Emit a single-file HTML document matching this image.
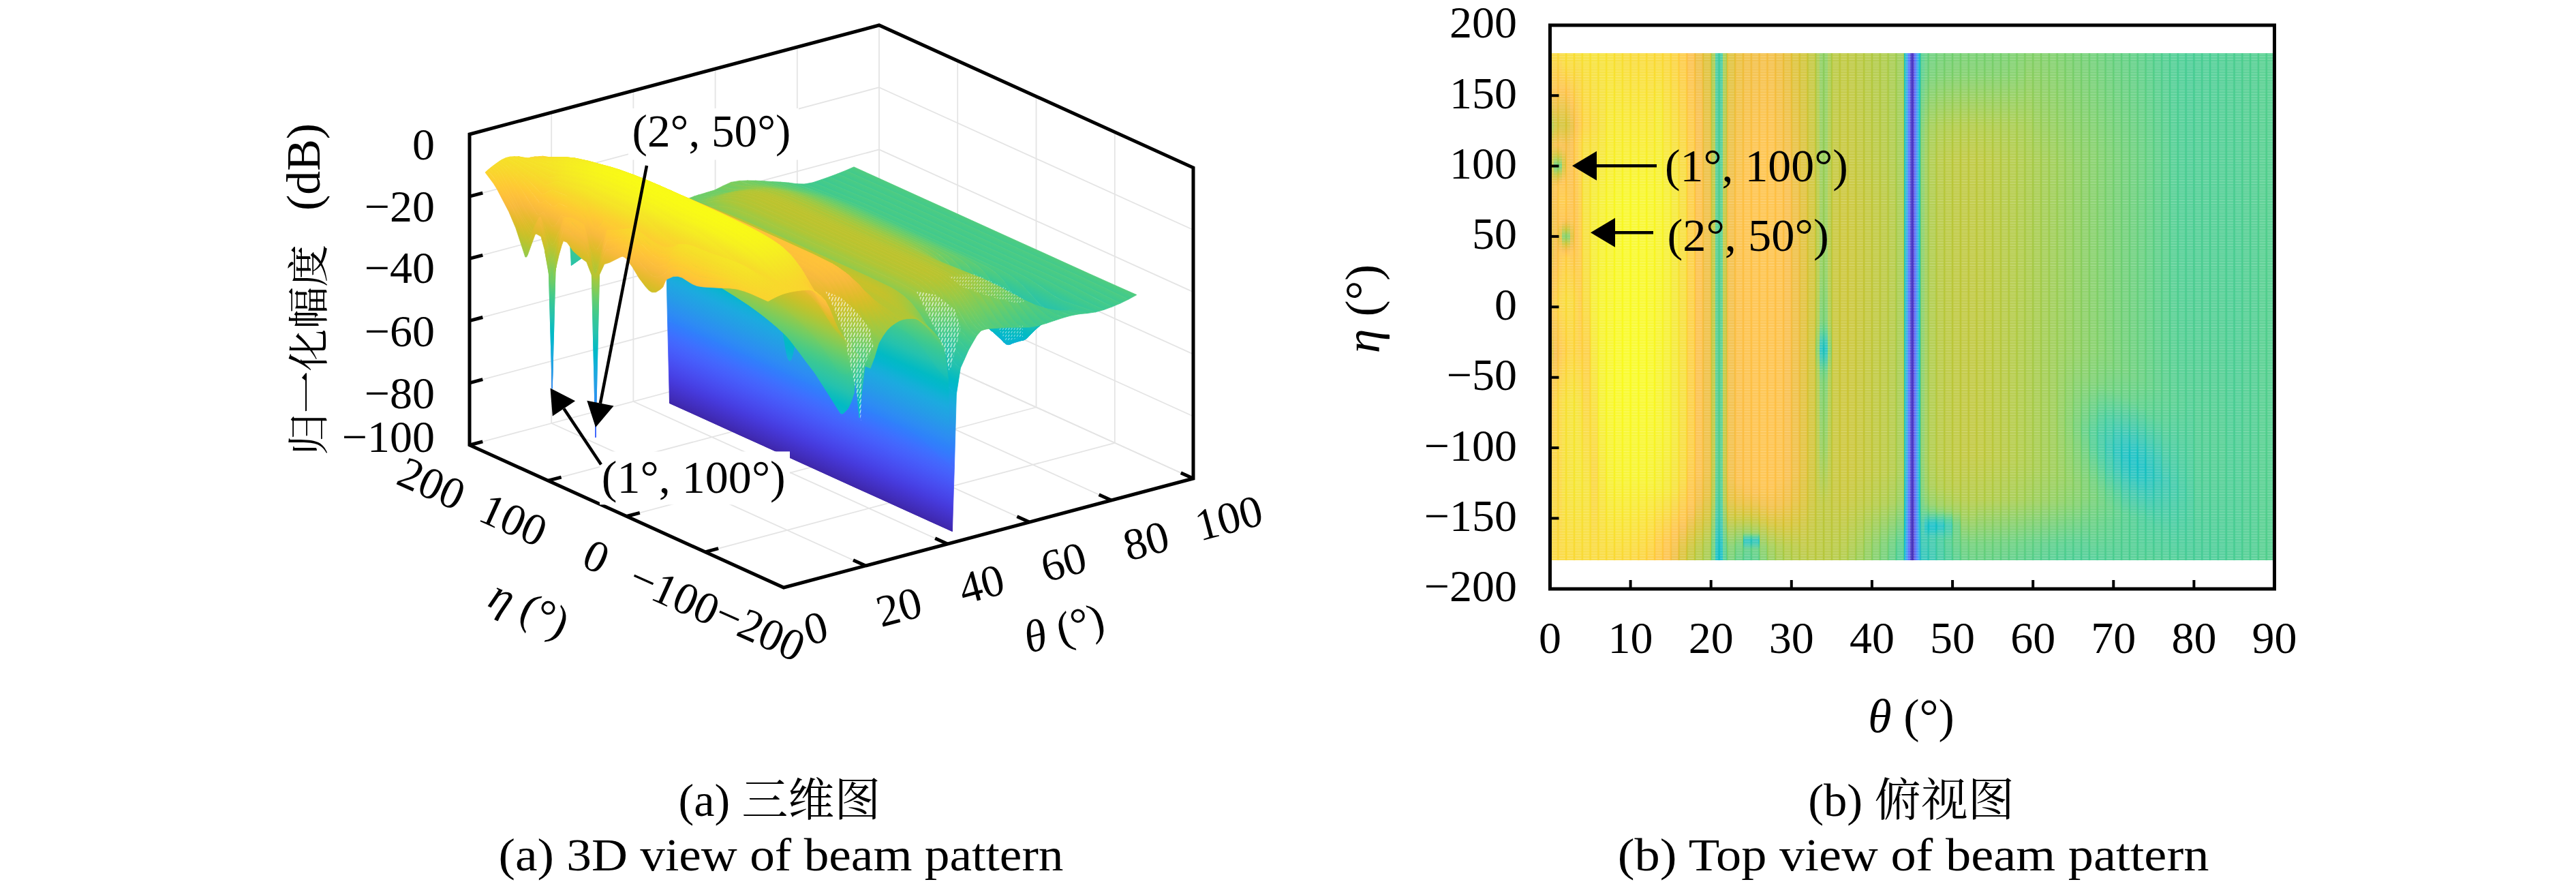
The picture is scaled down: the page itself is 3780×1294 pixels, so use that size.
<!DOCTYPE html>
<html lang="zh"><head><meta charset="utf-8"><title>Beam pattern</title>
<style>html,body{margin:0;padding:0;background:#fff}svg{display:block}text{font-family:"Liberation Serif","Noto Serif CJK SC",serif;fill:#000}</style></head><body>
<svg width="3780" height="1294" viewBox="0 0 3780 1294">
<rect width="3780" height="1294" fill="#fff"/>
<defs><linearGradient id="pal"><stop offset="0.0000" stop-color="#3e26a8"/><stop offset="0.0250" stop-color="#412dbb"/><stop offset="0.0500" stop-color="#4433cc"/><stop offset="0.0750" stop-color="#463adc"/><stop offset="0.1000" stop-color="#4743e7"/><stop offset="0.1250" stop-color="#484cef"/><stop offset="0.1500" stop-color="#4755f6"/><stop offset="0.1750" stop-color="#465efb"/><stop offset="0.2000" stop-color="#4367fd"/><stop offset="0.2250" stop-color="#3d70ff"/><stop offset="0.2500" stop-color="#347afd"/><stop offset="0.2750" stop-color="#2e83f9"/><stop offset="0.3000" stop-color="#2d8cf3"/><stop offset="0.3250" stop-color="#2994ed"/><stop offset="0.3500" stop-color="#259ce7"/><stop offset="0.3750" stop-color="#21a3e3"/><stop offset="0.4000" stop-color="#1caadf"/><stop offset="0.4250" stop-color="#13b0d7"/><stop offset="0.4500" stop-color="#05b6ce"/><stop offset="0.4750" stop-color="#02bac4"/><stop offset="0.5000" stop-color="#12beb9"/><stop offset="0.5250" stop-color="#24c2ae"/><stop offset="0.5500" stop-color="#2fc5a2"/><stop offset="0.5750" stop-color="#39c895"/><stop offset="0.6000" stop-color="#48cb86"/><stop offset="0.6250" stop-color="#5ccc76"/><stop offset="0.6500" stop-color="#71cd64"/><stop offset="0.6750" stop-color="#88cb53"/><stop offset="0.7000" stop-color="#9fc942"/><stop offset="0.7250" stop-color="#b4c533"/><stop offset="0.7500" stop-color="#c8c129"/><stop offset="0.7750" stop-color="#dabd28"/><stop offset="0.8000" stop-color="#eaba31"/><stop offset="0.8250" stop-color="#f8ba3d"/><stop offset="0.8500" stop-color="#fec13a"/><stop offset="0.8750" stop-color="#feca33"/><stop offset="0.9000" stop-color="#fad42e"/><stop offset="0.9250" stop-color="#f6de29"/><stop offset="0.9500" stop-color="#f5e825"/><stop offset="0.9750" stop-color="#f6f21e"/><stop offset="1.0000" stop-color="#f9fb15"/></linearGradient><linearGradient id="s0" href="#pal" xlink:href="#pal" gradientUnits="userSpaceOnUse" x1="1128.5" y1="851.1" x2="1299.9" y2="472.9"/><linearGradient id="s1" href="#pal" xlink:href="#pal" gradientUnits="userSpaceOnUse" x1="1131.5" y1="850.3" x2="1302.9" y2="472.1"/><linearGradient id="s2" href="#pal" xlink:href="#pal" gradientUnits="userSpaceOnUse" x1="1134.5" y1="849.5" x2="1305.9" y2="471.3"/><linearGradient id="s3" href="#pal" xlink:href="#pal" gradientUnits="userSpaceOnUse" x1="1137.5" y1="848.8" x2="1308.9" y2="470.5"/><linearGradient id="s4" href="#pal" xlink:href="#pal" gradientUnits="userSpaceOnUse" x1="1140.5" y1="847.9" x2="1311.9" y2="469.7"/><linearGradient id="s5" href="#pal" xlink:href="#pal" gradientUnits="userSpaceOnUse" x1="1143.5" y1="847.1" x2="1314.9" y2="468.9"/><linearGradient id="s6" href="#pal" xlink:href="#pal" gradientUnits="userSpaceOnUse" x1="1146.5" y1="846.3" x2="1317.9" y2="468.1"/><linearGradient id="s7" href="#pal" xlink:href="#pal" gradientUnits="userSpaceOnUse" x1="1149.5" y1="845.5" x2="1320.9" y2="467.3"/><linearGradient id="s8" href="#pal" xlink:href="#pal" gradientUnits="userSpaceOnUse" x1="1154.0" y1="844.3" x2="1325.5" y2="466.1"/><linearGradient id="s9" href="#pal" xlink:href="#pal" gradientUnits="userSpaceOnUse" x1="1160.0" y1="842.8" x2="1331.5" y2="464.5"/><linearGradient id="s10" href="#pal" xlink:href="#pal" gradientUnits="userSpaceOnUse" x1="1166.0" y1="841.1" x2="1337.5" y2="462.9"/><linearGradient id="s11" href="#pal" xlink:href="#pal" gradientUnits="userSpaceOnUse" x1="1172.0" y1="839.5" x2="1343.5" y2="461.3"/><linearGradient id="s12" href="#pal" xlink:href="#pal" gradientUnits="userSpaceOnUse" x1="1178.0" y1="837.9" x2="1349.5" y2="459.7"/><linearGradient id="s13" href="#pal" xlink:href="#pal" gradientUnits="userSpaceOnUse" x1="1184.0" y1="836.3" x2="1355.5" y2="458.1"/><linearGradient id="s14" href="#pal" xlink:href="#pal" gradientUnits="userSpaceOnUse" x1="1190.1" y1="834.8" x2="1361.5" y2="456.5"/><linearGradient id="s15" href="#pal" xlink:href="#pal" gradientUnits="userSpaceOnUse" x1="1196.1" y1="833.1" x2="1367.5" y2="454.9"/><linearGradient id="s16" href="#pal" xlink:href="#pal" gradientUnits="userSpaceOnUse" x1="1202.1" y1="831.5" x2="1373.5" y2="453.3"/><linearGradient id="s17" href="#pal" xlink:href="#pal" gradientUnits="userSpaceOnUse" x1="1208.1" y1="829.9" x2="1379.5" y2="451.7"/><linearGradient id="s18" href="#pal" xlink:href="#pal" gradientUnits="userSpaceOnUse" x1="1214.1" y1="828.3" x2="1385.6" y2="450.1"/><linearGradient id="s19" href="#pal" xlink:href="#pal" gradientUnits="userSpaceOnUse" x1="1220.1" y1="826.8" x2="1391.6" y2="448.5"/><linearGradient id="s20" href="#pal" xlink:href="#pal" gradientUnits="userSpaceOnUse" x1="1226.1" y1="825.1" x2="1397.6" y2="446.9"/><linearGradient id="s21" href="#pal" xlink:href="#pal" gradientUnits="userSpaceOnUse" x1="1232.1" y1="823.5" x2="1403.6" y2="445.3"/><linearGradient id="s22" href="#pal" xlink:href="#pal" gradientUnits="userSpaceOnUse" x1="1238.1" y1="821.9" x2="1409.6" y2="443.7"/><linearGradient id="s23" href="#pal" xlink:href="#pal" gradientUnits="userSpaceOnUse" x1="1242.6" y1="820.8" x2="1414.1" y2="442.5"/><linearGradient id="s24" href="#pal" xlink:href="#pal" gradientUnits="userSpaceOnUse" x1="1245.6" y1="819.9" x2="1417.1" y2="441.7"/><linearGradient id="s25" href="#pal" xlink:href="#pal" gradientUnits="userSpaceOnUse" x1="1248.7" y1="819.1" x2="1420.1" y2="440.9"/><linearGradient id="s26" href="#pal" xlink:href="#pal" gradientUnits="userSpaceOnUse" x1="1251.7" y1="818.3" x2="1423.1" y2="440.1"/><linearGradient id="s27" href="#pal" xlink:href="#pal" gradientUnits="userSpaceOnUse" x1="1254.7" y1="817.5" x2="1426.1" y2="439.3"/><linearGradient id="s28" href="#pal" xlink:href="#pal" gradientUnits="userSpaceOnUse" x1="1257.7" y1="816.8" x2="1429.1" y2="438.5"/><linearGradient id="s29" href="#pal" xlink:href="#pal" gradientUnits="userSpaceOnUse" x1="1260.7" y1="815.9" x2="1432.1" y2="437.7"/><linearGradient id="s30" href="#pal" xlink:href="#pal" gradientUnits="userSpaceOnUse" x1="1263.7" y1="815.1" x2="1435.1" y2="436.9"/><linearGradient id="s31" href="#pal" xlink:href="#pal" gradientUnits="userSpaceOnUse" x1="1268.2" y1="813.9" x2="1439.6" y2="435.7"/><linearGradient id="s32" href="#pal" xlink:href="#pal" gradientUnits="userSpaceOnUse" x1="1274.2" y1="812.3" x2="1445.7" y2="434.1"/><linearGradient id="s33" href="#pal" xlink:href="#pal" gradientUnits="userSpaceOnUse" x1="1280.2" y1="810.8" x2="1451.7" y2="432.5"/><linearGradient id="s34" href="#pal" xlink:href="#pal" gradientUnits="userSpaceOnUse" x1="1286.2" y1="809.1" x2="1457.7" y2="430.9"/><linearGradient id="s35" href="#pal" xlink:href="#pal" gradientUnits="userSpaceOnUse" x1="1292.2" y1="807.5" x2="1463.7" y2="429.3"/><linearGradient id="s36" href="#pal" xlink:href="#pal" gradientUnits="userSpaceOnUse" x1="1298.2" y1="805.9" x2="1469.7" y2="427.7"/><linearGradient id="s37" href="#pal" xlink:href="#pal" gradientUnits="userSpaceOnUse" x1="1304.2" y1="804.3" x2="1475.7" y2="426.1"/><linearGradient id="s38" href="#pal" xlink:href="#pal" gradientUnits="userSpaceOnUse" x1="1310.3" y1="802.8" x2="1481.7" y2="424.5"/><linearGradient id="s39" href="#pal" xlink:href="#pal" gradientUnits="userSpaceOnUse" x1="1316.3" y1="801.1" x2="1487.7" y2="422.9"/><linearGradient id="s40" href="#pal" xlink:href="#pal" gradientUnits="userSpaceOnUse" x1="1322.3" y1="799.5" x2="1493.7" y2="421.3"/><linearGradient id="s41" href="#pal" xlink:href="#pal" gradientUnits="userSpaceOnUse" x1="1326.8" y1="798.3" x2="1498.2" y2="420.1"/><linearGradient id="s42" href="#pal" xlink:href="#pal" gradientUnits="userSpaceOnUse" x1="1329.8" y1="797.5" x2="1501.2" y2="419.3"/><linearGradient id="s43" href="#pal" xlink:href="#pal" gradientUnits="userSpaceOnUse" x1="1332.8" y1="796.8" x2="1504.3" y2="418.5"/><linearGradient id="s44" href="#pal" xlink:href="#pal" gradientUnits="userSpaceOnUse" x1="1335.8" y1="795.9" x2="1507.3" y2="417.7"/><linearGradient id="s45" href="#pal" xlink:href="#pal" gradientUnits="userSpaceOnUse" x1="1340.3" y1="794.8" x2="1511.8" y2="416.5"/><linearGradient id="s46" href="#pal" xlink:href="#pal" gradientUnits="userSpaceOnUse" x1="1346.3" y1="793.1" x2="1517.8" y2="414.9"/><linearGradient id="s47" href="#pal" xlink:href="#pal" gradientUnits="userSpaceOnUse" x1="1352.3" y1="791.5" x2="1523.8" y2="413.3"/><linearGradient id="s48" href="#pal" xlink:href="#pal" gradientUnits="userSpaceOnUse" x1="1358.3" y1="789.9" x2="1529.8" y2="411.7"/><linearGradient id="s49" href="#pal" xlink:href="#pal" gradientUnits="userSpaceOnUse" x1="1364.3" y1="788.3" x2="1535.8" y2="410.1"/><linearGradient id="s50" href="#pal" xlink:href="#pal" gradientUnits="userSpaceOnUse" x1="1370.4" y1="786.8" x2="1541.8" y2="408.5"/><linearGradient id="s51" href="#pal" xlink:href="#pal" gradientUnits="userSpaceOnUse" x1="1376.4" y1="785.1" x2="1547.8" y2="406.9"/><linearGradient id="s52" href="#pal" xlink:href="#pal" gradientUnits="userSpaceOnUse" x1="1382.4" y1="783.5" x2="1553.8" y2="405.3"/><linearGradient id="s53" href="#pal" xlink:href="#pal" gradientUnits="userSpaceOnUse" x1="1388.4" y1="781.9" x2="1559.8" y2="403.7"/><linearGradient id="s54" href="#pal" xlink:href="#pal" gradientUnits="userSpaceOnUse" x1="1392.9" y1="780.8" x2="1564.4" y2="402.5"/><linearGradient id="s55" href="#pal" xlink:href="#pal" gradientUnits="userSpaceOnUse" x1="1395.9" y1="779.9" x2="1567.4" y2="401.7"/><linearGradient id="s56" href="#pal" xlink:href="#pal" gradientUnits="userSpaceOnUse" x1="1398.9" y1="779.1" x2="1570.4" y2="400.9"/><linearGradient id="s57" href="#pal" xlink:href="#pal" gradientUnits="userSpaceOnUse" x1="1401.9" y1="778.3" x2="1573.4" y2="400.1"/><linearGradient id="s58" href="#pal" xlink:href="#pal" gradientUnits="userSpaceOnUse" x1="1406.4" y1="777.1" x2="1577.9" y2="398.9"/><linearGradient id="s59" href="#pal" xlink:href="#pal" gradientUnits="userSpaceOnUse" x1="1412.4" y1="775.5" x2="1583.9" y2="397.3"/><linearGradient id="s60" href="#pal" xlink:href="#pal" gradientUnits="userSpaceOnUse" x1="1418.4" y1="773.9" x2="1589.9" y2="395.7"/><linearGradient id="s61" href="#pal" xlink:href="#pal" gradientUnits="userSpaceOnUse" x1="1424.4" y1="772.3" x2="1595.9" y2="394.1"/><linearGradient id="s62" href="#pal" xlink:href="#pal" gradientUnits="userSpaceOnUse" x1="1430.5" y1="770.8" x2="1601.9" y2="392.5"/><linearGradient id="s63" href="#pal" xlink:href="#pal" gradientUnits="userSpaceOnUse" x1="1436.5" y1="769.1" x2="1607.9" y2="390.9"/><linearGradient id="s64" href="#pal" xlink:href="#pal" gradientUnits="userSpaceOnUse" x1="1442.5" y1="767.5" x2="1613.9" y2="389.3"/><linearGradient id="s65" href="#pal" xlink:href="#pal" gradientUnits="userSpaceOnUse" x1="1448.5" y1="765.9" x2="1619.9" y2="387.7"/><linearGradient id="s66" href="#pal" xlink:href="#pal" gradientUnits="userSpaceOnUse" x1="1454.5" y1="764.3" x2="1626.0" y2="386.1"/><linearGradient id="s67" href="#pal" xlink:href="#pal" gradientUnits="userSpaceOnUse" x1="1460.5" y1="762.8" x2="1632.0" y2="384.5"/><linearGradient id="s68" href="#pal" xlink:href="#pal" gradientUnits="userSpaceOnUse" x1="1469.5" y1="760.3" x2="1641.0" y2="382.1"/><linearGradient id="s69" href="#pal" xlink:href="#pal" gradientUnits="userSpaceOnUse" x1="1481.5" y1="757.1" x2="1653.0" y2="378.9"/><linearGradient id="s70" href="#pal" xlink:href="#pal" gradientUnits="userSpaceOnUse" x1="1493.6" y1="753.9" x2="1665.0" y2="375.7"/><linearGradient id="s71" href="#pal" xlink:href="#pal" gradientUnits="userSpaceOnUse" x1="1505.6" y1="750.8" x2="1677.0" y2="372.5"/><linearGradient id="s72" href="#pal" xlink:href="#pal" gradientUnits="userSpaceOnUse" x1="1517.6" y1="747.5" x2="1689.1" y2="369.3"/><linearGradient id="s73" href="#pal" xlink:href="#pal" gradientUnits="userSpaceOnUse" x1="1529.6" y1="744.3" x2="1701.1" y2="366.1"/><linearGradient id="s74" href="#pal" xlink:href="#pal" gradientUnits="userSpaceOnUse" x1="1541.6" y1="741.1" x2="1713.1" y2="362.9"/><linearGradient id="s75" href="#pal" xlink:href="#pal" gradientUnits="userSpaceOnUse" x1="1553.7" y1="737.9" x2="1725.1" y2="359.7"/><linearGradient id="s76" href="#pal" xlink:href="#pal" gradientUnits="userSpaceOnUse" x1="1565.7" y1="734.8" x2="1737.1" y2="356.5"/><linearGradient id="s77" href="#pal" xlink:href="#pal" gradientUnits="userSpaceOnUse" x1="1577.7" y1="731.5" x2="1749.2" y2="353.3"/><linearGradient id="s78" href="#pal" xlink:href="#pal" gradientUnits="userSpaceOnUse" x1="1589.7" y1="728.3" x2="1761.2" y2="350.1"/><linearGradient id="s79" href="#pal" xlink:href="#pal" gradientUnits="userSpaceOnUse" x1="1601.7" y1="725.1" x2="1773.2" y2="346.9"/><linearGradient id="s80" href="#pal" xlink:href="#pal" gradientUnits="userSpaceOnUse" x1="1613.8" y1="721.9" x2="1785.2" y2="343.7"/><linearGradient id="s81" href="#pal" xlink:href="#pal" gradientUnits="userSpaceOnUse" x1="1625.8" y1="718.8" x2="1797.2" y2="340.5"/><linearGradient id="s82" href="#pal" xlink:href="#pal" gradientUnits="userSpaceOnUse" x1="1637.8" y1="715.5" x2="1809.3" y2="337.3"/><linearGradient id="s83" href="#pal" xlink:href="#pal" gradientUnits="userSpaceOnUse" x1="1649.8" y1="712.3" x2="1821.3" y2="334.1"/><linearGradient id="s84" href="#pal" xlink:href="#pal" gradientUnits="userSpaceOnUse" x1="1661.8" y1="709.1" x2="1833.3" y2="330.9"/><linearGradient id="h0" x1="0" y1="0" x2="0" y2="1"><stop offset="0.0000" stop-color="#fad634"/><stop offset="0.0556" stop-color="#fec53e"/><stop offset="0.0806" stop-color="#f8bc43"/><stop offset="0.1194" stop-color="#d2c12e"/><stop offset="0.1417" stop-color="#afc83e"/><stop offset="0.1472" stop-color="#b2c83c"/><stop offset="0.1639" stop-color="#d2c12e"/><stop offset="0.1778" stop-color="#e8bd35"/><stop offset="0.1889" stop-color="#e7bd34"/><stop offset="0.2028" stop-color="#d0c22e"/><stop offset="0.2222" stop-color="#b9c638"/><stop offset="0.2417" stop-color="#d5c12e"/><stop offset="0.2556" stop-color="#eebc39"/><stop offset="0.2806" stop-color="#f3bc3f"/><stop offset="0.3778" stop-color="#e3be32"/><stop offset="0.4528" stop-color="#f8bc42"/><stop offset="0.5056" stop-color="#fec042"/><stop offset="0.5278" stop-color="#f8bc43"/><stop offset="0.5889" stop-color="#e2be31"/><stop offset="0.6444" stop-color="#fec042"/><stop offset="0.8861" stop-color="#fbd435"/><stop offset="1.0000" stop-color="#fbd534"/></linearGradient><linearGradient id="h1" x1="0" y1="0" x2="0" y2="1"><stop offset="0.0000" stop-color="#f9d833"/><stop offset="0.0750" stop-color="#fdbf42"/><stop offset="0.1083" stop-color="#eabd37"/><stop offset="0.1417" stop-color="#cac330"/><stop offset="0.1583" stop-color="#ddbf2f"/><stop offset="0.1806" stop-color="#f6bc41"/><stop offset="0.1944" stop-color="#dfbf30"/><stop offset="0.2028" stop-color="#c6c431"/><stop offset="0.2083" stop-color="#adc93f"/><stop offset="0.2194" stop-color="#6bce71"/><stop offset="0.2222" stop-color="#65ce76"/><stop offset="0.2250" stop-color="#6cce71"/><stop offset="0.2361" stop-color="#b2c83c"/><stop offset="0.2417" stop-color="#cdc22f"/><stop offset="0.2528" stop-color="#eebc39"/><stop offset="0.2639" stop-color="#fec042"/><stop offset="0.3611" stop-color="#f3bc3e"/><stop offset="0.4250" stop-color="#febf42"/><stop offset="0.4889" stop-color="#fdcc39"/><stop offset="0.5944" stop-color="#f8bc43"/><stop offset="0.6833" stop-color="#fcd136"/><stop offset="1.0000" stop-color="#fad634"/></linearGradient><linearGradient id="h2" x1="0" y1="0" x2="0" y2="1"><stop offset="0.0000" stop-color="#f9d932"/><stop offset="0.0722" stop-color="#fec042"/><stop offset="0.1417" stop-color="#d2c12e"/><stop offset="0.1806" stop-color="#f9bd43"/><stop offset="0.1917" stop-color="#eabd36"/><stop offset="0.2028" stop-color="#cdc22f"/><stop offset="0.2083" stop-color="#b5c73a"/><stop offset="0.2194" stop-color="#75ce69"/><stop offset="0.2222" stop-color="#6fce6e"/><stop offset="0.2250" stop-color="#76ce68"/><stop offset="0.2333" stop-color="#adc940"/><stop offset="0.2389" stop-color="#cbc330"/><stop offset="0.2500" stop-color="#efbc3b"/><stop offset="0.2556" stop-color="#fabd43"/><stop offset="0.2611" stop-color="#fec240"/><stop offset="0.2889" stop-color="#fec73c"/><stop offset="0.3306" stop-color="#febf42"/><stop offset="0.3611" stop-color="#dfbf30"/><stop offset="0.3861" stop-color="#f9bd43"/><stop offset="0.3944" stop-color="#fec340"/><stop offset="0.4889" stop-color="#fbd435"/><stop offset="0.5889" stop-color="#fec340"/><stop offset="0.6833" stop-color="#fad733"/><stop offset="1.0000" stop-color="#fad634"/></linearGradient><linearGradient id="h3" x1="0" y1="0" x2="0" y2="1"><stop offset="0.0000" stop-color="#f8db32"/><stop offset="0.0222" stop-color="#f9d833"/><stop offset="0.0722" stop-color="#fec042"/><stop offset="0.1417" stop-color="#d2c12e"/><stop offset="0.1556" stop-color="#debf30"/><stop offset="0.1806" stop-color="#f6bc41"/><stop offset="0.1889" stop-color="#f6bc41"/><stop offset="0.2056" stop-color="#e1be31"/><stop offset="0.2222" stop-color="#d5c12e"/><stop offset="0.2528" stop-color="#febf42"/><stop offset="0.2889" stop-color="#fec83c"/><stop offset="0.3250" stop-color="#fec141"/><stop offset="0.3306" stop-color="#f9bd43"/><stop offset="0.3361" stop-color="#eebc3a"/><stop offset="0.3472" stop-color="#c9c330"/><stop offset="0.3583" stop-color="#8acd5a"/><stop offset="0.3611" stop-color="#84cd5e"/><stop offset="0.3639" stop-color="#8acd59"/><stop offset="0.3750" stop-color="#cbc32f"/><stop offset="0.3833" stop-color="#eabd36"/><stop offset="0.3889" stop-color="#f7bc42"/><stop offset="0.3944" stop-color="#fec141"/><stop offset="0.4028" stop-color="#feca3a"/><stop offset="0.4889" stop-color="#f9d933"/><stop offset="0.5861" stop-color="#feca3a"/><stop offset="0.6861" stop-color="#f7dd31"/><stop offset="0.8667" stop-color="#f7df30"/><stop offset="1.0000" stop-color="#fad733"/></linearGradient><linearGradient id="h4" x1="0" y1="0" x2="0" y2="1"><stop offset="0.0000" stop-color="#f8dc31"/><stop offset="0.0222" stop-color="#f9da32"/><stop offset="0.0806" stop-color="#fdbf42"/><stop offset="0.1417" stop-color="#d6c02e"/><stop offset="0.1806" stop-color="#f3bc3f"/><stop offset="0.2917" stop-color="#fec43f"/><stop offset="0.3250" stop-color="#fdbf42"/><stop offset="0.3361" stop-color="#ebbc38"/><stop offset="0.3444" stop-color="#d2c12e"/><stop offset="0.3500" stop-color="#b8c738"/><stop offset="0.3583" stop-color="#88cd5b"/><stop offset="0.3611" stop-color="#82cd60"/><stop offset="0.3639" stop-color="#89cd5a"/><stop offset="0.3750" stop-color="#cbc32f"/><stop offset="0.3833" stop-color="#eabd36"/><stop offset="0.3889" stop-color="#f8bc42"/><stop offset="0.3944" stop-color="#fec141"/><stop offset="0.4028" stop-color="#fecb3a"/><stop offset="0.4889" stop-color="#f8db32"/><stop offset="0.5861" stop-color="#fdd037"/><stop offset="0.6889" stop-color="#f6e02f"/><stop offset="0.8611" stop-color="#f6e12f"/><stop offset="1.0000" stop-color="#fad833"/></linearGradient><linearGradient id="h5" x1="0" y1="0" x2="0" y2="1"><stop offset="0.0000" stop-color="#f7dd30"/><stop offset="0.0333" stop-color="#f9d833"/><stop offset="0.0972" stop-color="#fec042"/><stop offset="0.1250" stop-color="#f1bc3c"/><stop offset="0.1444" stop-color="#e8bd34"/><stop offset="0.1778" stop-color="#fabd43"/><stop offset="0.3278" stop-color="#fec042"/><stop offset="0.3611" stop-color="#dfbf30"/><stop offset="0.3833" stop-color="#f8bc42"/><stop offset="0.3917" stop-color="#fec240"/><stop offset="0.4889" stop-color="#f9d833"/><stop offset="0.5889" stop-color="#fcd335"/><stop offset="0.6861" stop-color="#f5e32e"/><stop offset="0.8556" stop-color="#f5e32e"/><stop offset="1.0000" stop-color="#f9d833"/></linearGradient><linearGradient id="h6" x1="0" y1="0" x2="0" y2="1"><stop offset="0.0000" stop-color="#f7de30"/><stop offset="0.1417" stop-color="#fbbe43"/><stop offset="0.1806" stop-color="#fec73d"/><stop offset="0.3639" stop-color="#fdbf42"/><stop offset="0.4889" stop-color="#fcd236"/><stop offset="0.5917" stop-color="#fcd136"/><stop offset="0.6944" stop-color="#f5e32e"/><stop offset="0.8500" stop-color="#f5e52d"/><stop offset="1.0000" stop-color="#f9d833"/></linearGradient><linearGradient id="h7" x1="0" y1="0" x2="0" y2="1"><stop offset="0.0000" stop-color="#f6df2f"/><stop offset="0.1417" stop-color="#fec73c"/><stop offset="0.1806" stop-color="#fcd236"/><stop offset="0.3833" stop-color="#fec93b"/><stop offset="0.5806" stop-color="#fecc39"/><stop offset="0.6833" stop-color="#f7de30"/><stop offset="0.8333" stop-color="#f5e52d"/><stop offset="1.0000" stop-color="#f9d933"/></linearGradient><linearGradient id="h8" x1="0" y1="0" x2="0" y2="1"><stop offset="0.0000" stop-color="#f6e02f"/><stop offset="0.1417" stop-color="#fcd236"/><stop offset="0.1806" stop-color="#f7dd31"/><stop offset="0.2889" stop-color="#f6e22e"/><stop offset="0.4889" stop-color="#f8da32"/><stop offset="0.5917" stop-color="#fdcd39"/><stop offset="0.8611" stop-color="#f6e22f"/><stop offset="1.0000" stop-color="#f9d933"/></linearGradient><linearGradient id="h9" x1="0" y1="0" x2="0" y2="1"><stop offset="0.0000" stop-color="#f6e12f"/><stop offset="0.1417" stop-color="#f8da32"/><stop offset="0.2778" stop-color="#f5eb2a"/><stop offset="0.4861" stop-color="#f6ee28"/><stop offset="0.8194" stop-color="#fad534"/><stop offset="1.0000" stop-color="#f9d933"/></linearGradient><linearGradient id="h10" x1="0" y1="0" x2="0" y2="1"><stop offset="0.0000" stop-color="#f6e02f"/><stop offset="0.1389" stop-color="#f6e02f"/><stop offset="0.2806" stop-color="#f6ef27"/><stop offset="0.4917" stop-color="#f7f423"/><stop offset="0.7028" stop-color="#f6f125"/><stop offset="1.0000" stop-color="#f9d833"/></linearGradient><linearGradient id="h11" x1="0" y1="0" x2="0" y2="1"><stop offset="0.0000" stop-color="#f7df30"/><stop offset="0.2889" stop-color="#f7f324"/><stop offset="0.6750" stop-color="#f8f720"/><stop offset="0.8361" stop-color="#f6f026"/><stop offset="1.0000" stop-color="#f9d833"/></linearGradient><linearGradient id="h12" x1="0" y1="0" x2="0" y2="1"><stop offset="0.0000" stop-color="#f7dd31"/><stop offset="0.2889" stop-color="#f7f622"/><stop offset="0.6583" stop-color="#f9f91d"/><stop offset="0.8361" stop-color="#f7f224"/><stop offset="1.0000" stop-color="#fad733"/></linearGradient><linearGradient id="h13" x1="0" y1="0" x2="0" y2="1"><stop offset="0.0000" stop-color="#f8da32"/><stop offset="0.2833" stop-color="#f8f720"/><stop offset="0.6361" stop-color="#f9fb1c"/><stop offset="0.8333" stop-color="#f7f323"/><stop offset="1.0000" stop-color="#fad634"/></linearGradient><linearGradient id="h14" x1="0" y1="0" x2="0" y2="1"><stop offset="0.0000" stop-color="#f9d932"/><stop offset="0.2778" stop-color="#f8f720"/><stop offset="0.6278" stop-color="#f9fb1c"/><stop offset="0.8333" stop-color="#f7f423"/><stop offset="1.0000" stop-color="#fbd435"/></linearGradient><linearGradient id="h15" x1="0" y1="0" x2="0" y2="1"><stop offset="0.0000" stop-color="#f9d933"/><stop offset="0.2750" stop-color="#f8f621"/><stop offset="0.6417" stop-color="#f9fa1d"/><stop offset="0.8389" stop-color="#f7f324"/><stop offset="1.0000" stop-color="#fcd136"/></linearGradient><linearGradient id="h16" x1="0" y1="0" x2="0" y2="1"><stop offset="0.0000" stop-color="#f9d833"/><stop offset="0.2750" stop-color="#f7f522"/><stop offset="0.6694" stop-color="#f8f81f"/><stop offset="0.8444" stop-color="#f6f126"/><stop offset="1.0000" stop-color="#fecc39"/></linearGradient><linearGradient id="h17" x1="0" y1="0" x2="0" y2="1"><stop offset="0.0000" stop-color="#fad733"/><stop offset="0.1250" stop-color="#f5e92b"/><stop offset="0.2778" stop-color="#f7f324"/><stop offset="0.7278" stop-color="#f7f423"/><stop offset="0.8556" stop-color="#f5ed29"/><stop offset="0.9611" stop-color="#fecb3a"/><stop offset="1.0000" stop-color="#fec63d"/></linearGradient><linearGradient id="h18" x1="0" y1="0" x2="0" y2="1"><stop offset="0.0000" stop-color="#fad534"/><stop offset="0.2806" stop-color="#f6ef28"/><stop offset="0.7500" stop-color="#f6f027"/><stop offset="0.8583" stop-color="#f5e82b"/><stop offset="0.9611" stop-color="#fec43f"/><stop offset="1.0000" stop-color="#fdbf42"/></linearGradient><linearGradient id="h19" x1="0" y1="0" x2="0" y2="1"><stop offset="0.0000" stop-color="#fcd136"/><stop offset="0.2778" stop-color="#f5e82c"/><stop offset="0.7500" stop-color="#f5e92b"/><stop offset="0.8583" stop-color="#f6e12f"/><stop offset="0.9444" stop-color="#fec042"/><stop offset="1.0000" stop-color="#edbc39"/></linearGradient><linearGradient id="h20" x1="0" y1="0" x2="0" y2="1"><stop offset="0.0000" stop-color="#fec83c"/><stop offset="0.2667" stop-color="#f7dd31"/><stop offset="0.6806" stop-color="#f7df30"/><stop offset="0.8389" stop-color="#f9d932"/><stop offset="0.9194" stop-color="#fec141"/><stop offset="0.9333" stop-color="#f8bc43"/><stop offset="0.9750" stop-color="#debf2f"/><stop offset="1.0000" stop-color="#d8c02e"/></linearGradient><linearGradient id="h21" x1="0" y1="0" x2="0" y2="1"><stop offset="0.0000" stop-color="#fbbd43"/><stop offset="0.1694" stop-color="#fec93b"/><stop offset="0.4500" stop-color="#fdce38"/><stop offset="0.7917" stop-color="#fdcc39"/><stop offset="0.8889" stop-color="#fec042"/><stop offset="0.9056" stop-color="#f8bc43"/><stop offset="0.9472" stop-color="#dcbf2f"/><stop offset="0.9750" stop-color="#c9c330"/><stop offset="1.0000" stop-color="#c2c533"/></linearGradient><linearGradient id="h22" x1="0" y1="0" x2="0" y2="1"><stop offset="0.0000" stop-color="#ecbc38"/><stop offset="0.1250" stop-color="#f8bc43"/><stop offset="0.2667" stop-color="#fcbe42"/><stop offset="0.8250" stop-color="#fbbe43"/><stop offset="0.8833" stop-color="#f1bc3c"/><stop offset="0.9361" stop-color="#d2c12e"/><stop offset="0.9722" stop-color="#b9c638"/><stop offset="1.0000" stop-color="#b1c83d"/></linearGradient><linearGradient id="h23" x1="0" y1="0" x2="0" y2="1"><stop offset="0.0000" stop-color="#dcbf2f"/><stop offset="0.2833" stop-color="#efbc3a"/><stop offset="0.8167" stop-color="#eebc39"/><stop offset="0.8694" stop-color="#e6bd33"/><stop offset="0.9139" stop-color="#d2c12e"/><stop offset="0.9694" stop-color="#aac941"/><stop offset="1.0000" stop-color="#a1ca47"/></linearGradient><linearGradient id="h24" x1="0" y1="0" x2="0" y2="1"><stop offset="0.0000" stop-color="#a0ca48"/><stop offset="0.2833" stop-color="#bcc636"/><stop offset="0.8139" stop-color="#bbc637"/><stop offset="0.8806" stop-color="#acc940"/><stop offset="0.9639" stop-color="#69ce73"/><stop offset="1.0000" stop-color="#5dce7d"/></linearGradient><linearGradient id="h25" x1="0" y1="0" x2="0" y2="1"><stop offset="0.0000" stop-color="#3ac99e"/><stop offset="0.2917" stop-color="#4ccc8b"/><stop offset="0.8083" stop-color="#4ccc8b"/><stop offset="0.8639" stop-color="#44cb92"/><stop offset="0.9111" stop-color="#37c7a3"/><stop offset="0.9694" stop-color="#13bfbe"/><stop offset="1.0000" stop-color="#0bbdc4"/></linearGradient><linearGradient id="h26" x1="0" y1="0" x2="0" y2="1"><stop offset="0.0000" stop-color="#3ac99e"/><stop offset="0.2944" stop-color="#4dcd8a"/><stop offset="0.8083" stop-color="#4dcd8a"/><stop offset="0.8611" stop-color="#46cc91"/><stop offset="0.9056" stop-color="#38c8a1"/><stop offset="0.9333" stop-color="#2bc3b0"/><stop offset="0.9694" stop-color="#0ebec2"/><stop offset="1.0000" stop-color="#09bbc8"/></linearGradient><linearGradient id="h27" x1="0" y1="0" x2="0" y2="1"><stop offset="0.0000" stop-color="#a3ca47"/><stop offset="0.2917" stop-color="#c1c534"/><stop offset="0.8194" stop-color="#c1c534"/><stop offset="0.8833" stop-color="#adc940"/><stop offset="0.9667" stop-color="#54cd84"/><stop offset="1.0000" stop-color="#47cc90"/></linearGradient><linearGradient id="h28" x1="0" y1="0" x2="0" y2="1"><stop offset="0.0000" stop-color="#debf30"/><stop offset="0.2944" stop-color="#f4bc3f"/><stop offset="0.8333" stop-color="#f2bc3e"/><stop offset="0.8778" stop-color="#e6bd33"/><stop offset="0.9139" stop-color="#c9c330"/><stop offset="0.9722" stop-color="#7ace65"/><stop offset="1.0000" stop-color="#6cce71"/></linearGradient><linearGradient id="h29" x1="0" y1="0" x2="0" y2="1"><stop offset="0.0000" stop-color="#eabd36"/><stop offset="0.2889" stop-color="#fcbf42"/><stop offset="0.8444" stop-color="#fabd43"/><stop offset="0.8861" stop-color="#e8bd35"/><stop offset="0.9167" stop-color="#c7c430"/><stop offset="0.9694" stop-color="#6cce70"/><stop offset="1.0000" stop-color="#58cd81"/></linearGradient><linearGradient id="h30" x1="0" y1="0" x2="0" y2="1"><stop offset="0.0000" stop-color="#efbc3b"/><stop offset="0.2389" stop-color="#fec042"/><stop offset="0.8444" stop-color="#fcbe42"/><stop offset="0.8639" stop-color="#f7bc42"/><stop offset="0.8889" stop-color="#e8bd34"/><stop offset="0.9083" stop-color="#d2c12e"/><stop offset="0.9222" stop-color="#bcc636"/><stop offset="0.9444" stop-color="#8fcc56"/><stop offset="0.9472" stop-color="#7cce64"/><stop offset="0.9528" stop-color="#44cb92"/><stop offset="0.9583" stop-color="#28c3b2"/><stop offset="0.9611" stop-color="#1dc1b9"/><stop offset="0.9667" stop-color="#2cc4af"/><stop offset="0.9778" stop-color="#57cd82"/><stop offset="1.0000" stop-color="#4bcc8c"/></linearGradient><linearGradient id="h31" x1="0" y1="0" x2="0" y2="1"><stop offset="0.0000" stop-color="#f1bc3d"/><stop offset="0.2028" stop-color="#fec042"/><stop offset="0.8444" stop-color="#febf42"/><stop offset="0.8667" stop-color="#f9bc43"/><stop offset="0.8889" stop-color="#ebbd37"/><stop offset="0.9111" stop-color="#d2c12e"/><stop offset="0.9250" stop-color="#bcc636"/><stop offset="0.9444" stop-color="#95cc51"/><stop offset="0.9472" stop-color="#83cd5f"/><stop offset="0.9528" stop-color="#49cc8e"/><stop offset="0.9583" stop-color="#2dc4af"/><stop offset="0.9611" stop-color="#24c2b5"/><stop offset="0.9667" stop-color="#30c5ab"/><stop offset="0.9778" stop-color="#5ece7d"/><stop offset="1.0000" stop-color="#52cd86"/></linearGradient><linearGradient id="h32" x1="0" y1="0" x2="0" y2="1"><stop offset="0.0000" stop-color="#f3bc3e"/><stop offset="0.1861" stop-color="#fec042"/><stop offset="0.8528" stop-color="#fec042"/><stop offset="0.8889" stop-color="#f1bc3d"/><stop offset="0.9222" stop-color="#d1c22e"/><stop offset="0.9722" stop-color="#86cd5c"/><stop offset="1.0000" stop-color="#75ce69"/></linearGradient><linearGradient id="h33" x1="0" y1="0" x2="0" y2="1"><stop offset="0.0000" stop-color="#f2bc3d"/><stop offset="0.1944" stop-color="#fec042"/><stop offset="0.8556" stop-color="#febf42"/><stop offset="0.8944" stop-color="#f1bc3c"/><stop offset="0.9278" stop-color="#d3c12e"/><stop offset="0.9722" stop-color="#9dcb4b"/><stop offset="1.0000" stop-color="#8fcc56"/></linearGradient><linearGradient id="h34" x1="0" y1="0" x2="0" y2="1"><stop offset="0.0000" stop-color="#edbc39"/><stop offset="0.2861" stop-color="#febf42"/><stop offset="0.8389" stop-color="#fdbf42"/><stop offset="0.8889" stop-color="#f2bc3d"/><stop offset="0.9306" stop-color="#d3c12e"/><stop offset="0.9722" stop-color="#aac942"/><stop offset="1.0000" stop-color="#9ecb4a"/></linearGradient><linearGradient id="h35" x1="0" y1="0" x2="0" y2="1"><stop offset="0.0000" stop-color="#e5bd33"/><stop offset="0.2722" stop-color="#f9bc43"/><stop offset="0.8361" stop-color="#f8bc43"/><stop offset="0.8861" stop-color="#eebc3a"/><stop offset="0.9306" stop-color="#d4c12e"/><stop offset="0.9722" stop-color="#b2c83c"/><stop offset="1.0000" stop-color="#a8c943"/></linearGradient><linearGradient id="h36" x1="0" y1="0" x2="0" y2="1"><stop offset="0.0000" stop-color="#dac02f"/><stop offset="0.2889" stop-color="#eebc3a"/><stop offset="0.8222" stop-color="#efbc3b"/><stop offset="0.8806" stop-color="#e7bd34"/><stop offset="0.9250" stop-color="#d3c12e"/><stop offset="0.9722" stop-color="#b6c73a"/><stop offset="1.0000" stop-color="#afc83e"/></linearGradient><linearGradient id="h37" x1="0" y1="0" x2="0" y2="1"><stop offset="0.0000" stop-color="#cec22f"/><stop offset="0.2889" stop-color="#e0be31"/><stop offset="0.8167" stop-color="#e1be31"/><stop offset="0.8889" stop-color="#d9c02f"/><stop offset="1.0000" stop-color="#b3c73c"/></linearGradient><linearGradient id="h38" x1="0" y1="0" x2="0" y2="1"><stop offset="0.0000" stop-color="#c0c534"/><stop offset="0.2889" stop-color="#d0c22e"/><stop offset="0.8028" stop-color="#d1c12e"/><stop offset="0.8833" stop-color="#ccc22f"/><stop offset="1.0000" stop-color="#b6c73a"/></linearGradient><linearGradient id="h39" x1="0" y1="0" x2="0" y2="1"><stop offset="0.0000" stop-color="#a8c943"/><stop offset="0.2722" stop-color="#b7c739"/><stop offset="0.4611" stop-color="#b2c83c"/><stop offset="0.5333" stop-color="#aac941"/><stop offset="0.5833" stop-color="#81ce61"/><stop offset="0.6250" stop-color="#a6ca44"/><stop offset="0.6500" stop-color="#aec83f"/><stop offset="0.8889" stop-color="#c1c533"/><stop offset="1.0000" stop-color="#b6c73a"/></linearGradient><linearGradient id="h40" x1="0" y1="0" x2="0" y2="1"><stop offset="0.0000" stop-color="#88cd5b"/><stop offset="0.2806" stop-color="#98cb4f"/><stop offset="0.4333" stop-color="#8bcd58"/><stop offset="0.5278" stop-color="#71ce6c"/><stop offset="0.5444" stop-color="#5ace80"/><stop offset="0.5694" stop-color="#2ac3b1"/><stop offset="0.5833" stop-color="#16bfbd"/><stop offset="0.5972" stop-color="#2ac3b1"/><stop offset="0.6278" stop-color="#64ce77"/><stop offset="0.6500" stop-color="#77ce67"/><stop offset="0.7778" stop-color="#93cc53"/><stop offset="0.8889" stop-color="#bdc636"/><stop offset="1.0000" stop-color="#b5c73a"/></linearGradient><linearGradient id="h41" x1="0" y1="0" x2="0" y2="1"><stop offset="0.0000" stop-color="#88cd5b"/><stop offset="0.2806" stop-color="#97cc4f"/><stop offset="0.4333" stop-color="#8bcd59"/><stop offset="0.5278" stop-color="#71ce6d"/><stop offset="0.5444" stop-color="#59ce80"/><stop offset="0.5694" stop-color="#2ac3b1"/><stop offset="0.5833" stop-color="#15bfbd"/><stop offset="0.5972" stop-color="#2ac3b1"/><stop offset="0.6278" stop-color="#64ce77"/><stop offset="0.6500" stop-color="#77ce68"/><stop offset="0.7778" stop-color="#92cc53"/><stop offset="0.8889" stop-color="#bdc636"/><stop offset="1.0000" stop-color="#b4c73b"/></linearGradient><linearGradient id="h42" x1="0" y1="0" x2="0" y2="1"><stop offset="0.0000" stop-color="#a4ca45"/><stop offset="0.2722" stop-color="#b3c73b"/><stop offset="0.4611" stop-color="#afc83e"/><stop offset="0.5333" stop-color="#a7ca44"/><stop offset="0.5833" stop-color="#7dce63"/><stop offset="0.6250" stop-color="#a2ca47"/><stop offset="0.6500" stop-color="#abc941"/><stop offset="0.8889" stop-color="#bec535"/><stop offset="1.0000" stop-color="#b3c73c"/></linearGradient><linearGradient id="h43" x1="0" y1="0" x2="0" y2="1"><stop offset="0.0000" stop-color="#b6c73a"/><stop offset="0.2889" stop-color="#c5c431"/><stop offset="0.7944" stop-color="#c6c431"/><stop offset="0.8806" stop-color="#c3c433"/><stop offset="1.0000" stop-color="#b1c83d"/></linearGradient><linearGradient id="h44" x1="0" y1="0" x2="0" y2="1"><stop offset="0.0000" stop-color="#bbc637"/><stop offset="0.2889" stop-color="#c9c330"/><stop offset="0.8111" stop-color="#cac330"/><stop offset="0.8833" stop-color="#c5c432"/><stop offset="1.0000" stop-color="#acc940"/></linearGradient><linearGradient id="h45" x1="0" y1="0" x2="0" y2="1"><stop offset="0.0000" stop-color="#b9c638"/><stop offset="0.2889" stop-color="#c7c430"/><stop offset="0.8167" stop-color="#c8c330"/><stop offset="0.8861" stop-color="#c1c533"/><stop offset="1.0000" stop-color="#a2ca47"/></linearGradient><linearGradient id="h46" x1="0" y1="0" x2="0" y2="1"><stop offset="0.0000" stop-color="#b5c73b"/><stop offset="0.2917" stop-color="#c3c432"/><stop offset="0.8167" stop-color="#c4c432"/><stop offset="0.8889" stop-color="#bbc637"/><stop offset="1.0000" stop-color="#97cc4f"/></linearGradient><linearGradient id="h47" x1="0" y1="0" x2="0" y2="1"><stop offset="0.0000" stop-color="#b1c83d"/><stop offset="0.2944" stop-color="#c0c534"/><stop offset="0.8194" stop-color="#c0c534"/><stop offset="0.8861" stop-color="#b7c739"/><stop offset="0.9694" stop-color="#91cc54"/><stop offset="1.0000" stop-color="#8acd59"/></linearGradient><linearGradient id="h48" x1="0" y1="0" x2="0" y2="1"><stop offset="0.0000" stop-color="#adc83f"/><stop offset="0.2944" stop-color="#bdc636"/><stop offset="0.8222" stop-color="#bcc636"/><stop offset="0.8889" stop-color="#b0c83d"/><stop offset="0.9694" stop-color="#83cd5f"/><stop offset="1.0000" stop-color="#7bce65"/></linearGradient><linearGradient id="h49" x1="0" y1="0" x2="0" y2="1"><stop offset="0.0000" stop-color="#a9c942"/><stop offset="0.2972" stop-color="#b8c638"/><stop offset="0.8222" stop-color="#b8c739"/><stop offset="0.8861" stop-color="#abc941"/><stop offset="0.9667" stop-color="#74ce6a"/><stop offset="1.0000" stop-color="#6ace72"/></linearGradient><linearGradient id="h50" x1="0" y1="0" x2="0" y2="1"><stop offset="0.0000" stop-color="#a2ca47"/><stop offset="0.2972" stop-color="#b2c83c"/><stop offset="0.8222" stop-color="#b1c83d"/><stop offset="0.8861" stop-color="#a2ca47"/><stop offset="0.9639" stop-color="#65ce76"/><stop offset="1.0000" stop-color="#58cd81"/></linearGradient><linearGradient id="h51" x1="0" y1="0" x2="0" y2="1"><stop offset="0.0000" stop-color="#99cb4e"/><stop offset="0.3000" stop-color="#a5ca45"/><stop offset="0.8222" stop-color="#a4ca46"/><stop offset="0.8833" stop-color="#94cc52"/><stop offset="0.9667" stop-color="#50cd87"/><stop offset="1.0000" stop-color="#46cc90"/></linearGradient><linearGradient id="h52" x1="0" y1="0" x2="0" y2="1"><stop offset="0.0000" stop-color="#1bc0ba"/><stop offset="0.8222" stop-color="#20c1b8"/><stop offset="0.9333" stop-color="#09bacb"/><stop offset="1.0000" stop-color="#1ab3d8"/></linearGradient><linearGradient id="h53" x1="0" y1="0" x2="0" y2="1"><stop offset="0.0000" stop-color="#2c9ee9"/><stop offset="0.8278" stop-color="#2c9ee8"/><stop offset="1.0000" stop-color="#348bf7"/></linearGradient><linearGradient id="h54" x1="0" y1="0" x2="0" y2="1"><stop offset="0.0000" stop-color="#4a68fd"/><stop offset="0.8250" stop-color="#4a68fd"/><stop offset="1.0000" stop-color="#4d5bf7"/></linearGradient><linearGradient id="h55" x1="0" y1="0" x2="0" y2="1"><stop offset="0.0000" stop-color="#4836c5"/><stop offset="0.8278" stop-color="#4836c5"/><stop offset="1.0000" stop-color="#4632bc"/></linearGradient><linearGradient id="h56" x1="0" y1="0" x2="0" y2="1"><stop offset="0.0000" stop-color="#4836c5"/><stop offset="0.8278" stop-color="#4836c5"/><stop offset="1.0000" stop-color="#4632bb"/></linearGradient><linearGradient id="h57" x1="0" y1="0" x2="0" y2="1"><stop offset="0.0000" stop-color="#4b67fd"/><stop offset="0.8278" stop-color="#4b67fc"/><stop offset="1.0000" stop-color="#4d58f5"/></linearGradient><linearGradient id="h58" x1="0" y1="0" x2="0" y2="1"><stop offset="0.0000" stop-color="#2d9beb"/><stop offset="0.8278" stop-color="#2d9bea"/><stop offset="1.0000" stop-color="#3782fb"/></linearGradient><linearGradient id="h59" x1="0" y1="0" x2="0" y2="1"><stop offset="0.0000" stop-color="#0ab9cd"/><stop offset="0.2139" stop-color="#12bfbf"/><stop offset="0.8083" stop-color="#12bfbf"/><stop offset="0.9000" stop-color="#09bacb"/><stop offset="0.9472" stop-color="#1fb0dc"/><stop offset="1.0000" stop-color="#27a7e4"/></linearGradient><linearGradient id="h60" x1="0" y1="0" x2="0" y2="1"><stop offset="0.0000" stop-color="#4dcd8a"/><stop offset="0.0444" stop-color="#54cd85"/><stop offset="0.1528" stop-color="#79ce66"/><stop offset="0.2139" stop-color="#82ce60"/><stop offset="0.8000" stop-color="#83cd5f"/><stop offset="0.8722" stop-color="#72ce6b"/><stop offset="0.9000" stop-color="#5cce7e"/><stop offset="0.9278" stop-color="#36c7a4"/><stop offset="1.0000" stop-color="#21c2b7"/></linearGradient><linearGradient id="h61" x1="0" y1="0" x2="0" y2="1"><stop offset="0.0000" stop-color="#5cce7e"/><stop offset="0.0472" stop-color="#65ce76"/><stop offset="0.1472" stop-color="#90cc55"/><stop offset="0.2111" stop-color="#9bcb4d"/><stop offset="0.8028" stop-color="#9ccb4b"/><stop offset="0.8528" stop-color="#93cc52"/><stop offset="0.8861" stop-color="#7ece63"/><stop offset="0.9028" stop-color="#61ce79"/><stop offset="0.9222" stop-color="#2ac3b1"/><stop offset="0.9306" stop-color="#12bfbf"/><stop offset="0.9361" stop-color="#11bfbf"/><stop offset="0.9500" stop-color="#2bc3b1"/><stop offset="0.9583" stop-color="#30c5ab"/><stop offset="1.0000" stop-color="#24c2b5"/></linearGradient><linearGradient id="h62" x1="0" y1="0" x2="0" y2="1"><stop offset="0.0000" stop-color="#66ce76"/><stop offset="0.0444" stop-color="#6fce6e"/><stop offset="0.1444" stop-color="#9ecb4a"/><stop offset="0.2111" stop-color="#abc941"/><stop offset="0.8028" stop-color="#adc93f"/><stop offset="0.8528" stop-color="#a4ca46"/><stop offset="0.8889" stop-color="#8bcd59"/><stop offset="0.9028" stop-color="#6cce70"/><stop offset="0.9222" stop-color="#22c2b6"/><stop offset="0.9250" stop-color="#14bfbe"/><stop offset="0.9306" stop-color="#09bcc6"/><stop offset="0.9389" stop-color="#0dbdc3"/><stop offset="0.9500" stop-color="#2cc4af"/><stop offset="0.9583" stop-color="#35c6a6"/><stop offset="1.0000" stop-color="#2dc4ae"/></linearGradient><linearGradient id="h63" x1="0" y1="0" x2="0" y2="1"><stop offset="0.0000" stop-color="#6cce71"/><stop offset="0.0444" stop-color="#75ce69"/><stop offset="0.1444" stop-color="#a7ca44"/><stop offset="0.2083" stop-color="#b4c73b"/><stop offset="0.8028" stop-color="#b6c73a"/><stop offset="0.8556" stop-color="#adc93f"/><stop offset="0.8917" stop-color="#94cc52"/><stop offset="0.9028" stop-color="#7ace65"/><stop offset="0.9139" stop-color="#48cc8f"/><stop offset="0.9222" stop-color="#2ec4ae"/><stop offset="0.9306" stop-color="#14bfbe"/><stop offset="0.9361" stop-color="#16c0bd"/><stop offset="0.9472" stop-color="#32c5aa"/><stop offset="0.9583" stop-color="#3dca9a"/><stop offset="1.0000" stop-color="#39c8a1"/></linearGradient><linearGradient id="h64" x1="0" y1="0" x2="0" y2="1"><stop offset="0.0000" stop-color="#6ece6f"/><stop offset="0.0417" stop-color="#77ce68"/><stop offset="0.1444" stop-color="#aac941"/><stop offset="0.2083" stop-color="#b7c739"/><stop offset="0.8028" stop-color="#b9c638"/><stop offset="0.8556" stop-color="#b2c83c"/><stop offset="0.8889" stop-color="#9fcb49"/><stop offset="0.9028" stop-color="#88cd5b"/><stop offset="0.9194" stop-color="#45cc91"/><stop offset="0.9306" stop-color="#33c6a8"/><stop offset="0.9389" stop-color="#35c7a6"/><stop offset="0.9611" stop-color="#4bcc8c"/><stop offset="1.0000" stop-color="#41cb95"/></linearGradient><linearGradient id="h65" x1="0" y1="0" x2="0" y2="1"><stop offset="0.0000" stop-color="#70ce6d"/><stop offset="0.0417" stop-color="#79ce66"/><stop offset="0.1444" stop-color="#adc93f"/><stop offset="0.2083" stop-color="#bac637"/><stop offset="0.8000" stop-color="#bcc636"/><stop offset="0.8472" stop-color="#b7c739"/><stop offset="0.8806" stop-color="#abc941"/><stop offset="0.9028" stop-color="#97cc4f"/><stop offset="0.9250" stop-color="#69ce73"/><stop offset="0.9333" stop-color="#5fce7b"/><stop offset="0.9556" stop-color="#5fce7c"/><stop offset="1.0000" stop-color="#4ecd8a"/></linearGradient><linearGradient id="h66" x1="0" y1="0" x2="0" y2="1"><stop offset="0.0000" stop-color="#71ce6c"/><stop offset="0.0417" stop-color="#7ace65"/><stop offset="0.1417" stop-color="#adc93f"/><stop offset="0.2056" stop-color="#bbc637"/><stop offset="0.7944" stop-color="#bec535"/><stop offset="0.8806" stop-color="#afc83e"/><stop offset="0.9111" stop-color="#9acb4d"/><stop offset="0.9639" stop-color="#68ce74"/><stop offset="1.0000" stop-color="#5ace80"/></linearGradient><linearGradient id="h67" x1="0" y1="0" x2="0" y2="1"><stop offset="0.0000" stop-color="#71ce6c"/><stop offset="0.0417" stop-color="#7ace65"/><stop offset="0.1417" stop-color="#adc83f"/><stop offset="0.2056" stop-color="#bbc637"/><stop offset="0.7917" stop-color="#bec535"/><stop offset="0.8806" stop-color="#afc83e"/><stop offset="0.9111" stop-color="#9ccb4c"/><stop offset="0.9667" stop-color="#6ace72"/><stop offset="1.0000" stop-color="#5ece7c"/></linearGradient><linearGradient id="h68" x1="0" y1="0" x2="0" y2="1"><stop offset="0.0000" stop-color="#71ce6c"/><stop offset="0.0417" stop-color="#7bce65"/><stop offset="0.1444" stop-color="#adc93f"/><stop offset="0.2083" stop-color="#bac637"/><stop offset="0.7917" stop-color="#bdc636"/><stop offset="0.8806" stop-color="#aec83f"/><stop offset="0.9667" stop-color="#69ce73"/><stop offset="1.0000" stop-color="#5ece7d"/></linearGradient><linearGradient id="h69" x1="0" y1="0" x2="0" y2="1"><stop offset="0.0000" stop-color="#72ce6c"/><stop offset="0.0417" stop-color="#7bce65"/><stop offset="0.1444" stop-color="#abc941"/><stop offset="0.2083" stop-color="#b8c739"/><stop offset="0.7944" stop-color="#bac637"/><stop offset="0.8806" stop-color="#acc940"/><stop offset="0.9667" stop-color="#68ce74"/><stop offset="1.0000" stop-color="#5cce7e"/></linearGradient><linearGradient id="h70" x1="0" y1="0" x2="0" y2="1"><stop offset="0.0000" stop-color="#72ce6b"/><stop offset="0.0417" stop-color="#7ace65"/><stop offset="0.1444" stop-color="#a9c942"/><stop offset="0.2083" stop-color="#b5c73b"/><stop offset="0.7972" stop-color="#b7c739"/><stop offset="0.8806" stop-color="#a9c942"/><stop offset="0.9639" stop-color="#67ce74"/><stop offset="1.0000" stop-color="#5ace7f"/></linearGradient><linearGradient id="h71" x1="0" y1="0" x2="0" y2="1"><stop offset="0.0000" stop-color="#73ce6a"/><stop offset="0.0417" stop-color="#7bce64"/><stop offset="0.1417" stop-color="#a6ca45"/><stop offset="0.2083" stop-color="#b1c83d"/><stop offset="0.8000" stop-color="#b4c73b"/><stop offset="0.8806" stop-color="#a5ca45"/><stop offset="0.9639" stop-color="#65ce76"/><stop offset="1.0000" stop-color="#58cd81"/></linearGradient><linearGradient id="h72" x1="0" y1="0" x2="0" y2="1"><stop offset="0.0000" stop-color="#76ce68"/><stop offset="0.0417" stop-color="#7dce63"/><stop offset="0.1417" stop-color="#a4ca46"/><stop offset="0.2083" stop-color="#afc83e"/><stop offset="0.8028" stop-color="#b0c83d"/><stop offset="0.8806" stop-color="#a2ca47"/><stop offset="0.9639" stop-color="#63ce78"/><stop offset="1.0000" stop-color="#56cd83"/></linearGradient><linearGradient id="h73" x1="0" y1="0" x2="0" y2="1"><stop offset="0.0000" stop-color="#79ce66"/><stop offset="0.0417" stop-color="#80ce61"/><stop offset="0.1444" stop-color="#a2ca47"/><stop offset="0.2111" stop-color="#abc941"/><stop offset="0.8056" stop-color="#acc940"/><stop offset="0.8806" stop-color="#9fcb4a"/><stop offset="0.9639" stop-color="#60ce7a"/><stop offset="1.0000" stop-color="#54cd85"/></linearGradient><linearGradient id="h74" x1="0" y1="0" x2="0" y2="1"><stop offset="0.0000" stop-color="#7cce64"/><stop offset="0.1444" stop-color="#9fcb49"/><stop offset="0.2111" stop-color="#a7c943"/><stop offset="0.8111" stop-color="#a8c943"/><stop offset="0.8806" stop-color="#9acb4d"/><stop offset="0.9639" stop-color="#5ece7d"/><stop offset="1.0000" stop-color="#51cd86"/></linearGradient><linearGradient id="h75" x1="0" y1="0" x2="0" y2="1"><stop offset="0.0000" stop-color="#7dce63"/><stop offset="0.2111" stop-color="#a3ca46"/><stop offset="0.8139" stop-color="#a3ca46"/><stop offset="0.8833" stop-color="#95cc51"/><stop offset="0.9639" stop-color="#5bce7f"/><stop offset="1.0000" stop-color="#4fcd89"/></linearGradient><linearGradient id="h76" x1="0" y1="0" x2="0" y2="1"><stop offset="0.0000" stop-color="#7bce65"/><stop offset="0.2111" stop-color="#9ecb4a"/><stop offset="0.8167" stop-color="#9ecb4a"/><stop offset="0.8806" stop-color="#92cc54"/><stop offset="0.9667" stop-color="#56cd83"/><stop offset="1.0000" stop-color="#4ccc8b"/></linearGradient><linearGradient id="h77" x1="0" y1="0" x2="0" y2="1"><stop offset="0.0000" stop-color="#79ce66"/><stop offset="0.2139" stop-color="#9acb4d"/><stop offset="0.8222" stop-color="#99cb4e"/><stop offset="0.8833" stop-color="#8ccd58"/><stop offset="0.9667" stop-color="#53cd85"/><stop offset="1.0000" stop-color="#4acc8d"/></linearGradient><linearGradient id="h78" x1="0" y1="0" x2="0" y2="1"><stop offset="0.0000" stop-color="#76ce68"/><stop offset="0.2167" stop-color="#95cc51"/><stop offset="0.5750" stop-color="#95cc51"/><stop offset="0.7194" stop-color="#8ccd58"/><stop offset="0.8306" stop-color="#92cc53"/><stop offset="0.8833" stop-color="#87cd5c"/><stop offset="0.9667" stop-color="#50cd87"/><stop offset="1.0000" stop-color="#48cc8f"/></linearGradient><linearGradient id="h79" x1="0" y1="0" x2="0" y2="1"><stop offset="0.0000" stop-color="#73ce6a"/><stop offset="0.2222" stop-color="#90cc55"/><stop offset="0.5833" stop-color="#90cc55"/><stop offset="0.7278" stop-color="#7ece62"/><stop offset="0.8417" stop-color="#8acd59"/><stop offset="0.8861" stop-color="#80ce61"/><stop offset="0.9639" stop-color="#50cd88"/><stop offset="1.0000" stop-color="#46cc90"/></linearGradient><linearGradient id="h80" x1="0" y1="0" x2="0" y2="1"><stop offset="0.0000" stop-color="#70ce6d"/><stop offset="0.2278" stop-color="#8acd59"/><stop offset="0.5944" stop-color="#8acd5a"/><stop offset="0.7361" stop-color="#6dce6f"/><stop offset="0.8528" stop-color="#82cd60"/><stop offset="0.8889" stop-color="#7ace66"/><stop offset="0.9611" stop-color="#50cd88"/><stop offset="1.0000" stop-color="#45cc91"/></linearGradient><linearGradient id="h81" x1="0" y1="0" x2="0" y2="1"><stop offset="0.0000" stop-color="#6dce70"/><stop offset="0.2000" stop-color="#84cd5e"/><stop offset="0.5833" stop-color="#85cd5d"/><stop offset="0.6389" stop-color="#7ece63"/><stop offset="0.7444" stop-color="#5ace7f"/><stop offset="0.8417" stop-color="#76ce68"/><stop offset="0.8750" stop-color="#77ce67"/><stop offset="0.9667" stop-color="#4ccc8b"/><stop offset="1.0000" stop-color="#45cc91"/></linearGradient><linearGradient id="h82" x1="0" y1="0" x2="0" y2="1"><stop offset="0.0000" stop-color="#69ce73"/><stop offset="0.2000" stop-color="#7fce62"/><stop offset="0.5833" stop-color="#7fce61"/><stop offset="0.6500" stop-color="#74ce6a"/><stop offset="0.7472" stop-color="#47cc90"/><stop offset="0.7806" stop-color="#4acc8d"/><stop offset="0.8417" stop-color="#67ce74"/><stop offset="0.8750" stop-color="#6fce6e"/><stop offset="1.0000" stop-color="#46cc91"/></linearGradient><linearGradient id="h83" x1="0" y1="0" x2="0" y2="1"><stop offset="0.0000" stop-color="#66ce76"/><stop offset="0.2028" stop-color="#79ce66"/><stop offset="0.5833" stop-color="#7ace65"/><stop offset="0.6500" stop-color="#6fce6e"/><stop offset="0.7194" stop-color="#44cb92"/><stop offset="0.7556" stop-color="#39c8a0"/><stop offset="0.7972" stop-color="#3dca9a"/><stop offset="0.8583" stop-color="#5fce7c"/><stop offset="0.8861" stop-color="#65ce76"/><stop offset="1.0000" stop-color="#46cc90"/></linearGradient><linearGradient id="h84" x1="0" y1="0" x2="0" y2="1"><stop offset="0.0000" stop-color="#62ce79"/><stop offset="0.2028" stop-color="#74ce6a"/><stop offset="0.6056" stop-color="#74ce6a"/><stop offset="0.6639" stop-color="#66ce76"/><stop offset="0.7222" stop-color="#3dca9a"/><stop offset="0.7750" stop-color="#2dc4ae"/><stop offset="0.8222" stop-color="#39c8a0"/><stop offset="0.8667" stop-color="#53cd85"/><stop offset="0.8944" stop-color="#5dce7d"/><stop offset="1.0000" stop-color="#47cc90"/></linearGradient><linearGradient id="h85" x1="0" y1="0" x2="0" y2="1"><stop offset="0.0000" stop-color="#5fce7c"/><stop offset="0.2056" stop-color="#6fce6e"/><stop offset="0.6167" stop-color="#6ece6f"/><stop offset="0.6694" stop-color="#61ce7a"/><stop offset="0.7500" stop-color="#2dc4ae"/><stop offset="0.7861" stop-color="#1dc1b9"/><stop offset="0.8167" stop-color="#2ac3b1"/><stop offset="0.8750" stop-color="#49cc8d"/><stop offset="0.9028" stop-color="#55cd84"/><stop offset="1.0000" stop-color="#47cc8f"/></linearGradient><linearGradient id="h86" x1="0" y1="0" x2="0" y2="1"><stop offset="0.0000" stop-color="#5cce7e"/><stop offset="0.2083" stop-color="#6ace72"/><stop offset="0.6278" stop-color="#69ce73"/><stop offset="0.6778" stop-color="#5cce7e"/><stop offset="0.7611" stop-color="#23c2b6"/><stop offset="0.7944" stop-color="#11bec0"/><stop offset="0.8250" stop-color="#1ec1b8"/><stop offset="0.8500" stop-color="#32c5aa"/><stop offset="0.9083" stop-color="#4dcd8a"/><stop offset="1.0000" stop-color="#48cc8f"/></linearGradient><linearGradient id="h87" x1="0" y1="0" x2="0" y2="1"><stop offset="0.0000" stop-color="#58cd81"/><stop offset="0.2083" stop-color="#66ce76"/><stop offset="0.6389" stop-color="#64ce77"/><stop offset="0.6861" stop-color="#58cd81"/><stop offset="0.7694" stop-color="#20c1b7"/><stop offset="0.7861" stop-color="#12bfbf"/><stop offset="0.8056" stop-color="#0dbec2"/><stop offset="0.8333" stop-color="#18c0bb"/><stop offset="0.8639" stop-color="#32c5aa"/><stop offset="0.9167" stop-color="#49cc8e"/><stop offset="1.0000" stop-color="#48cc8e"/></linearGradient><linearGradient id="h88" x1="0" y1="0" x2="0" y2="1"><stop offset="0.0000" stop-color="#55cd84"/><stop offset="0.2083" stop-color="#61ce7a"/><stop offset="0.6472" stop-color="#60ce7b"/><stop offset="0.6972" stop-color="#53cd85"/><stop offset="0.7806" stop-color="#20c1b7"/><stop offset="0.8139" stop-color="#0fbec1"/><stop offset="0.8444" stop-color="#1cc1ba"/><stop offset="0.8722" stop-color="#31c5ab"/><stop offset="0.9139" stop-color="#42cb94"/><stop offset="1.0000" stop-color="#49cc8e"/></linearGradient><linearGradient id="h89" x1="0" y1="0" x2="0" y2="1"><stop offset="0.0000" stop-color="#51cd87"/><stop offset="0.2083" stop-color="#5cce7e"/><stop offset="0.6556" stop-color="#5bce7f"/><stop offset="0.7111" stop-color="#4ecd89"/><stop offset="0.7889" stop-color="#27c3b3"/><stop offset="0.8250" stop-color="#18c0bc"/><stop offset="0.8556" stop-color="#24c2b5"/><stop offset="0.9222" stop-color="#41cb96"/><stop offset="1.0000" stop-color="#49cc8e"/></linearGradient><linearGradient id="h90" x1="0" y1="0" x2="0" y2="1"><stop offset="0.0000" stop-color="#4dcd8a"/><stop offset="0.2083" stop-color="#56cd82"/><stop offset="0.6611" stop-color="#56cd83"/><stop offset="0.7194" stop-color="#4ccc8b"/><stop offset="0.8000" stop-color="#2dc4ae"/><stop offset="0.8333" stop-color="#24c2b5"/><stop offset="0.9361" stop-color="#42cb95"/><stop offset="1.0000" stop-color="#48cc8f"/></linearGradient><linearGradient id="h91" x1="0" y1="0" x2="0" y2="1"><stop offset="0.0000" stop-color="#4acc8d"/><stop offset="0.2139" stop-color="#52cd86"/><stop offset="0.6778" stop-color="#51cd87"/><stop offset="0.7306" stop-color="#4acc8d"/><stop offset="0.8444" stop-color="#2fc4ad"/><stop offset="0.9444" stop-color="#42cb95"/><stop offset="1.0000" stop-color="#47cc90"/></linearGradient><linearGradient id="h92" x1="0" y1="0" x2="0" y2="1"><stop offset="0.0000" stop-color="#47cc8f"/><stop offset="0.6861" stop-color="#4ecd8a"/><stop offset="0.8528" stop-color="#35c7a5"/><stop offset="1.0000" stop-color="#45cc91"/></linearGradient><linearGradient id="h93" x1="0" y1="0" x2="0" y2="1"><stop offset="0.0000" stop-color="#45cc91"/><stop offset="0.6944" stop-color="#4bcc8c"/><stop offset="0.8639" stop-color="#3ac99e"/><stop offset="1.0000" stop-color="#44cb92"/></linearGradient><linearGradient id="h94" x1="0" y1="0" x2="0" y2="1"><stop offset="0.0000" stop-color="#44cb92"/><stop offset="0.6639" stop-color="#4acc8d"/><stop offset="0.8722" stop-color="#3eca99"/><stop offset="1.0000" stop-color="#43cb93"/></linearGradient><linearGradient id="h95" x1="0" y1="0" x2="0" y2="1"><stop offset="0.0000" stop-color="#45cc91"/><stop offset="0.6917" stop-color="#4acc8d"/><stop offset="1.0000" stop-color="#43cb94"/></linearGradient><linearGradient id="h96" x1="0" y1="0" x2="0" y2="1"><stop offset="0.0000" stop-color="#46cc91"/><stop offset="0.7194" stop-color="#4acc8d"/><stop offset="1.0000" stop-color="#43cb94"/></linearGradient><linearGradient id="h97" x1="0" y1="0" x2="0" y2="1"><stop offset="0.0000" stop-color="#46cc90"/><stop offset="0.7472" stop-color="#4acc8d"/><stop offset="1.0000" stop-color="#43cb93"/></linearGradient><linearGradient id="h98" x1="0" y1="0" x2="0" y2="1"><stop offset="0.0000" stop-color="#47cc8f"/><stop offset="0.7778" stop-color="#4acc8d"/><stop offset="1.0000" stop-color="#44cb93"/></linearGradient><linearGradient id="h99" x1="0" y1="0" x2="0" y2="1"><stop offset="0.0000" stop-color="#48cc8e"/><stop offset="1.0000" stop-color="#45cc91"/></linearGradient><linearGradient id="h100" x1="0" y1="0" x2="0" y2="1"><stop offset="0.0000" stop-color="#4acc8c"/><stop offset="1.0000" stop-color="#48cc8e"/></linearGradient><linearGradient id="h101" x1="0" y1="0" x2="0" y2="1"><stop offset="0.0000" stop-color="#4dcd8a"/><stop offset="1.0000" stop-color="#4dcd8a"/></linearGradient><pattern id="tex" x="2274.50" y="78.15" width="11.811" height="4.135" patternUnits="userSpaceOnUse"><rect x="1.3" y="0.5" width="9.3" height="1.0" fill="#fff" fill-opacity="0.42"/><rect x="1.3" y="2.6" width="9.3" height="0.9" fill="#fff" fill-opacity="0.3"/></pattern><pattern id="hat" width="4.6" height="7.5" patternUnits="userSpaceOnUse"><line x1="1" y1="6.8" x2="3.4" y2="0.8" stroke="#fff" stroke-width="1.3" stroke-opacity="0.85"/></pattern><pattern id="hat2" width="4.2" height="5" patternUnits="userSpaceOnUse"><line x1="1" y1="4" x2="2.8" y2="1" stroke="#fff" stroke-width="1" stroke-opacity="0.6"/></pattern></defs>
<g stroke="#e4e4e4" stroke-width="1.8" fill="none">
<line x1="809.2" y1="621.0" x2="809.2" y2="165.0"/>
<line x1="809.2" y1="621.0" x2="1270.2" y2="830.0"/>
<line x1="929.4" y1="589.0" x2="929.4" y2="133.0"/>
<line x1="929.4" y1="589.0" x2="1390.4" y2="798.0"/>
<line x1="1049.6" y1="557.0" x2="1049.6" y2="101.0"/>
<line x1="1049.6" y1="557.0" x2="1510.6" y2="766.0"/>
<line x1="1169.8" y1="525.0" x2="1169.8" y2="69.0"/>
<line x1="1169.8" y1="525.0" x2="1630.8" y2="734.0"/>
<line x1="1290.0" y1="493.0" x2="1290.0" y2="37.0"/>
<line x1="1290.0" y1="493.0" x2="1751.0" y2="702.0"/>
<line x1="689.0" y1="561.8" x2="1290.0" y2="401.8"/>
<line x1="1290.0" y1="401.8" x2="1751.0" y2="610.8"/>
<line x1="689.0" y1="470.6" x2="1290.0" y2="310.6"/>
<line x1="1290.0" y1="310.6" x2="1751.0" y2="519.6"/>
<line x1="689.0" y1="379.4" x2="1290.0" y2="219.4"/>
<line x1="1290.0" y1="219.4" x2="1751.0" y2="428.4"/>
<line x1="689.0" y1="288.2" x2="1290.0" y2="128.2"/>
<line x1="1290.0" y1="128.2" x2="1751.0" y2="337.2"/>
<line x1="1405.2" y1="545.2" x2="1405.2" y2="89.3"/>
<line x1="804.2" y1="705.2" x2="1405.2" y2="545.2"/>
<line x1="1520.5" y1="597.5" x2="1520.5" y2="141.5"/>
<line x1="919.5" y1="757.5" x2="1520.5" y2="597.5"/>
<line x1="1635.8" y1="649.8" x2="1635.8" y2="193.8"/>
<line x1="1034.8" y1="809.8" x2="1635.8" y2="649.8"/>
<line x1="689.0" y1="653.0" x2="1290.0" y2="493.0"/>
<line x1="1290.0" y1="493.0" x2="1751.0" y2="702.0"/>
</g>
<g stroke-width="0.8" stroke-linejoin="round">
<path fill="url(#s84)" stroke="url(#s84)" d="M1253.0,244.9 1287.5,260.6 1322.1,276.3 1356.7,292.0 1391.2,307.6 1425.8,323.3 1460.4,339.0 1495.0,354.7 1529.6,370.3 1564.1,386.0 1591.2,398.3 1598.7,401.7 1633.3,417.2 1667.9,432.6 1655.8,439.2 1621.3,422.7 1586.7,406.5 1579.2,403.1 1552.1,390.8 1517.5,375.1 1483.0,359.4 1448.4,343.7 1413.8,328.1 1379.2,312.4 1344.7,296.7 1310.1,281.1 1275.5,265.7 1240.9,250.2Z"/>
<path fill="url(#s83)" stroke="url(#s83)" d="M1240.9,250.2 1275.5,265.7 1310.1,281.1 1329.1,289.7 1344.7,296.7 1379.2,312.4 1413.8,328.1 1448.4,343.7 1483.0,359.4 1517.5,375.1 1552.1,390.8 1577.5,402.3 1579.2,403.1 1586.7,406.5 1621.3,422.7 1655.8,439.2 1643.8,445.1 1609.2,427.6 1574.7,410.7 1567.2,407.2 1565.4,406.5 1540.1,394.9 1505.5,379.2 1470.9,363.6 1436.4,347.9 1401.8,332.2 1367.2,316.5 1332.6,300.9 1317.1,293.9 1298.1,285.4 1263.5,270.2 1228.9,255.0Z"/>
<path fill="url(#s82)" stroke="url(#s82)" d="M1228.9,255.0 1263.5,270.2 1298.1,285.4 1316.5,293.6 1317.1,293.9 1332.6,300.9 1367.2,316.5 1401.8,332.2 1436.4,347.9 1470.9,363.6 1505.5,379.2 1540.1,394.9 1554.5,401.5 1565.4,406.5 1574.7,410.7 1587.9,417.0 1609.2,427.6 1643.8,445.1 1631.8,450.1 1597.2,432.3 1575.9,421.1 1562.6,414.6 1553.4,410.3 1542.5,405.2 1528.1,398.6 1493.5,382.9 1458.9,367.3 1424.3,351.6 1389.8,335.9 1355.2,320.2 1320.6,304.6 1305.1,297.6 1304.5,297.3 1286.0,289.1 1251.5,274.4 1216.9,259.5Z"/>
<path fill="url(#s81)" stroke="url(#s81)" d="M1216.9,259.5 1251.5,274.4 1286.0,289.1 1303.3,296.8 1304.5,297.3 1320.6,304.6 1355.2,320.2 1389.8,335.9 1424.3,351.6 1458.9,367.3 1493.5,382.9 1521.1,395.5 1528.1,398.6 1542.5,405.2 1551.1,409.2 1562.6,414.6 1575.9,421.1 1597.2,432.3 1607.0,437.7 1631.8,450.1 1619.8,454.5 1595.0,442.9 1585.2,437.9 1563.9,426.6 1550.6,419.4 1539.1,413.3 1530.5,409.0 1516.0,402.1 1509.1,398.9 1481.5,386.3 1446.9,370.6 1412.3,355.0 1377.7,339.3 1343.2,323.6 1308.6,308.0 1292.5,300.7 1291.3,300.2 1274.0,292.6 1239.4,278.3 1204.9,263.7Z"/>
<path fill="url(#s80)" stroke="url(#s80)" d="M1204.9,263.7 1239.4,278.3 1274.0,292.6 1290.7,300.0 1291.3,300.2 1308.6,308.0 1343.2,323.6 1377.7,339.3 1412.3,355.0 1446.9,370.6 1481.5,386.3 1498.8,394.2 1509.1,398.9 1516.0,402.1 1524.7,406.2 1539.1,413.3 1550.6,419.4 1557.5,423.1 1571.4,430.6 1585.2,437.9 1595.0,442.9 1619.8,454.5 1607.8,457.8 1583.0,449.2 1573.2,446.1 1559.3,440.9 1545.5,433.2 1538.6,428.6 1527.1,420.4 1512.7,411.1 1504.0,406.1 1497.1,402.6 1486.7,397.5 1469.4,389.5 1434.9,373.9 1400.3,358.2 1365.7,342.5 1331.1,326.8 1296.6,311.2 1279.3,303.5 1278.7,303.2 1262.0,296.0 1227.4,282.0 1192.8,267.8Z"/>
<path fill="url(#s79)" stroke="url(#s79)" d="M1192.8,267.8 1227.4,282.0 1262.0,296.0 1278.7,303.2 1279.9,303.7 1296.6,311.2 1331.1,326.8 1365.7,342.5 1400.3,358.2 1434.9,373.9 1469.4,389.5 1481.0,394.8 1486.7,397.5 1493.7,400.8 1504.0,406.1 1504.6,406.5 1512.7,411.1 1515.0,412.5 1536.3,427.0 1538.6,428.6 1542.6,431.3 1545.5,433.2 1549.0,435.4 1554.7,438.6 1559.3,440.9 1560.5,441.4 1573.2,446.1 1588.2,450.9 1607.8,457.8 1595.7,459.6 1576.1,455.0 1561.2,455.4 1548.5,456.4 1547.3,456.4 1542.7,455.8 1537.0,453.9 1533.5,452.0 1530.6,450.1 1526.6,446.9 1524.3,444.8 1503.0,421.7 1500.6,419.3 1492.6,411.9 1492.0,411.4 1481.6,403.8 1474.7,399.7 1469.0,396.6 1457.4,390.9 1422.9,375.1 1388.3,359.5 1353.7,343.8 1319.1,328.1 1284.6,312.5 1267.8,305.1 1266.7,304.6 1250.0,297.4 1215.4,283.9 1180.8,270.0Z"/>
<path fill="url(#s78)" stroke="url(#s78)" d="M1180.8,270.0 1215.4,283.9 1241.3,293.9 1250.0,297.4 1267.8,305.1 1269.0,305.6 1284.6,312.5 1319.1,328.1 1353.7,343.8 1388.3,359.5 1422.9,375.1 1435.5,380.9 1457.4,390.9 1462.0,393.1 1469.0,396.6 1474.7,399.7 1481.6,403.8 1485.1,406.1 1492.0,411.4 1492.6,411.9 1494.9,413.9 1503.0,421.7 1516.2,436.3 1522.5,443.1 1524.3,444.8 1526.6,446.9 1528.9,448.8 1530.6,450.1 1534.6,452.7 1537.0,453.9 1540.4,455.2 1542.7,455.8 1548.5,456.4 1536.5,470.4 1530.7,474.4 1528.4,475.6 1524.9,476.9 1522.6,477.2 1518.6,476.8 1516.9,476.2 1514.6,475.0 1512.3,473.2 1510.5,471.6 1504.2,463.7 1490.9,440.9 1482.9,426.8 1480.6,423.1 1480.0,422.2 1473.1,412.5 1469.6,408.4 1462.7,401.6 1456.9,397.1 1450.0,392.6 1445.4,390.0 1423.5,379.4 1410.8,373.6 1376.3,358.0 1341.7,342.3 1307.1,326.6 1272.5,311.0 1257.0,304.1 1255.8,303.6 1238.0,296.0 1229.3,292.6 1203.4,283.1 1168.8,269.7ZM1536.5,470.4 1548.6,461.3 1560.6,455.5ZM1548.5,456.4 1560.6,455.5 1536.5,470.4ZM1548.6,461.3 1549.1,461.0 1561.2,455.4ZM1560.6,455.5 1561.2,455.4 1548.6,461.3ZM1549.1,461.0 1558.4,457.1 1570.4,454.7ZM1561.2,455.4 1570.4,454.7 1549.1,461.0ZM1570.4,454.7 1576.1,455.0 1580.7,455.6 1595.7,459.6 1583.7,460.7 1568.7,456.8 1564.1,456.5 1558.4,457.1Z"/>
<path fill="url(#s77)" stroke="url(#s77)" d="M1168.8,269.7 1186.7,277.0 1203.4,283.1 1229.3,292.6 1229.9,292.8 1238.0,296.0 1257.0,304.1 1258.1,304.6 1272.5,311.0 1307.1,326.6 1341.7,342.3 1376.3,358.0 1410.8,373.6 1416.6,376.3 1423.5,379.4 1442.5,388.5 1445.4,390.0 1450.0,392.6 1454.6,395.5 1462.7,401.6 1465.0,403.7 1473.1,412.5 1474.8,414.8 1480.0,422.2 1482.9,426.8 1496.7,451.3 1503.0,462.0 1504.2,463.7 1508.8,469.8 1510.5,471.6 1514.0,474.6 1514.6,475.0 1516.9,476.2 1519.7,477.1 1522.6,477.2 1510.6,492.4 1507.7,495.5 1504.8,497.7 1502.5,498.8 1502.0,499.0 1498.5,499.1 1496.8,498.6 1492.2,495.0 1491.0,493.7 1484.7,483.4 1470.8,450.5 1468.0,443.2 1462.8,430.9 1461.0,427.0 1453.0,411.5 1450.7,407.9 1442.6,397.4 1438.0,392.9 1433.4,389.2 1430.5,387.2 1411.5,376.8 1404.6,373.6 1398.8,370.9 1364.2,355.2 1329.7,339.5 1295.1,323.9 1260.5,308.3 1246.1,301.9 1245.0,301.4 1225.9,293.5 1217.9,290.3 1217.3,290.1 1191.4,281.1 1174.7,275.4 1156.8,268.1ZM1510.6,492.4 1513.5,488.7 1525.5,476.7ZM1522.6,477.2 1525.5,476.7 1510.6,492.4ZM1513.5,488.7 1516.4,484.7 1528.4,475.6ZM1525.5,476.7 1528.4,475.6 1513.5,488.7ZM1516.4,484.7 1529.6,466.0 1541.6,466.3ZM1528.4,475.6 1541.6,466.3 1516.4,484.7ZM1529.6,466.0 1534.8,460.7 1536.5,459.4 1537.1,459.0 1540.0,457.3 1545.8,455.7 1546.3,455.6 1558.4,457.1 1557.8,457.3 1552.0,459.4 1549.1,461.0 1548.6,461.3 1546.8,462.4 1541.6,466.3ZM1564.1,456.5 1552.1,456.0 1546.3,455.6ZM1546.3,455.6 1564.1,456.5 1558.4,457.1ZM1564.1,456.5 1568.7,456.8 1583.7,460.7 1571.7,462.9 1556.7,457.2 1552.1,456.0Z"/>
<path fill="url(#s76)" stroke="url(#s76)" d="M1156.8,268.1 1174.7,275.4 1191.4,281.1 1217.3,290.1 1217.9,290.3 1225.9,293.5 1245.5,301.6 1246.1,301.9 1260.5,308.3 1295.1,323.9 1329.7,339.5 1364.2,355.2 1397.7,370.4 1398.8,370.9 1404.6,373.6 1413.2,377.6 1423.0,382.6 1430.5,387.2 1433.4,389.2 1435.1,390.5 1442.6,397.4 1445.5,400.8 1453.0,411.5 1455.3,415.5 1462.8,430.9 1468.0,443.2 1476.6,465.1 1482.9,479.9 1484.7,483.4 1488.7,490.5 1491.0,493.7 1493.9,496.7 1481.9,505.3 1479.0,505.7 1476.7,505.1 1472.7,501.8 1470.9,499.7 1464.6,488.1 1455.9,465.8 1450.8,450.9 1443.3,430.4 1441.0,424.7 1433.5,408.6 1430.6,403.5 1423.1,392.9 1421.4,390.9 1418.5,387.9 1411.0,381.7 1401.2,375.6 1392.6,371.2 1386.8,368.5 1385.6,368.0 1352.2,352.7 1317.6,337.1 1283.1,321.4 1248.5,305.8 1234.1,299.5 1233.5,299.2 1213.9,291.2 1205.9,288.1 1205.3,287.9 1179.3,279.4 1162.6,274.1 1144.8,267.1ZM1481.9,505.3 1484.8,503.7 1496.8,498.6ZM1493.9,496.7 1496.8,498.6 1481.9,505.3ZM1484.8,503.7 1487.6,500.9 1499.7,499.3ZM1496.8,498.6 1499.7,499.3 1484.8,503.7ZM1487.6,500.9 1489.9,498.0 1502.0,499.0ZM1499.7,499.3 1502.0,499.0 1487.6,500.9ZM1489.9,498.0 1490.5,497.2 1493.4,492.7 1495.7,488.8 1501.5,478.3 1510.1,463.9 1515.9,457.0 1517.6,455.5 1521.6,452.9 1522.8,452.4 1525.1,451.7 1527.4,451.5 1528.0,451.5 1533.7,452.5 1545.8,455.7 1540.0,457.3 1539.4,457.6 1537.1,459.0 1534.8,460.7 1533.7,461.7 1529.6,466.0 1527.9,468.1 1522.1,476.1 1513.5,488.7 1507.7,495.5 1505.4,497.3 1502.5,498.8 1502.0,499.0ZM1546.3,455.6 1534.3,452.7 1533.7,452.5ZM1533.7,452.5 1546.3,455.6 1545.8,455.7ZM1552.1,456.0 1540.1,455.4 1534.3,452.7ZM1534.3,452.7 1552.1,456.0 1546.3,455.6ZM1552.1,456.0 1571.7,462.9 1559.7,466.3 1540.1,455.4Z"/>
<path fill="url(#s75)" stroke="url(#s75)" d="M1144.8,267.1 1162.6,274.1 1179.3,279.4 1205.3,287.9 1213.9,291.2 1231.8,298.5 1233.5,299.2 1248.5,305.8 1283.1,321.4 1317.6,337.1 1352.2,352.7 1377.0,364.0 1385.6,368.0 1386.8,368.5 1401.2,375.6 1402.9,376.6 1411.0,381.7 1415.0,384.8 1421.4,390.9 1423.1,392.9 1425.4,395.8 1433.5,408.6 1435.2,412.0 1443.3,430.4 1455.9,465.8 1456.5,467.4 1462.9,484.1 1464.6,488.1 1452.6,483.4 1450.8,481.3 1444.5,470.8 1443.9,469.6 1431.2,439.1 1423.2,419.4 1421.5,415.6 1413.4,400.0 1411.1,396.3 1409.3,393.8 1403.0,385.9 1399.0,381.9 1390.9,375.6 1389.2,374.4 1374.8,366.6 1373.6,366.0 1365.0,361.9 1340.2,350.6 1305.6,335.0 1271.0,319.3 1236.5,303.7 1221.5,297.2 1219.8,296.4 1201.9,289.3 1193.3,286.2 1167.3,278.3 1150.6,273.3 1132.8,266.5ZM1452.6,483.4 1456.6,486.5 1468.6,496.1ZM1464.6,488.1 1468.6,496.1 1452.6,483.4ZM1456.6,486.5 1458.9,487.3 1470.9,499.7ZM1468.6,496.1 1470.9,499.7 1456.6,486.5ZM1458.9,487.3 1461.8,487.2 1473.8,503.0ZM1470.9,499.7 1473.8,503.0 1458.9,487.3ZM1461.8,487.2 1464.7,486.0 1467.6,483.8 1469.9,481.4 1473.3,477.1 1475.6,473.8 1478.5,469.4 1481.4,465.0 1491.2,451.5 1497.5,445.8 1498.1,445.5 1503.3,443.4 1503.9,443.3 1509.6,443.7 1513.1,445.0 1525.1,451.7 1521.6,452.9 1515.9,457.0 1515.3,457.6 1510.1,463.9 1509.5,464.7 1503.2,475.2 1493.4,492.7 1490.5,497.2 1487.6,500.9 1485.3,503.2 1481.9,505.3 1479.6,505.7 1476.7,505.1 1473.8,503.0ZM1527.4,451.5 1515.4,446.2 1513.1,445.0ZM1513.1,445.0 1527.4,451.5 1525.1,451.7ZM1528.0,451.5 1516.0,446.5 1515.4,446.2ZM1515.4,446.2 1528.0,451.5 1527.4,451.5ZM1534.3,452.7 1522.3,451.1 1516.0,446.5ZM1516.0,446.5 1534.3,452.7 1528.0,451.5ZM1534.3,452.7 1550.5,461.6 1559.7,466.3 1547.7,470.2 1538.4,464.7 1522.3,451.1Z"/>
<path fill="url(#s74)" stroke="url(#s74)" d="M1132.8,266.5 1150.6,273.3 1167.3,278.3 1192.1,285.8 1193.3,286.2 1201.9,289.3 1216.9,295.2 1219.8,296.4 1236.5,303.7 1271.0,319.3 1305.6,335.0 1340.2,350.6 1353.5,356.7 1365.0,361.9 1374.8,366.6 1382.3,370.4 1390.9,375.6 1394.9,378.5 1403.0,385.9 1405.9,389.2 1409.3,393.8 1413.4,400.0 1415.7,404.1 1423.2,419.4 1436.4,452.2 1424.4,439.2 1411.2,416.3 1403.7,403.2 1401.4,399.5 1397.3,393.5 1393.9,388.9 1391.0,385.4 1382.9,377.4 1378.9,374.1 1370.2,368.5 1362.8,364.4 1353.0,359.6 1341.4,354.3 1328.2,348.2 1293.6,332.6 1259.0,316.9 1224.5,301.3 1207.7,294.1 1204.9,292.9 1189.9,287.1 1181.2,284.1 1180.1,283.7 1155.3,276.8 1138.6,272.3 1120.7,265.7ZM1424.4,439.2 1430.8,447.2 1442.8,467.1ZM1436.4,452.2 1442.8,467.1 1424.4,439.2ZM1430.8,447.2 1431.9,448.3 1443.9,469.6ZM1442.8,467.1 1443.9,469.6 1430.8,447.2ZM1431.9,448.3 1432.5,448.8 1444.5,470.8ZM1443.9,469.6 1444.5,470.8 1431.9,448.3ZM1432.5,448.8 1436.5,451.6 1438.8,452.5 1441.7,452.9 1444.6,452.7 1446.9,452.0 1449.8,450.6 1452.7,448.7 1455.5,446.5 1461.3,441.6 1466.5,437.4 1472.2,433.7 1479.2,431.4 1485.5,431.7 1491.3,433.9 1491.8,434.2 1503.9,443.3 1503.3,443.4 1497.5,445.8 1491.2,451.5 1484.3,460.6 1478.5,469.4 1473.3,477.1 1467.6,483.8 1464.7,486.0 1461.8,487.2 1458.9,487.3 1456.6,486.5 1453.7,484.5 1450.8,481.3 1448.5,478.0 1444.5,470.8ZM1509.6,443.7 1497.6,438.3 1491.8,434.2ZM1491.8,434.2 1509.6,443.7 1503.9,443.3ZM1510.2,443.9 1498.2,438.8 1497.6,438.3ZM1497.6,438.3 1510.2,443.9 1509.6,443.7ZM1513.1,445.0 1501.1,441.4 1498.2,438.8ZM1498.2,438.8 1513.1,445.0 1510.2,443.9ZM1513.1,445.0 1516.0,446.5 1535.5,462.5 1538.4,464.7 1541.9,467.1 1547.7,470.2 1535.6,474.3 1529.9,470.9 1526.4,468.2 1523.5,465.6 1503.9,444.3 1501.1,441.4Z"/>
<path fill="url(#s73)" stroke="url(#s73)" d="M1120.7,265.7 1138.6,272.3 1155.3,276.8 1180.1,283.7 1189.9,287.1 1203.1,292.2 1204.9,292.9 1224.5,301.3 1259.0,316.9 1293.6,332.6 1328.2,348.2 1341.4,354.3 1358.7,362.4 1362.8,364.4 1370.2,368.5 1373.1,370.2 1382.9,377.4 1384.7,378.9 1393.9,388.9 1395.0,390.4 1397.3,393.5 1403.7,403.2 1391.6,395.3 1385.3,388.3 1383.0,385.9 1381.9,384.7 1372.6,376.3 1370.9,374.9 1361.1,368.0 1358.2,366.3 1350.7,362.1 1346.7,360.1 1329.4,351.9 1316.2,345.9 1281.6,330.2 1247.0,314.5 1212.4,299.0 1192.8,290.7 1191.1,290.0 1177.9,285.0 1168.1,281.8 1143.3,275.6 1126.6,271.6 1108.7,265.1ZM1391.6,395.3 1405.5,410.1 1417.5,427.8ZM1403.7,403.2 1417.5,427.8 1391.6,395.3ZM1405.5,410.1 1411.8,415.2 1423.8,438.3ZM1417.5,427.8 1423.8,438.3 1405.5,410.1ZM1411.8,415.2 1412.4,415.6 1417.6,418.5 1418.7,419.0 1419.9,419.4 1423.3,420.3 1424.5,420.4 1429.1,420.7 1429.7,420.6 1434.9,420.1 1440.6,419.1 1454.5,417.7 1460.2,418.5 1461.4,418.8 1467.1,421.0 1467.7,421.3 1479.7,431.3 1479.2,431.4 1473.4,433.1 1472.2,433.7 1466.5,437.4 1452.7,448.7 1446.9,452.0 1441.7,452.9 1441.1,452.9 1436.5,451.6 1435.4,450.9 1431.9,448.3 1430.8,447.2 1429.6,445.9 1424.4,439.2 1423.8,438.3ZM1485.5,431.7 1473.5,424.9 1467.7,421.3ZM1467.7,421.3 1485.5,431.7 1479.7,431.3ZM1486.6,432.0 1474.6,425.7 1473.5,424.9ZM1473.5,424.9 1486.6,432.0 1485.5,431.7ZM1491.8,434.2 1479.8,430.2 1474.6,425.7ZM1474.6,425.7 1491.8,434.2 1486.6,432.0ZM1491.8,434.2 1493.6,435.3 1498.2,438.8 1501.1,441.4 1522.4,464.5 1523.5,465.6 1529.3,470.5 1529.9,470.9 1535.6,474.3 1523.6,477.8 1517.8,474.3 1517.3,473.8 1511.5,468.5 1510.4,467.2 1489.0,440.3 1486.2,436.9 1481.5,431.9 1479.8,430.2Z"/>
<path fill="url(#s72)" stroke="url(#s72)" d="M1108.7,265.1 1126.0,271.4 1126.6,271.6 1143.3,275.6 1168.1,281.8 1170.4,282.5 1177.9,285.0 1191.1,290.0 1200.3,293.8 1212.4,299.0 1247.0,314.5 1281.6,330.2 1316.2,345.9 1346.7,360.1 1349.0,361.3 1350.7,362.1 1361.1,368.0 1367.4,372.3 1372.6,376.3 1383.0,385.9 1385.3,388.3 1373.3,380.8 1371.0,379.2 1360.6,372.2 1355.4,368.9 1349.1,365.2 1338.7,359.7 1337.0,358.8 1334.7,357.7 1304.1,343.5 1269.6,327.8 1235.0,312.1 1200.4,296.6 1188.3,291.4 1179.1,287.7 1165.8,282.9 1158.3,280.5 1156.0,279.9 1131.3,274.5 1114.6,271.0 1114.0,270.9 1096.7,264.9ZM1373.3,380.8 1384.8,388.7 1396.8,401.1ZM1385.3,388.3 1396.8,401.1 1373.3,380.8ZM1384.8,388.7 1393.5,393.7 1396.9,395.4 1399.8,396.6 1405.6,398.7 1407.9,399.4 1408.4,399.6 1411.3,400.4 1417.1,401.7 1433.8,405.9 1442.4,409.1 1445.9,410.8 1457.9,418.0 1454.5,417.7 1445.8,418.2 1429.1,420.7 1423.3,420.3 1420.5,419.6 1419.9,419.4 1417.6,418.5 1411.8,415.2 1408.9,413.1 1405.5,410.1 1396.8,401.1ZM1461.4,418.8 1449.4,412.7 1445.9,410.8ZM1445.9,410.8 1461.4,418.8 1457.9,418.0ZM1467.7,421.3 1455.7,417.0 1449.4,412.7ZM1449.4,412.7 1467.7,421.3 1461.4,418.8ZM1467.7,421.3 1468.3,421.6 1474.6,425.7 1478.1,428.6 1481.5,431.9 1487.9,438.9 1489.0,440.3 1510.4,467.2 1517.3,473.8 1523.6,477.8 1511.6,479.9 1505.3,475.8 1498.3,468.7 1477.0,439.5 1475.9,437.9 1469.5,430.1 1466.1,426.3 1462.6,422.8 1456.3,417.4 1455.7,417.0Z"/>
<path fill="url(#s71)" stroke="url(#s71)" d="M1096.7,264.9 1114.0,270.9 1114.6,271.0 1131.3,274.5 1157.2,280.2 1158.3,280.5 1165.8,282.9 1185.4,290.2 1188.3,291.4 1200.4,296.6 1235.0,312.1 1269.6,327.8 1304.1,343.5 1327.2,354.1 1337.0,358.8 1338.7,359.7 1355.4,368.9 1373.3,380.8 1361.3,374.9 1343.4,365.6 1326.7,357.4 1325.0,356.5 1315.2,351.9 1292.1,341.4 1257.5,325.7 1223.0,310.0 1188.4,294.6 1176.3,289.4 1173.4,288.2 1153.8,281.1 1146.3,279.0 1145.2,278.7 1119.2,274.0 1102.5,271.2 1102.0,271.1 1084.7,265.4ZM1361.3,374.9 1372.8,380.6 1384.8,388.7ZM1373.3,380.8 1384.8,388.7 1361.3,374.9ZM1372.8,380.6 1376.8,382.5 1384.9,386.1 1395.8,390.5 1396.4,390.7 1408.4,399.6 1407.9,399.4 1396.9,395.4 1388.8,391.1 1384.8,388.7ZM1433.8,405.9 1421.8,401.2 1396.4,390.7ZM1396.4,390.7 1433.8,405.9 1408.4,399.6ZM1438.4,407.4 1426.4,403.5 1421.8,401.2ZM1421.8,401.2 1438.4,407.4 1433.8,405.9ZM1438.4,407.4 1442.4,409.1 1445.9,410.8 1452.2,414.5 1456.3,417.4 1464.3,424.5 1466.1,426.3 1475.3,437.2 1475.9,437.9 1477.0,439.5 1498.3,468.7 1505.3,475.8 1511.6,479.9 1499.6,480.3 1493.2,476.1 1486.3,468.9 1465.0,438.4 1463.8,436.8 1463.3,436.0 1454.0,424.6 1452.3,422.7 1444.2,415.1 1440.2,412.0 1433.9,407.7 1430.4,405.7 1426.4,403.5Z"/>
<path fill="url(#s70)" stroke="url(#s70)" d="M1084.7,265.4 1093.3,268.8 1102.5,271.2 1119.2,274.0 1132.5,276.0 1145.2,278.7 1153.8,281.1 1172.8,288.0 1173.4,288.2 1188.4,294.6 1223.0,310.0 1257.5,325.7 1292.1,341.4 1315.2,351.9 1326.7,357.4 1361.3,374.9 1376.8,382.5 1395.8,390.5 1422.4,401.5 1426.4,403.5 1430.4,405.7 1438.5,410.7 1440.2,412.0 1451.2,421.5 1452.3,422.7 1462.7,435.2 1463.3,436.0 1465.0,438.4 1486.3,468.9 1493.2,476.1 1499.6,480.3 1487.5,480.2 1481.2,476.0 1474.3,468.5 1453.0,437.3 1451.2,434.8 1450.7,434.0 1440.3,421.2 1439.1,420.0 1428.2,410.2 1426.5,409.0 1418.4,403.7 1414.4,401.4 1410.3,399.3 1383.8,387.0 1364.8,378.5 1349.2,371.5 1314.7,355.4 1303.1,350.1 1280.1,339.6 1245.5,323.9 1210.9,308.3 1176.4,292.8 1161.4,286.6 1160.8,286.4 1141.8,279.9 1133.2,277.7 1120.5,275.6 1107.2,274.5 1090.5,272.8 1081.3,270.7 1072.6,267.4Z"/>
<path fill="url(#s69)" stroke="url(#s69)" d="M1072.6,267.4 1081.3,270.7 1090.5,272.8 1107.2,274.5 1120.5,275.6 1133.2,277.7 1141.8,279.9 1145.8,281.1 1160.2,286.1 1160.8,286.4 1176.4,292.8 1201.2,303.8 1210.9,308.3 1245.5,323.9 1280.1,339.6 1314.7,355.4 1349.2,371.5 1383.8,387.0 1406.9,397.5 1410.3,399.3 1418.4,403.7 1424.7,407.7 1426.5,409.0 1438.6,419.4 1439.1,420.0 1450.7,434.0 1453.0,437.3 1474.3,468.5 1481.2,476.0 1487.5,480.2 1475.5,480.6 1469.2,476.3 1462.3,468.7 1441.0,436.7 1438.6,433.4 1427.1,419.0 1426.5,418.4 1414.4,407.7 1412.7,406.5 1406.4,402.4 1398.3,397.9 1394.9,396.1 1371.8,385.3 1337.2,369.7 1302.7,354.0 1268.1,338.3 1233.5,322.6 1198.9,306.9 1189.1,302.5 1164.4,291.6 1148.8,285.3 1148.2,285.1 1133.8,280.4 1129.8,279.4 1121.1,277.8 1108.5,276.9 1095.2,277.3 1078.5,277.4 1069.3,275.9 1060.6,272.9Z"/>
<path fill="url(#s68)" stroke="url(#s68)" d="M1060.6,272.9 1069.3,275.9 1078.5,277.4 1095.2,277.3 1108.5,276.9 1121.1,277.8 1129.8,279.4 1133.8,280.4 1148.2,285.1 1164.4,291.6 1186.8,301.5 1189.1,302.5 1198.9,306.9 1233.5,322.6 1268.1,338.3 1302.7,354.0 1337.2,369.7 1371.8,385.3 1391.4,394.4 1394.9,396.1 1406.4,402.4 1411.6,405.7 1412.7,406.5 1426.0,417.8 1426.5,418.4 1438.1,432.5 1438.6,433.4 1441.0,436.7 1462.3,468.7 1469.2,476.3 1475.5,480.6 1463.5,481.3 1457.2,477.0 1450.3,469.3 1428.9,436.7 1426.6,433.3 1426.1,432.5 1414.5,418.1 1414.0,417.5 1400.7,406.1 1399.5,405.3 1394.4,401.9 1382.8,395.7 1379.4,394.0 1359.8,384.8 1325.2,369.1 1290.6,353.5 1256.1,337.8 1221.5,322.1 1186.9,306.4 1177.1,302.0 1174.8,301.0 1152.3,291.1 1136.2,284.9 1121.8,280.6 1117.8,279.8 1109.1,278.8 1096.4,278.9 1083.2,280.7 1066.5,282.6 1057.3,281.7 1048.6,278.9Z"/>
<path fill="url(#s67)" stroke="url(#s67)" d="M1048.6,278.9 1057.3,281.7 1066.5,282.6 1083.2,280.7 1077.2,281.7 1060.5,284.2 1051.2,283.5 1042.6,280.7ZM1077.2,281.7 1090.4,279.5 1096.4,278.9ZM1083.2,280.7 1096.4,278.9 1077.2,281.7ZM1090.4,279.5 1103.1,279.0 1109.1,278.8ZM1096.4,278.9 1109.1,278.8 1090.4,279.5ZM1109.1,278.8 1117.8,279.8 1121.8,280.6 1136.2,284.9 1152.3,291.1 1174.8,301.0 1186.9,306.4 1221.5,322.1 1256.1,337.8 1290.6,353.5 1325.2,369.1 1359.8,384.8 1378.8,393.7 1379.4,394.0 1394.4,401.9 1399.0,404.9 1399.5,405.3 1413.4,416.9 1414.0,417.5 1426.1,432.5 1428.9,436.7 1450.3,469.3 1450.8,470.0 1457.2,477.0 1463.5,481.3 1457.5,481.7 1451.2,477.3 1444.8,470.3 1444.2,469.6 1422.9,436.7 1420.0,432.5 1407.9,417.4 1407.4,416.8 1393.5,405.1 1393.0,404.7 1388.3,401.7 1373.4,393.7 1372.8,393.4 1353.8,384.6 1319.2,368.9 1284.6,353.2 1250.0,337.5 1215.5,321.9 1180.9,306.2 1168.8,300.8 1146.3,290.9 1130.2,284.7 1115.8,280.6 1111.8,279.9 1103.1,279.0Z"/>
<path fill="url(#s66)" stroke="url(#s66)" d="M1042.6,280.7 1051.2,283.5 1060.5,284.2 1077.2,281.7 1071.2,282.8 1054.5,285.7 1045.2,285.2 1036.6,282.5ZM1071.2,282.8 1084.4,280.2 1090.4,279.5ZM1077.2,281.7 1090.4,279.5 1071.2,282.8ZM1084.4,280.2 1097.1,279.3 1103.1,279.0ZM1090.4,279.5 1103.1,279.0 1084.4,280.2ZM1103.1,279.0 1111.8,279.9 1115.8,280.6 1129.6,284.5 1130.2,284.7 1146.3,290.9 1167.6,300.2 1168.8,300.8 1180.9,306.2 1215.5,321.9 1250.0,337.5 1284.6,353.2 1319.2,368.9 1353.8,384.6 1371.6,392.9 1372.8,393.4 1388.3,401.7 1392.4,404.3 1393.0,404.7 1407.4,416.8 1420.0,432.5 1422.9,436.7 1444.8,470.3 1451.2,477.3 1457.5,481.7 1451.5,482.2 1445.2,477.9 1438.8,470.9 1416.9,436.9 1414.0,432.7 1401.4,416.8 1387.0,404.7 1386.4,404.3 1382.3,401.7 1366.8,393.4 1365.6,392.9 1347.8,384.6 1313.2,368.9 1278.6,353.2 1244.0,337.5 1209.5,321.9 1174.9,306.2 1162.8,300.7 1161.6,300.2 1140.3,290.9 1124.2,284.8 1123.6,284.6 1109.8,280.8 1105.7,280.1 1097.1,279.3Z"/>
<path fill="url(#s65)" stroke="url(#s65)" d="M1036.6,282.5 1045.2,285.2 1054.5,285.7 1071.2,282.8 1065.2,284.1 1048.4,287.4 1039.2,287.1 1030.6,284.4ZM1065.2,284.1 1078.4,281.2 1084.4,280.2ZM1071.2,282.8 1084.4,280.2 1065.2,284.1ZM1084.4,280.2 1097.1,279.3 1105.7,280.1 1109.8,280.8 1123.6,284.6 1140.3,290.9 1161.6,300.2 1174.9,306.2 1209.5,321.9 1244.0,337.5 1278.6,353.2 1313.2,368.9 1347.8,384.6 1364.5,392.3 1365.6,392.9 1382.3,401.7 1386.4,404.3 1401.4,416.8 1414.0,432.7 1416.9,436.9 1438.8,470.9 1445.2,477.9 1451.5,482.2 1445.5,483.2 1439.1,478.9 1432.8,471.8 1410.9,437.6 1408.0,433.3 1395.3,417.4 1380.4,404.8 1376.3,402.2 1359.6,393.3 1358.5,392.8 1341.8,385.0 1307.2,369.3 1272.6,353.7 1238.0,338.0 1203.5,322.3 1168.9,306.6 1155.6,300.7 1134.3,291.4 1117.6,285.1 1103.8,281.4 1099.7,280.8 1091.1,280.1 1078.4,281.2Z"/>
<path fill="url(#s64)" stroke="url(#s64)" d="M1030.6,284.4 1039.2,287.1 1048.4,287.4 1065.2,284.1 1059.1,285.7 1042.4,289.1 1033.2,288.8 1024.6,286.1ZM1059.1,285.7 1072.4,282.5 1078.4,281.2ZM1065.2,284.1 1078.4,281.2 1059.1,285.7ZM1078.4,281.2 1091.1,280.1 1099.7,280.8 1103.8,281.4 1117.6,285.1 1134.3,291.4 1155.6,300.7 1168.9,306.6 1203.5,322.3 1238.0,338.0 1272.6,353.7 1307.2,369.3 1341.8,385.0 1358.5,392.8 1359.0,393.1 1376.3,402.2 1380.4,404.8 1395.3,417.4 1408.0,433.3 1410.9,437.6 1432.8,471.8 1439.1,478.9 1445.5,483.2 1439.5,485.3 1433.1,480.9 1426.8,473.7 1404.9,439.1 1402.0,434.8 1389.3,418.7 1374.4,406.0 1370.3,403.4 1353.0,394.2 1352.5,393.9 1335.7,386.2 1301.2,370.5 1266.6,354.8 1232.0,339.1 1197.4,323.5 1162.9,307.8 1149.6,301.8 1128.3,292.6 1111.6,286.3 1097.8,282.6 1093.7,282.0 1085.1,281.4 1072.4,282.5Z"/>
<path fill="url(#s63)" stroke="url(#s63)" d="M1024.6,286.1 1033.2,288.8 1042.4,289.1 1059.1,285.7 1072.4,282.5 1085.1,281.4 1093.7,282.0 1097.8,282.6 1111.6,286.3 1112.2,286.5 1128.3,292.6 1149.6,301.8 1150.8,302.4 1162.9,307.8 1197.4,323.5 1232.0,339.1 1266.6,354.8 1301.2,370.5 1335.7,386.2 1353.0,394.2 1355.3,395.3 1370.3,403.4 1374.4,406.0 1375.5,406.8 1389.3,418.7 1389.9,419.3 1402.0,434.8 1404.9,439.1 1426.2,473.0 1426.8,473.7 1433.1,480.9 1439.5,485.3 1433.5,492.2 1427.1,487.6 1420.8,480.1 1420.2,479.2 1398.9,443.2 1396.0,438.5 1383.9,422.1 1383.3,421.5 1369.5,409.0 1368.3,408.2 1364.3,405.6 1349.3,397.4 1347.0,396.3 1329.7,388.2 1295.2,372.5 1260.6,356.8 1226.0,341.2 1191.4,325.5 1156.9,309.8 1144.8,304.4 1143.6,303.9 1122.3,294.6 1106.2,288.5 1105.6,288.3 1091.7,284.6 1087.7,284.0 1079.1,283.4 1066.4,284.5 1053.1,287.6 1036.4,291.0 1027.2,290.7 1018.6,288.0Z"/>
<path fill="url(#s62)" stroke="url(#s62)" d="M1018.6,288.0 1027.2,290.7 1036.4,291.0 1053.1,287.6 1066.4,284.5 1079.1,283.4 1087.7,284.0 1091.7,284.6 1106.2,288.5 1122.3,294.6 1144.8,304.4 1145.9,304.9 1156.9,309.8 1191.4,325.5 1226.0,341.2 1260.6,356.8 1295.2,372.5 1329.7,388.2 1349.3,397.4 1351.6,398.5 1363.7,405.2 1364.3,405.6 1369.5,409.0 1373.5,412.1 1382.2,420.2 1383.9,422.1 1388.5,427.7 1394.3,435.9 1396.0,438.5 1398.9,443.2 1401.8,448.1 1405.2,454.1 1407.5,458.2 1413.3,468.3 1416.2,473.1 1419.1,477.6 1420.2,479.2 1427.1,487.6 1428.3,488.7 1433.5,492.2 1427.5,502.4 1422.3,498.8 1421.1,497.7 1414.2,489.4 1413.0,488.2 1410.2,486.2 1407.3,487.0 1401.5,493.7 1399.2,492.8 1395.8,482.6 1392.9,468.4 1390.0,454.3 1388.3,447.4 1382.5,432.8 1377.9,426.2 1376.2,424.1 1367.5,415.4 1363.5,412.2 1358.3,408.6 1357.7,408.2 1345.6,401.4 1343.3,400.2 1323.7,391.0 1289.2,375.3 1254.6,359.6 1220.0,344.0 1185.4,328.3 1150.8,312.6 1139.9,307.7 1138.7,307.2 1116.3,297.4 1100.1,291.3 1085.7,287.4 1081.7,286.7 1073.1,286.1 1060.4,287.1 1047.1,290.1 1030.4,293.4 1021.2,293.0 1012.5,290.4Z"/>
<path fill="url(#s61)" stroke="url(#s61)" d="M1012.5,290.4 1021.2,293.0 1030.4,293.4 1047.1,290.1 1060.4,287.1 1073.1,286.1 1081.7,286.7 1085.7,287.4 1100.1,291.3 1116.3,297.4 1139.9,307.7 1142.2,308.7 1150.8,312.6 1185.4,328.3 1220.0,344.0 1254.6,359.6 1289.2,375.3 1323.7,391.0 1345.6,401.4 1347.4,402.3 1357.7,408.2 1358.3,408.6 1359.5,409.3 1367.5,415.4 1369.2,417.0 1376.2,424.1 1377.9,426.2 1382.5,432.8 1383.1,433.9 1388.3,447.4 1392.9,468.4 1395.8,482.6 1397.5,489.0 1399.2,492.8 1400.4,493.8 1401.5,493.7 1395.5,529.8 1394.4,532.1 1393.2,532.1 1391.5,527.5 1389.7,517.7 1386.9,494.3 1382.3,459.5 1377.1,439.9 1376.5,438.6 1371.9,430.9 1370.2,428.6 1363.2,421.0 1361.5,419.4 1353.4,413.0 1352.3,412.2 1351.7,411.8 1341.3,405.8 1339.6,404.9 1317.7,394.4 1283.1,378.7 1248.6,363.1 1214.0,347.4 1179.4,331.7 1144.8,316.0 1136.2,312.2 1133.9,311.1 1110.3,300.8 1094.1,294.7 1079.7,290.7 1075.7,290.1 1067.0,289.4 1054.4,290.3 1041.1,293.1 1024.4,296.2 1015.2,295.8 1006.5,293.1ZM1395.5,529.8 1401.3,506.3 1407.3,487.0ZM1401.5,493.7 1407.3,487.0 1395.5,529.8ZM1407.3,487.0 1410.2,486.2 1410.7,486.4 1412.5,487.6 1413.0,488.2 1414.2,489.4 1422.3,498.8 1427.5,502.4 1421.4,513.2 1416.3,509.5 1408.2,500.2 1407.0,499.3 1406.5,499.1 1404.7,499.4 1404.2,499.9 1401.3,506.3Z"/>
<path fill="url(#s60)" stroke="url(#s60)" d="M1006.5,293.1 1015.2,295.8 1024.4,296.2 1041.1,293.1 1054.4,290.3 1067.0,289.4 1075.7,290.1 1079.7,290.7 1080.3,290.9 1094.1,294.7 1094.7,294.8 1110.3,300.8 1136.2,312.2 1140.2,314.0 1144.8,316.0 1179.4,331.7 1214.0,347.4 1248.6,363.1 1283.1,378.7 1317.1,394.2 1317.7,394.4 1341.3,405.8 1343.1,406.7 1352.3,412.2 1353.4,413.0 1354.6,413.8 1363.2,421.0 1363.8,421.6 1371.9,430.9 1372.5,431.7 1377.1,439.9 1377.6,441.3 1382.3,459.5 1386.9,494.3 1389.7,517.7 1391.5,527.5 1393.2,532.1 1394.4,532.1 1388.3,541.8 1387.2,541.6 1385.5,536.7 1383.7,526.5 1380.9,502.5 1376.2,466.9 1371.6,448.0 1371.1,446.5 1366.4,437.7 1365.9,436.9 1357.8,426.9 1357.2,426.3 1348.6,418.7 1347.4,417.8 1346.3,417.0 1337.1,411.3 1335.3,410.4 1311.7,399.0 1311.1,398.7 1277.1,383.3 1242.6,367.6 1208.0,351.9 1173.4,336.2 1138.8,320.6 1134.2,318.5 1130.2,316.7 1104.3,305.3 1088.7,299.3 1088.1,299.1 1074.3,295.3 1073.7,295.2 1069.7,294.5 1061.0,293.7 1048.4,294.4 1035.1,297.0 1018.4,299.9 1009.2,299.3 1000.5,296.6ZM1388.3,541.8 1389.5,539.8 1395.3,517.4 1401.3,506.3 1395.5,529.8 1394.4,532.1ZM1404.7,499.4 1398.7,511.2 1395.3,517.4ZM1395.3,517.4 1404.7,499.4 1401.3,506.3ZM1404.7,499.4 1406.5,499.1 1407.6,499.7 1408.2,500.2 1416.3,509.5 1421.4,513.2 1415.4,526.7 1410.2,522.8 1402.2,512.6 1401.6,512.0 1400.4,511.2 1398.7,511.2Z"/>
<path fill="url(#s59)" stroke="url(#s59)" d="M1000.5,296.6 1009.2,299.3 1018.4,299.9 1035.1,297.0 1048.4,294.4 1061.0,293.7 1069.7,294.5 1074.3,295.3 1088.7,299.3 1104.3,305.3 1134.2,318.5 1138.8,320.6 1139.4,320.8 1173.4,336.2 1208.0,351.9 1242.6,367.6 1277.1,383.3 1311.1,398.7 1311.7,399.0 1312.3,399.2 1337.1,411.3 1338.2,412.0 1346.3,417.0 1348.6,418.7 1349.2,419.1 1357.8,426.9 1358.4,427.5 1366.4,437.7 1371.6,448.0 1376.2,466.9 1380.9,502.5 1383.7,526.5 1387.2,541.6 1388.3,541.8 1389.5,539.8 1383.5,551.4 1382.3,553.3 1381.2,553.0 1377.7,537.5 1374.8,513.3 1370.2,477.3 1365.6,458.0 1360.4,447.4 1352.4,436.8 1351.8,436.2 1343.2,428.2 1342.6,427.8 1340.3,426.1 1332.2,420.9 1331.0,420.3 1306.3,408.1 1305.7,407.9 1305.1,407.6 1271.1,392.2 1236.5,376.5 1202.0,360.8 1167.4,345.1 1133.4,329.7 1132.8,329.5 1128.2,327.4 1098.2,314.2 1082.7,308.1 1068.3,303.9 1063.7,303.0 1055.0,302.0 1042.3,302.2 1029.1,304.2 1012.4,306.2 1003.2,305.4 994.5,302.6ZM1383.5,551.4 1389.3,529.6 1395.3,517.4 1389.5,539.8ZM1395.3,517.4 1398.7,511.2 1401.6,512.0 1410.2,522.8 1415.4,526.7 1409.4,540.0 1404.2,536.0 1395.6,524.8 1392.7,523.7 1389.3,529.6Z"/>
<path fill="url(#s58)" stroke="url(#s58)" d="M994.5,302.6 1003.2,305.4 1012.4,306.2 1029.1,304.2 1042.3,302.2 1055.0,302.0 1063.7,303.0 1068.3,303.9 1082.7,308.1 1098.2,314.2 1132.8,329.5 1133.4,329.7 1135.1,330.5 1167.4,345.1 1202.0,360.8 1236.5,376.5 1271.1,392.2 1305.7,407.9 1306.3,408.1 1332.2,420.9 1340.3,426.1 1343.2,428.2 1348.3,432.7 1352.4,436.8 1360.4,447.4 1361.0,448.3 1365.6,458.0 1370.2,477.3 1372.5,493.4 1374.8,513.3 1377.7,537.5 1371.7,532.7 1368.8,527.6 1366.5,523.8 1364.2,520.1 1359.6,513.3 1355.0,507.3 1354.4,506.6 1346.4,498.2 1342.3,494.8 1337.1,490.9 1334.3,489.0 1326.2,484.4 1300.3,471.9 1299.7,471.6 1265.1,455.9 1230.5,440.2 1196.0,424.6 1161.4,408.9 1129.1,394.3 1127.4,393.5 1126.8,393.2 1092.2,377.8 1076.7,371.4 1062.3,366.4 1057.7,365.1 1049.0,363.1 1036.3,361.3 1023.1,360.6 1006.4,359.4 997.2,357.5 988.5,354.3ZM1371.7,532.7 1375.2,538.9 1381.2,553.0ZM1377.7,537.5 1381.2,553.0 1371.7,532.7ZM1375.2,538.9 1376.3,541.0 1382.3,553.3 1381.2,553.0ZM1383.5,551.4 1377.5,543.1 1376.3,541.0ZM1376.3,541.0 1383.5,551.4 1382.3,553.3ZM1389.3,529.6 1383.2,553.6 1377.5,543.1ZM1377.5,543.1 1389.3,529.6 1383.5,551.4ZM1389.3,529.6 1392.7,523.7 1395.6,524.8 1396.2,525.4 1403.1,534.7 1404.2,536.0 1409.4,540.0 1403.4,578.1 1398.2,574.6 1397.1,573.5 1390.2,564.9 1389.6,564.0 1386.7,559.5 1383.2,553.6Z"/>
<path fill="url(#s57)" stroke="url(#s57)" d="M988.5,354.3 997.2,357.5 1006.4,359.4 1023.1,360.6 1036.3,361.3 1049.0,363.1 1057.7,365.1 1062.3,366.4 1076.7,371.4 1092.2,377.8 1126.8,393.2 1129.1,394.3 1161.4,408.9 1196.0,424.6 1230.5,440.2 1265.1,455.9 1299.7,471.6 1326.2,484.4 1332.0,487.6 1334.3,489.0 1342.3,494.8 1345.2,497.2 1355.0,507.3 1356.7,509.5 1366.5,523.8 1367.1,524.7 1368.8,527.6 1390.2,564.9 1397.1,573.5 1403.4,578.1 1400.4,686.5 1394.1,682.7 1387.2,677.0 1365.8,654.0 1364.1,652.2 1363.5,651.6 1353.7,642.4 1352.0,641.0 1342.2,633.8 1339.3,632.0 1331.3,627.3 1328.9,626.1 1323.2,623.2 1296.7,610.8 1262.1,595.1 1227.5,579.5 1193.0,563.8 1158.4,548.1 1126.1,533.5 1123.8,532.4 1089.2,516.8 1073.7,509.7 1059.3,503.2 1054.7,501.1 1046.0,497.2 1033.3,491.4 1020.1,485.4 1003.4,477.8 994.1,473.6 985.5,469.7Z"/>
<path fill="url(#s56)" stroke="url(#s56)" d="M985.5,469.7 1020.1,485.4 1054.7,501.1 1089.2,516.8 1123.8,532.4 1158.4,548.1 1193.0,563.8 1227.5,579.5 1262.1,595.1 1296.7,610.8 1328.9,626.1 1331.3,627.3 1342.2,633.8 1353.7,642.4 1364.1,652.2 1365.8,654.0 1387.2,677.0 1394.1,682.7 1400.4,686.5 1397.4,779.5 1391.1,776.7 1384.1,773.5 1362.8,763.9 1361.1,763.1 1350.7,758.4 1339.2,753.2 1328.2,748.2 1325.9,747.2 1293.7,732.5 1259.1,716.9 1224.5,701.2 1190.0,685.5 1155.4,669.8 1120.8,654.1 1086.2,638.5 1051.7,622.8 1017.1,607.1 982.5,591.5Z"/>
<path fill="url(#s55)" stroke="url(#s55)" d="M979.5,469.7 1014.1,485.2 1048.6,500.5 1083.2,515.9 1117.8,531.4 1118.9,532.0 1152.4,547.1 1186.9,562.8 1221.5,578.4 1256.1,594.1 1290.7,609.8 1322.4,624.7 1325.2,626.2 1335.6,632.0 1347.1,639.9 1359.8,650.9 1381.1,671.4 1394.4,680.2 1397.4,779.5 1384.1,773.5 1362.8,763.9 1350.1,758.1 1338.6,752.9 1328.2,748.2 1325.4,746.9 1293.7,732.5 1259.1,716.9 1224.5,701.2 1190.0,685.5 1155.4,669.8 1122.0,654.7 1120.8,654.1 1086.2,638.5 1051.7,622.8 1017.1,607.1 982.5,591.5Z"/>
<path fill="url(#s54)" stroke="url(#s54)" d="M976.5,327.8 1011.1,342.7 1045.6,356.8 1080.2,371.4 1104.4,382.0 1114.8,386.6 1115.9,387.1 1149.4,402.2 1183.9,417.9 1218.5,433.5 1253.1,449.2 1287.7,464.9 1290.0,466.0 1318.8,479.9 1319.4,480.2 1322.2,481.9 1332.6,488.7 1344.1,498.9 1355.1,512.0 1356.8,514.3 1378.1,544.2 1385.1,551.4 1391.4,555.5 1394.4,680.2 1388.1,676.7 1381.1,671.4 1359.8,650.9 1358.1,649.2 1347.1,639.9 1335.6,632.0 1325.2,626.2 1322.4,624.7 1321.8,624.4 1293.0,610.8 1290.7,609.8 1256.1,594.1 1221.5,578.4 1186.9,562.8 1152.4,547.1 1118.9,532.0 1117.8,531.4 1107.4,526.8 1083.2,515.9 1048.6,500.5 1014.1,485.2 979.5,469.7Z"/>
<path fill="url(#s53)" stroke="url(#s53)" d="M970.5,278.1 997.0,289.0 1005.1,292.0 1039.6,304.1 1059.2,311.3 1074.2,317.2 1094.4,325.7 1098.4,327.4 1108.8,331.9 1143.4,347.4 1177.9,363.0 1212.5,378.7 1247.1,394.4 1278.8,408.8 1281.7,410.1 1284.0,411.1 1311.6,424.6 1312.8,425.2 1316.2,427.3 1326.0,434.0 1326.6,434.5 1338.1,445.6 1349.1,460.0 1350.8,462.7 1372.1,496.0 1379.0,503.9 1385.4,508.2 1391.4,555.5 1385.1,551.4 1378.1,544.2 1356.8,514.3 1355.1,512.0 1344.1,498.9 1332.6,488.7 1332.0,488.3 1322.2,481.9 1318.8,479.9 1317.6,479.3 1290.0,466.0 1287.7,464.9 1284.8,463.6 1253.1,449.2 1218.5,433.5 1183.9,417.9 1149.4,402.2 1114.8,386.6 1104.4,382.0 1100.4,380.2 1080.2,371.4 1065.2,365.0 1045.6,356.8 1011.1,342.7 1003.0,339.3 976.5,327.8Z"/>
<path fill="url(#s52)" stroke="url(#s52)" d="M964.5,274.8 991.0,285.7 999.0,288.6 1033.6,300.7 1053.2,308.0 1068.2,313.9 1087.8,322.1 1088.4,322.3 1102.8,328.6 1137.3,344.1 1171.9,359.7 1206.5,375.4 1241.1,391.1 1269.9,404.1 1272.8,405.4 1275.6,406.7 1305.0,420.8 1305.6,421.1 1311.6,424.6 1311.0,424.3 1281.7,410.1 1278.8,408.8 1275.9,407.5 1247.1,394.4 1212.5,378.7 1177.9,363.0 1143.4,347.4 1108.8,331.9 1094.4,325.7 1093.8,325.4 1074.2,317.2 1059.2,311.3 1039.6,304.1 1005.1,292.0 997.0,289.0 970.5,278.1ZM1305.6,421.1 1310.2,423.7 1316.2,427.3ZM1311.6,424.6 1316.2,427.3 1305.6,421.1ZM1316.2,427.3 1325.5,433.6 1326.0,434.0 1337.6,444.9 1338.1,445.6 1348.5,459.2 1349.1,460.0 1350.8,462.7 1344.8,456.8 1343.1,454.4 1342.5,453.6 1332.1,441.1 1331.5,440.4 1320.0,430.2 1319.4,429.8 1310.2,423.7ZM1344.8,456.8 1366.1,487.3 1372.1,496.0ZM1350.8,462.7 1372.1,496.0 1344.8,456.8ZM1366.1,487.3 1373.0,494.6 1379.4,498.8 1385.4,508.2 1379.0,503.9 1372.1,496.0Z"/>
<path fill="url(#s51)" stroke="url(#s51)" d="M964.5,274.8 991.0,285.7 999.0,288.6 1033.6,300.7 1053.2,308.0 1068.2,313.9 1087.8,322.1 1102.8,328.6 1137.3,344.1 1171.9,359.7 1206.5,375.4 1241.1,391.1 1269.9,404.1 1275.6,406.7 1305.0,420.8 1310.2,423.7 1319.4,429.8 1331.5,440.4 1342.5,453.6 1344.8,456.8 1366.1,487.3 1360.1,480.3 1338.8,452.8 1336.5,449.9 1325.5,438.0 1313.4,428.0 1304.2,422.3 1299.0,419.4 1269.6,405.5 1263.9,402.8 1235.1,389.8 1200.5,374.1 1165.9,358.4 1131.3,342.8 1096.8,327.3 1081.8,320.8 1062.2,312.6 1047.2,306.7 1027.6,299.5 993.0,287.4 985.0,284.4 958.5,273.5ZM1360.1,480.3 1367.0,487.0 1373.4,491.0 1379.4,498.8 1373.0,494.6 1366.1,487.3Z"/>
<path fill="url(#s50)" stroke="url(#s50)" d="M958.5,273.5 985.0,284.4 993.0,287.4 1027.6,299.5 1047.2,306.7 1062.2,312.6 1081.2,320.6 1081.8,320.8 1096.8,327.3 1131.3,342.8 1165.9,358.4 1200.5,374.1 1235.1,389.8 1269.6,405.5 1297.9,418.8 1299.0,419.4 1304.2,422.3 1313.4,428.0 1325.5,438.0 1336.5,449.9 1338.8,452.8 1360.1,480.3 1354.1,474.4 1332.8,449.7 1330.5,447.2 1319.5,436.3 1307.4,427.1 1298.2,421.6 1293.0,418.9 1291.9,418.3 1263.6,405.0 1229.1,389.3 1194.5,373.6 1159.9,358.0 1125.3,342.3 1090.8,326.9 1075.8,320.4 1075.2,320.1 1056.2,312.2 1041.2,306.2 1021.6,299.0 987.0,286.9 979.0,283.9 952.5,273.0ZM1354.1,474.4 1361.0,480.5 1367.4,484.3 1373.4,491.0 1367.0,487.0 1360.1,480.3Z"/>
<path fill="url(#s49)" stroke="url(#s49)" d="M952.5,273.0 979.0,283.9 987.0,286.9 1021.6,299.0 1041.2,306.2 1056.2,312.2 1074.6,319.9 1075.2,320.1 1090.8,326.9 1125.3,342.3 1159.9,358.0 1194.5,373.6 1229.1,389.3 1263.6,405.0 1291.3,418.0 1291.9,418.3 1298.2,421.6 1306.8,426.8 1307.4,427.1 1319.5,436.3 1330.5,447.2 1332.8,449.7 1354.1,474.4 1348.1,469.4 1326.8,447.2 1324.5,444.9 1313.5,435.0 1301.4,426.5 1300.8,426.1 1292.2,421.2 1285.9,417.9 1285.3,417.6 1257.6,404.7 1223.0,389.0 1188.5,373.3 1153.9,357.7 1119.3,342.0 1084.7,326.6 1069.2,319.8 1068.6,319.6 1050.2,311.9 1035.2,306.0 1015.6,298.7 981.0,286.6 972.9,283.6 946.4,272.7ZM1348.1,469.4 1355.0,475.0 1361.0,480.5ZM1354.1,474.4 1361.0,480.5 1348.1,469.4ZM1355.0,475.0 1361.3,478.7 1367.4,484.3 1361.0,480.5Z"/>
<path fill="url(#s48)" stroke="url(#s48)" d="M946.4,272.7 972.9,283.6 981.0,286.6 1015.6,298.7 1035.2,306.0 1050.2,311.9 1068.6,319.6 1084.7,326.6 1119.3,342.0 1153.9,357.7 1188.5,373.3 1223.0,389.0 1257.6,404.7 1284.7,417.3 1285.3,417.6 1292.2,421.2 1300.3,425.8 1300.8,426.1 1312.9,434.6 1313.5,435.0 1324.5,444.9 1326.8,447.2 1348.1,469.4 1355.0,475.0 1349.0,470.7 1342.1,465.4 1320.8,444.9 1318.5,442.8 1307.5,433.6 1306.9,433.2 1294.8,425.1 1294.2,424.8 1286.2,420.3 1279.3,416.8 1278.7,416.5 1251.6,404.0 1217.0,388.3 1182.5,372.6 1147.9,356.9 1113.3,341.3 1078.7,325.8 1062.6,318.8 1044.2,311.1 1029.2,305.2 1009.6,298.0 975.0,285.9 966.9,282.9 940.4,272.0ZM1349.0,470.7 1355.3,474.2 1361.3,478.7 1355.0,475.0Z"/>
<path fill="url(#s47)" stroke="url(#s47)" d="M940.4,272.0 966.9,282.9 975.0,285.9 1009.6,298.0 1028.6,305.0 1029.2,305.2 1044.2,311.1 1062.0,318.6 1062.6,318.8 1078.7,325.8 1113.3,341.3 1147.9,356.9 1182.5,372.6 1217.0,388.3 1251.6,404.0 1277.0,415.7 1278.7,416.5 1286.2,420.3 1293.7,424.4 1294.2,424.8 1306.9,433.2 1318.5,442.8 1320.8,444.9 1342.1,465.4 1336.1,461.7 1314.7,443.1 1312.4,441.1 1300.9,432.2 1288.2,424.2 1287.7,423.9 1280.2,419.9 1272.7,416.2 1270.9,415.3 1245.6,403.6 1211.0,388.0 1176.4,372.3 1141.9,356.6 1107.3,341.0 1072.7,325.5 1056.6,318.5 1056.0,318.3 1038.1,310.8 1023.2,304.9 1022.6,304.7 1003.6,297.7 969.0,285.5 960.9,282.6 934.4,271.7ZM1336.1,461.7 1349.3,470.1 1355.3,474.2ZM1342.1,465.4 1355.3,474.2 1336.1,461.7Z"/>
<path fill="url(#s46)" stroke="url(#s46)" d="M934.4,271.7 957.5,281.3 960.9,282.6 969.0,285.5 1003.6,297.7 1017.4,302.7 1022.6,304.7 1038.1,310.8 1055.4,318.0 1056.0,318.3 1072.7,325.5 1107.3,341.0 1141.9,356.6 1176.4,372.3 1211.0,388.0 1245.6,403.6 1268.1,414.0 1270.9,415.3 1280.2,419.9 1286.5,423.3 1287.7,423.9 1300.3,431.8 1300.9,432.2 1314.7,443.1 1336.1,461.7 1349.3,470.1 1343.3,467.5 1330.1,459.7 1308.7,443.1 1294.9,433.4 1294.3,433.0 1281.7,425.6 1280.5,425.0 1274.2,421.8 1264.9,417.3 1262.1,415.9 1239.6,405.6 1205.0,390.0 1170.4,374.3 1135.9,358.6 1101.3,343.0 1066.7,327.5 1050.0,320.3 1049.4,320.0 1032.1,312.8 1016.6,306.7 1011.4,304.7 997.6,299.7 963.0,287.5 954.9,284.6 951.5,283.3 928.4,273.7Z"/>
<path fill="url(#s45)" stroke="url(#s45)" d="M928.4,273.7 951.5,283.3 963.0,287.5 997.6,299.7 1010.2,304.3 1011.4,304.7 1032.1,312.8 1046.5,318.8 1049.4,320.0 1066.7,327.5 1101.3,343.0 1135.9,358.6 1170.4,374.3 1205.0,390.0 1235.6,403.8 1239.6,405.6 1262.1,415.9 1274.2,421.8 1280.5,425.0 1289.1,429.8 1294.3,433.0 1308.7,443.1 1330.1,459.7 1330.6,460.1 1343.3,467.5 1337.3,467.2 1324.6,460.4 1324.0,460.1 1302.7,446.1 1288.3,437.4 1283.1,434.5 1274.5,430.0 1268.1,426.9 1256.0,421.2 1233.6,411.0 1229.5,409.1 1199.0,395.3 1164.4,379.6 1129.8,363.9 1095.3,348.3 1060.7,332.8 1043.4,325.3 1040.5,324.1 1026.1,318.1 1005.4,310.0 1004.2,309.6 991.5,305.0 957.0,292.9 945.4,288.6 922.4,279.0Z"/>
<path fill="url(#s44)" stroke="url(#s44)" d="M922.4,279.0 945.4,288.6 948.9,289.9 957.0,292.9 991.5,305.0 1004.2,309.6 1012.9,312.9 1026.1,318.1 1040.5,324.1 1050.3,328.3 1060.7,332.8 1088.4,345.2 1095.3,348.3 1129.8,363.9 1131.6,364.7 1140.2,368.6 1146.0,371.2 1150.6,373.3 1159.8,377.5 1162.1,378.6 1164.4,379.6 1166.7,380.7 1169.0,381.7 1177.7,385.6 1181.1,387.2 1185.7,389.3 1190.9,391.6 1199.0,395.3 1219.7,404.7 1229.5,409.1 1233.6,411.0 1245.1,416.2 1267.6,426.6 1268.1,426.9 1283.1,434.5 1291.2,439.0 1302.7,446.1 1324.0,460.1 1324.6,460.4 1337.3,467.2 1334.3,467.4 1321.6,460.8 1321.0,460.5 1299.7,447.7 1288.2,441.0 1280.1,439.2 1265.1,436.6 1264.6,436.5 1242.1,434.9 1230.6,431.1 1226.5,429.8 1216.7,427.0 1196.0,421.5 1187.9,419.9 1182.7,420.7 1178.1,424.9 1174.7,431.1 1166.0,451.7 1163.7,454.7 1161.4,455.1 1159.1,452.6 1156.8,447.5 1147.6,417.3 1143.0,406.1 1137.2,398.0 1128.6,391.3 1126.8,390.2 1092.3,368.4 1085.4,364.4 1057.7,349.8 1047.3,345.0 1037.5,340.5 1023.1,334.4 1009.9,329.1 1001.2,325.8 988.5,321.2 954.0,309.0 945.9,306.1 942.4,304.8 919.4,295.2Z"/>
<path fill="url(#s43)" stroke="url(#s43)" d="M919.4,295.2 945.3,305.9 945.9,306.1 954.0,309.0 988.5,321.2 1009.9,329.1 1012.7,330.2 1023.1,334.4 1047.3,345.0 1053.7,347.9 1057.7,349.8 1072.1,357.1 1085.4,364.4 1088.8,366.4 1092.3,368.4 1126.8,390.2 1128.6,391.3 1130.3,392.5 1137.2,398.0 1138.4,399.2 1143.0,406.1 1143.6,407.3 1147.6,417.3 1148.2,419.1 1156.8,447.5 1159.1,452.6 1161.4,455.1 1163.7,454.7 1166.0,451.7 1174.7,431.1 1178.1,424.9 1182.2,421.0 1182.7,420.7 1187.4,419.9 1187.9,419.9 1193.7,420.9 1196.0,421.5 1215.6,426.7 1216.7,427.0 1230.6,431.1 1242.1,434.9 1262.8,436.3 1264.6,436.5 1265.1,436.6 1288.2,441.0 1299.7,447.7 1321.0,460.5 1334.3,467.4 1331.3,467.6 1318.0,460.9 1296.7,448.6 1285.2,442.3 1262.1,445.3 1261.6,445.4 1259.8,445.8 1239.1,452.6 1227.6,450.2 1213.7,448.4 1212.6,448.3 1193.0,446.8 1190.7,446.7 1184.9,447.2 1184.3,447.4 1179.7,451.2 1179.2,452.1 1175.1,461.6 1171.7,475.6 1163.0,520.8 1160.7,527.7 1158.4,529.5 1156.1,525.6 1153.8,516.6 1145.2,463.6 1144.6,460.3 1140.6,442.0 1140.0,440.0 1135.4,428.4 1134.2,426.4 1127.3,418.4 1125.6,416.9 1123.8,415.4 1089.3,387.5 1085.8,385.0 1082.3,382.6 1069.1,374.0 1054.7,365.9 1050.7,363.8 1044.3,360.6 1020.1,349.7 1009.7,345.5 1006.9,344.3 985.5,336.4 951.0,324.2 942.9,321.3 942.3,321.1 916.4,310.4Z"/>
<path fill="url(#s42)" stroke="url(#s42)" d="M913.4,295.9 939.3,306.6 939.9,306.8 948.0,309.8 982.5,321.9 1003.9,329.8 1006.7,330.9 1017.1,335.1 1041.3,345.7 1047.7,348.6 1051.7,350.6 1066.1,357.8 1079.3,365.1 1082.8,367.1 1086.3,369.1 1120.8,390.9 1122.6,392.0 1124.3,393.2 1131.2,398.7 1132.4,400.0 1137.0,406.8 1137.5,408.0 1141.6,418.0 1142.2,419.8 1150.8,448.3 1153.1,453.3 1155.4,455.8 1157.7,455.4 1160.0,452.4 1168.7,431.8 1172.1,425.6 1176.2,421.8 1176.7,421.5 1181.3,420.6 1181.9,420.6 1187.7,421.7 1190.0,422.2 1209.6,427.4 1210.7,427.7 1224.6,431.8 1236.1,435.6 1256.8,437.0 1258.6,437.2 1259.1,437.3 1262.1,445.3 1261.6,445.4 1259.8,445.8 1239.1,452.6 1227.6,450.2 1213.7,448.4 1212.6,448.3 1193.0,446.8 1190.7,446.7 1184.9,447.2 1184.3,447.4 1179.7,451.2 1179.2,452.1 1175.1,461.6 1171.7,475.6 1163.0,520.8 1160.7,527.7 1158.4,529.5 1156.1,525.6 1153.8,516.6 1145.2,463.6 1144.6,460.3 1140.6,442.0 1140.0,440.0 1135.4,428.4 1134.2,426.4 1127.3,418.4 1125.6,416.9 1123.8,415.4 1089.3,387.5 1085.8,385.0 1082.3,382.6 1069.1,374.0 1054.7,365.9 1050.7,363.8 1044.3,360.6 1020.1,349.7 1009.7,345.5 1006.9,344.3 985.5,336.4 951.0,324.2 942.9,321.3 942.3,321.1 916.4,310.4ZM1285.2,442.3 1282.2,441.7 1259.1,437.3ZM1259.1,437.3 1285.2,442.3 1262.1,445.3ZM1285.2,442.3 1296.7,448.6 1318.0,460.9 1331.3,467.6 1328.3,468.0 1315.0,461.2 1293.7,448.4 1282.2,441.7Z"/>
<path fill="url(#s41)" stroke="url(#s41)" d="M910.4,278.9 933.4,288.5 936.9,289.8 945.0,292.8 979.5,304.9 992.8,309.7 1000.9,312.8 1014.1,318.0 1030.2,324.8 1038.3,328.2 1048.7,332.7 1076.3,345.1 1083.3,348.2 1117.8,363.8 1119.6,364.6 1128.2,368.5 1134.0,371.2 1138.6,373.2 1147.8,377.4 1150.1,378.5 1152.4,379.5 1154.7,380.6 1157.0,381.6 1165.7,385.5 1169.1,387.1 1173.7,389.2 1178.9,391.5 1187.0,395.2 1207.7,404.6 1221.6,410.9 1233.1,416.1 1236.0,417.4 1255.6,426.6 1256.1,426.9 1274.6,436.5 1279.2,439.2 1282.2,441.7 1277.6,440.6 1259.1,437.3 1258.6,437.2 1239.0,435.6 1236.1,435.6 1224.6,431.8 1210.7,427.7 1190.0,422.2 1181.9,420.6 1176.7,421.5 1172.1,425.6 1168.7,431.8 1160.0,452.4 1157.7,455.4 1155.4,455.8 1153.1,453.3 1150.8,448.3 1141.6,418.0 1137.0,406.8 1131.2,398.7 1122.6,392.0 1120.8,390.9 1086.3,369.1 1079.3,365.1 1051.7,350.6 1041.3,345.7 1033.2,342.0 1017.1,335.1 1003.9,329.8 995.8,326.7 982.5,321.9 948.0,309.8 939.9,306.8 936.4,305.5 913.4,295.9ZM1293.7,448.4 1290.7,446.7 1279.2,439.2ZM1279.2,439.2 1293.7,448.4 1282.2,441.7ZM1293.7,448.4 1315.0,461.2 1315.6,461.5 1328.3,468.0 1325.3,468.6 1312.6,461.7 1312.0,461.3 1290.7,446.7Z"/>
<path fill="url(#s40)" stroke="url(#s40)" d="M904.4,271.9 927.4,281.2 938.9,285.2 973.5,296.1 986.8,300.6 987.3,300.8 1008.1,308.4 1024.2,314.9 1025.4,315.4 1042.7,322.8 1077.2,338.2 1111.8,353.8 1146.4,369.5 1181.0,385.2 1215.5,400.8 1230.0,407.4 1239.7,412.0 1250.1,417.2 1257.0,421.0 1268.6,428.3 1270.3,429.6 1282.4,439.6 1288.4,445.1 1276.3,437.5 1274.6,436.5 1263.0,430.3 1256.1,426.9 1245.8,421.9 1236.0,417.4 1221.6,410.9 1187.0,395.2 1152.4,379.5 1117.8,363.8 1083.3,348.2 1048.7,332.7 1031.4,325.2 1030.2,324.8 1014.1,318.0 993.4,309.9 992.8,309.7 979.5,304.9 945.0,292.8 933.4,288.5 910.4,278.9ZM1290.7,446.7 1284.7,441.7 1282.4,439.6ZM1282.4,439.6 1290.7,446.7 1288.4,445.1ZM1312.0,461.3 1306.0,462.0 1284.7,441.7ZM1284.7,441.7 1312.0,461.3 1290.7,446.7ZM1312.0,461.3 1312.6,461.7 1325.3,468.6 1319.3,470.8 1306.6,462.5 1306.0,462.0Z"/>
<path fill="url(#s39)" stroke="url(#s39)" d="M898.4,265.8 921.4,274.8 924.9,275.9 932.9,278.4 967.5,288.2 981.3,292.4 986.5,294.1 1002.1,299.6 1019.4,306.4 1019.9,306.7 1036.7,313.7 1071.2,329.0 1078.7,332.4 1105.8,344.6 1140.4,360.3 1175.0,376.0 1209.5,391.7 1233.7,403.0 1236.0,404.1 1244.1,408.4 1251.0,412.5 1252.2,413.3 1264.3,422.6 1264.9,423.1 1270.9,430.0 1270.3,429.6 1258.2,421.6 1257.0,421.0 1250.1,417.2 1242.1,413.1 1239.7,412.0 1215.5,400.8 1181.0,385.2 1146.4,369.5 1111.8,353.8 1084.7,341.6 1077.2,338.2 1042.7,322.8 1026.0,315.7 1025.4,315.4 1008.1,308.4 992.5,302.6 987.3,300.8 973.5,296.1 938.9,285.2 930.9,282.4 927.4,281.2 904.4,271.9ZM1282.4,439.6 1276.4,435.1 1264.9,423.1ZM1264.9,423.1 1282.4,439.6 1270.9,430.0ZM1282.4,439.6 1284.7,441.7 1306.0,462.0 1312.9,467.3 1319.3,470.8 1313.3,474.4 1306.9,470.5 1300.0,464.1 1278.7,437.8 1276.4,435.1Z"/>
<path fill="url(#s38)" stroke="url(#s38)" d="M892.3,259.3 918.9,269.1 926.9,271.4 961.5,279.9 980.5,285.3 981.1,285.5 996.1,290.6 1013.9,297.4 1014.5,297.6 1030.6,304.3 1065.2,319.5 1072.7,322.9 1077.3,325.0 1099.8,335.1 1134.4,350.8 1168.9,366.5 1203.5,382.2 1230.0,394.8 1230.6,395.1 1238.1,399.3 1246.2,404.7 1258.8,416.1 1264.9,423.1 1252.2,413.3 1244.1,408.4 1236.6,404.4 1236.0,404.1 1209.5,391.7 1175.0,376.0 1140.4,360.3 1105.8,344.6 1083.3,334.4 1078.7,332.4 1071.2,329.0 1036.7,313.7 1020.5,306.9 1019.9,306.7 1002.1,299.6 987.1,294.3 986.5,294.1 967.5,288.2 932.9,278.4 924.9,275.9 898.4,265.8ZM1276.4,435.1 1270.4,430.7 1258.8,416.1ZM1258.8,416.1 1276.4,435.1 1264.9,423.1ZM1276.4,435.1 1278.7,437.8 1300.0,464.1 1306.9,470.5 1313.3,474.4 1307.2,478.9 1300.9,474.6 1294.0,466.8 1272.7,434.1 1270.4,430.7Z"/>
<path fill="url(#s37)" stroke="url(#s37)" d="M886.3,253.6 912.8,263.4 920.9,265.6 955.5,274.2 975.1,279.8 990.1,284.8 1008.5,291.9 1009.1,292.1 1024.6,298.6 1059.2,313.8 1071.3,319.2 1085.7,325.7 1093.8,329.4 1128.4,345.1 1162.9,360.7 1197.5,376.4 1202.1,378.5 1224.6,389.5 1225.8,390.1 1232.1,393.9 1240.2,399.7 1246.2,404.7 1238.1,399.3 1231.8,395.7 1230.6,395.1 1208.1,384.3 1203.5,382.2 1168.9,366.5 1134.4,350.8 1099.8,335.1 1091.7,331.5 1077.3,325.0 1065.2,319.5 1030.6,304.3 1015.1,297.8 1014.5,297.6 996.1,290.6 981.1,285.5 961.5,279.9 926.9,271.4 918.9,269.1 892.3,259.3ZM1247.3,405.5 1241.3,400.6 1240.2,399.7ZM1240.2,399.7 1247.3,405.5 1246.2,404.7ZM1247.3,405.5 1258.8,416.1 1259.4,416.7 1270.4,430.7 1272.7,434.1 1294.0,466.8 1300.9,474.6 1307.2,478.9 1301.2,484.9 1294.9,480.2 1288.0,471.4 1266.7,433.3 1264.4,429.3 1253.4,413.2 1252.8,412.5 1241.3,400.6Z"/>
<path fill="url(#s36)" stroke="url(#s36)" d="M880.3,249.5 906.8,259.3 914.9,261.5 949.5,270.1 969.1,275.7 984.1,280.7 1003.1,288.0 1018.6,294.5 1047.4,307.1 1053.2,309.7 1079.7,321.6 1087.8,325.3 1122.4,341.0 1156.9,356.6 1176.5,365.5 1191.5,372.3 1196.1,374.5 1219.7,386.2 1220.3,386.6 1226.3,390.5 1225.8,390.1 1202.1,378.5 1197.5,376.4 1182.5,369.6 1162.9,360.7 1128.4,345.1 1093.8,329.4 1085.7,325.7 1059.2,313.8 1053.5,311.2 1024.6,298.6 1009.1,292.1 990.1,284.8 975.1,279.8 955.5,274.2 920.9,265.6 912.8,263.4 886.3,253.6ZM1232.1,393.9 1226.1,390.2 1220.3,386.6ZM1220.3,386.6 1232.1,393.9 1226.3,390.5ZM1232.1,393.9 1241.3,400.6 1253.4,413.2 1264.4,429.3 1266.7,433.3 1288.0,471.4 1294.9,480.2 1301.2,484.9 1295.2,493.4 1288.9,488.3 1282.0,478.4 1260.7,434.4 1258.3,429.9 1247.4,411.4 1235.3,397.5 1226.1,390.2Z"/>
<path fill="url(#s35)" stroke="url(#s35)" d="M880.3,249.5 906.8,259.3 914.9,261.5 949.5,270.1 969.1,275.7 984.1,280.7 1003.1,288.0 1003.6,288.2 1018.6,294.5 1047.4,307.1 1048.6,307.6 1053.2,309.7 1087.8,325.3 1122.4,341.0 1156.9,356.6 1176.5,365.5 1185.2,369.5 1191.5,372.3 1220.3,386.6 1220.9,386.9 1226.1,390.2 1235.3,397.5 1247.4,411.4 1258.3,429.9 1260.7,434.4 1282.0,478.4 1288.9,488.3 1295.2,493.4 1289.2,503.9 1282.9,498.5 1276.0,487.5 1254.6,438.3 1252.3,433.2 1241.4,412.7 1229.3,397.4 1220.1,389.7 1214.9,386.2 1214.3,385.9 1185.5,371.5 1179.2,368.6 1170.5,364.7 1150.9,355.8 1116.3,340.1 1081.8,324.4 1047.2,308.8 1042.6,306.7 1041.4,306.2 1012.6,293.6 997.6,287.4 997.1,287.1 978.0,279.9 963.1,274.8 943.5,269.2 908.9,260.7 900.8,258.4 874.3,248.6Z"/>
<path fill="url(#s34)" stroke="url(#s34)" d="M874.3,248.6 900.8,258.4 908.9,260.7 943.5,269.2 963.1,274.8 978.0,279.9 997.6,287.4 998.2,287.6 1012.6,293.6 1042.6,306.7 1043.7,307.3 1047.2,308.8 1081.8,324.4 1116.3,340.1 1150.9,355.8 1179.2,368.6 1182.6,370.2 1185.5,371.5 1203.4,379.9 1214.9,386.2 1215.5,386.6 1220.1,389.7 1225.8,394.2 1229.3,397.4 1234.5,403.1 1241.4,412.7 1242.5,414.5 1250.0,428.3 1252.3,433.2 1254.6,438.3 1267.9,470.0 1271.4,477.9 1273.1,481.7 1273.7,482.9 1274.8,485.3 1276.0,487.5 1270.0,521.3 1268.8,525.5 1267.7,526.5 1267.1,525.6 1265.3,516.9 1261.9,485.1 1248.6,447.9 1246.3,442.0 1244.0,436.4 1236.5,420.3 1235.4,418.2 1228.5,407.3 1223.3,400.9 1219.8,397.3 1214.1,392.4 1209.5,389.1 1208.9,388.7 1197.3,382.2 1179.5,373.7 1176.6,372.4 1173.1,370.8 1144.9,358.0 1110.3,342.3 1075.8,326.6 1041.2,311.0 1037.7,309.5 1036.6,308.9 1006.6,295.8 992.2,289.8 991.6,289.5 972.0,282.1 957.1,277.0 937.5,271.4 902.9,262.8 894.8,260.6 868.3,250.8ZM1270.0,521.3 1272.3,510.4 1278.3,491.7ZM1276.0,487.5 1278.3,491.7 1270.0,521.3ZM1278.3,491.7 1282.9,498.5 1284.0,499.9 1289.2,503.9 1283.2,524.1 1278.0,519.7 1276.9,518.2 1272.3,510.4Z"/>
<path fill="url(#s33)" stroke="url(#s33)" d="M868.3,250.8 894.8,260.6 902.9,262.8 937.5,271.4 957.1,277.0 957.6,277.2 972.0,282.1 992.2,289.8 992.8,290.0 1006.6,295.8 1037.7,309.5 1038.3,309.7 1041.2,311.0 1075.8,326.6 1110.3,342.3 1144.9,358.0 1176.6,372.4 1177.8,372.9 1179.5,373.7 1197.3,382.2 1209.5,389.1 1214.1,392.4 1216.9,394.7 1219.8,397.3 1223.9,401.5 1228.5,407.3 1235.4,418.2 1236.5,420.3 1244.0,436.4 1246.3,442.0 1248.6,447.9 1260.2,480.2 1261.9,485.1 1265.3,516.9 1267.1,525.6 1261.1,612.8 1259.3,578.7 1255.9,516.4 1254.2,492.0 1242.6,456.4 1240.3,449.9 1238.0,443.7 1230.5,426.1 1229.4,423.8 1222.5,411.9 1217.8,405.7 1213.8,401.2 1210.9,398.4 1208.0,396.0 1203.4,392.5 1191.3,385.4 1173.5,376.9 1171.7,376.1 1170.6,375.6 1138.9,361.2 1104.3,345.5 1069.8,329.8 1035.2,314.2 1032.3,312.9 1031.7,312.7 1000.6,299.0 986.8,293.2 986.2,293.0 966.0,285.3 951.6,280.4 951.0,280.2 931.5,274.6 896.9,266.0 888.8,263.8 862.3,254.0ZM1261.1,612.8 1261.6,604.4 1267.7,526.5ZM1267.1,525.6 1267.7,526.5 1261.1,612.8ZM1261.6,604.4 1262.8,588.1 1268.8,525.5ZM1267.7,526.5 1268.8,525.5 1261.6,604.4ZM1262.8,588.1 1266.3,544.3 1272.3,510.4ZM1268.8,525.5 1272.3,510.4 1262.8,588.1ZM1266.3,544.3 1268.0,528.8 1274.0,513.7ZM1272.3,510.4 1274.0,513.7 1266.3,544.3ZM1274.0,513.7 1278.0,519.7 1278.6,520.4 1283.2,524.1 1277.2,540.1 1272.6,536.2 1272.0,535.4 1268.0,528.8Z"/>
<path fill="url(#s32)" stroke="url(#s32)" d="M862.3,254.0 888.8,263.8 896.9,266.0 931.5,274.6 951.6,280.4 966.0,285.3 986.8,293.2 1000.6,299.0 1032.3,312.9 1035.2,314.2 1069.8,329.8 1104.3,345.5 1138.9,361.2 1171.2,375.8 1171.7,376.1 1173.5,376.9 1191.3,385.4 1203.4,392.5 1208.0,396.0 1210.9,398.4 1213.2,400.6 1217.8,405.7 1221.9,411.0 1229.4,423.8 1229.9,424.9 1237.4,442.2 1240.3,449.9 1242.6,456.4 1254.2,492.0 1248.1,491.8 1236.6,457.8 1234.3,451.6 1231.4,444.2 1223.9,427.7 1223.4,426.6 1215.9,414.3 1211.8,409.2 1207.2,404.3 1204.9,402.1 1202.0,399.7 1197.4,396.4 1185.3,389.4 1167.5,380.8 1165.7,380.1 1165.2,379.8 1132.9,365.1 1098.3,349.5 1063.7,333.8 1029.2,318.2 1026.3,316.9 994.6,303.0 980.8,297.2 960.0,289.2 945.6,284.4 925.4,278.6 890.9,270.0 882.8,267.8 856.3,258.0ZM1248.1,491.8 1249.9,496.9 1255.9,516.4ZM1254.2,492.0 1255.9,516.4 1248.1,491.8ZM1255.9,516.4 1259.3,578.7 1253.3,529.2 1249.9,496.9ZM1253.3,529.2 1255.1,538.2 1261.1,612.8ZM1259.3,578.7 1261.1,612.8 1253.3,529.2ZM1255.1,538.2 1255.6,539.2 1256.8,538.2 1260.2,523.6 1266.3,544.3 1262.8,588.1 1261.6,604.4 1261.1,612.8ZM1268.0,528.8 1262.0,527.0 1260.2,523.6ZM1260.2,523.6 1268.0,528.8 1266.3,544.3ZM1268.0,528.8 1272.0,535.4 1272.6,536.2 1277.2,540.1 1271.2,537.8 1266.6,534.0 1266.0,533.3 1262.0,527.0Z"/>
<path fill="url(#s31)" stroke="url(#s31)" d="M856.3,258.0 882.8,267.8 890.9,270.0 925.4,278.6 945.0,284.2 945.6,284.4 960.0,289.2 980.2,297.0 980.8,297.2 994.6,303.0 1025.1,316.4 1026.3,316.9 1029.2,318.2 1063.7,333.8 1098.3,349.5 1132.9,365.1 1163.4,379.0 1165.2,379.8 1167.5,380.8 1184.8,389.1 1185.3,389.4 1197.4,396.4 1202.0,399.7 1207.2,404.3 1211.8,409.2 1215.9,414.3 1223.9,427.7 1231.4,444.2 1234.9,453.1 1236.6,457.8 1249.9,496.9 1243.9,493.0 1230.6,459.1 1228.9,455.0 1225.4,447.3 1217.9,432.8 1209.9,421.0 1205.8,416.3 1201.2,411.8 1196.0,407.7 1191.4,404.5 1179.3,397.7 1178.7,397.4 1161.5,389.3 1159.2,388.2 1157.4,387.4 1126.9,373.6 1092.3,357.9 1057.7,342.2 1023.2,326.6 1020.3,325.3 1019.1,324.8 988.6,311.4 974.8,305.6 974.2,305.4 954.0,297.6 939.6,292.8 939.0,292.6 919.4,287.0 884.9,278.4 876.8,276.2 850.3,266.4ZM1243.9,493.0 1247.3,501.6 1253.3,529.2ZM1249.9,496.9 1253.3,529.2 1243.9,493.0ZM1247.3,501.6 1249.0,505.6 1255.1,538.2ZM1253.3,529.2 1255.1,538.2 1247.3,501.6ZM1249.0,505.6 1249.6,506.9 1250.8,509.4 1251.9,511.8 1257.9,534.2 1256.8,538.2 1255.6,539.2 1255.1,538.2ZM1260.2,523.6 1254.2,516.3 1251.9,511.8ZM1251.9,511.8 1260.2,523.6 1257.9,534.2ZM1260.2,523.6 1264.9,531.7 1258.8,523.5 1254.2,516.3ZM1258.8,523.5 1260.0,524.9 1265.2,529.1 1271.2,537.8 1266.0,533.3 1264.9,531.7Z"/>
<path fill="url(#s30)" stroke="url(#s30)" d="M850.3,266.4 876.8,276.2 884.9,278.4 919.4,287.0 939.0,292.6 954.0,297.6 973.6,305.1 974.2,305.4 988.6,311.4 1018.5,324.5 1019.1,324.8 1023.2,326.6 1057.7,342.2 1092.3,357.9 1126.9,373.6 1154.0,385.8 1157.4,387.4 1161.5,389.3 1178.7,397.4 1190.8,404.1 1191.4,404.5 1196.0,407.7 1205.2,415.7 1205.8,416.3 1217.4,431.8 1217.9,432.8 1228.3,453.7 1228.9,455.0 1230.6,459.1 1251.9,511.8 1258.8,523.5 1255.8,518.9 1248.9,508.2 1227.6,460.4 1225.9,456.7 1225.3,455.4 1214.9,436.4 1214.3,435.5 1202.8,421.2 1202.2,420.6 1193.0,413.0 1188.4,410.0 1187.8,409.6 1175.7,403.0 1158.4,394.9 1154.4,393.1 1151.0,391.5 1123.9,379.2 1089.3,363.5 1054.7,347.8 1020.1,332.2 1016.1,330.4 1015.5,330.2 985.6,317.0 971.2,311.0 970.6,310.8 951.0,303.3 936.0,298.2 916.4,292.6 881.8,284.1 873.8,281.8 847.3,272.0ZM1255.8,518.9 1262.2,524.2 1265.2,529.1 1258.8,523.5Z"/>
<path fill="url(#s29)" stroke="url(#s29)" d="M847.3,272.0 873.8,281.8 881.8,284.1 916.4,292.6 936.0,298.2 951.0,303.3 970.0,310.5 970.6,310.8 985.6,317.0 1013.8,329.4 1015.5,330.2 1020.1,332.2 1054.7,347.8 1089.3,363.5 1123.9,379.2 1142.3,387.6 1151.0,391.5 1158.4,394.9 1187.3,409.3 1187.8,409.6 1193.0,413.0 1202.2,420.6 1214.3,435.5 1225.3,455.4 1227.6,460.4 1248.9,508.2 1255.8,518.9 1252.8,515.0 1245.9,505.1 1224.6,461.6 1222.3,457.1 1211.3,438.9 1199.2,425.0 1190.0,417.8 1184.8,414.5 1184.3,414.2 1155.4,400.0 1148.0,396.6 1139.3,392.7 1120.9,384.3 1086.3,368.6 1051.7,352.9 1017.1,337.3 1012.5,335.3 1010.8,334.5 982.6,322.1 967.6,315.9 967.0,315.6 948.0,308.4 933.0,303.3 913.4,297.7 878.8,289.2 870.8,286.9 844.3,277.1ZM1252.8,515.0 1259.2,519.9 1262.2,524.2 1255.8,518.9Z"/>
<path fill="url(#s28)" stroke="url(#s28)" d="M844.3,277.1 862.7,284.4 870.8,286.9 878.8,289.2 880.6,289.6 886.9,291.2 899.0,294.2 913.4,297.7 915.1,298.2 933.0,303.3 933.6,303.5 948.0,308.4 957.8,312.0 967.0,315.6 982.6,322.1 985.5,323.3 1010.8,334.5 1017.1,337.3 1021.2,339.1 1051.7,352.9 1086.3,368.6 1109.9,379.3 1120.9,384.3 1137.0,391.6 1139.3,392.7 1155.4,400.0 1160.1,402.1 1182.5,413.2 1184.3,414.2 1190.0,417.8 1199.2,425.0 1203.8,429.6 1211.3,438.9 1217.7,448.8 1222.3,457.1 1224.6,461.6 1241.3,496.6 1245.9,505.1 1251.1,512.9 1252.8,515.0 1255.1,517.3 1259.2,519.9 1256.2,548.2 1252.1,553.1 1249.8,554.7 1248.1,555.4 1242.9,554.8 1238.3,552.0 1221.6,522.8 1219.3,518.8 1214.7,511.1 1208.3,501.1 1200.8,490.7 1196.2,485.2 1187.0,475.7 1181.3,470.0 1179.5,468.3 1157.0,448.4 1152.4,445.1 1136.3,434.3 1134.0,432.8 1117.9,422.7 1106.9,416.2 1083.3,403.0 1048.7,384.3 1018.2,367.3 1014.1,365.3 1007.8,362.2 982.4,350.0 979.6,348.6 964.0,341.7 954.8,337.8 945.0,334.0 930.6,329.0 930.0,328.8 912.1,324.4 910.4,324.1 896.0,322.1 883.9,321.5 877.6,323.2 875.8,324.0 867.8,327.9 859.7,331.3 841.3,334.2Z"/>
<path fill="url(#s27)" stroke="url(#s27)" d="M841.3,334.2 859.1,331.5 859.7,331.3 875.8,324.0 877.6,323.2 878.1,323.0 882.8,321.6 883.9,321.5 886.8,321.3 896.0,322.1 905.2,323.2 910.4,324.1 912.1,324.4 921.9,326.5 930.6,329.0 938.1,331.5 945.0,334.0 954.8,337.8 961.1,340.5 979.6,348.6 982.4,350.0 994.0,355.4 1014.1,365.3 1018.2,367.3 1025.1,371.0 1048.7,384.3 1083.3,403.0 1101.7,413.2 1106.9,416.2 1117.9,422.7 1123.1,425.9 1134.0,432.8 1143.2,438.8 1152.4,445.1 1157.0,448.4 1162.2,452.6 1179.5,468.3 1187.0,475.7 1196.8,485.9 1200.8,490.7 1214.7,511.1 1221.6,522.8 1236.6,550.0 1238.3,552.0 1240.6,553.8 1242.9,554.8 1246.9,555.6 1248.1,555.4 1251.6,553.6 1252.1,553.1 1256.2,548.2 1253.2,576.3 1249.1,588.8 1248.5,590.3 1245.1,597.8 1243.9,599.7 1239.9,604.3 1237.6,606.2 1235.3,607.0 1233.6,606.3 1218.6,582.9 1211.7,572.0 1197.8,550.2 1193.8,544.5 1184.0,531.8 1176.5,521.6 1159.2,498.8 1154.0,492.9 1149.4,488.4 1140.2,480.0 1131.0,472.2 1120.0,463.3 1114.9,459.4 1103.9,451.3 1098.7,447.6 1080.3,435.5 1045.7,413.8 1022.1,397.9 1015.2,393.7 1011.1,391.4 991.0,380.7 979.4,374.8 976.6,373.3 958.1,364.6 951.8,361.8 942.0,357.8 935.1,355.2 927.6,352.6 918.9,350.4 909.1,348.8 907.4,348.6 902.2,348.2 893.0,348.2 883.8,348.8 880.9,349.9 879.8,350.5 875.1,354.4 874.6,355.0 872.8,356.9 856.7,376.4 856.1,376.9 838.3,389.4Z"/>
<path fill="url(#s26)" stroke="url(#s26)" d="M835.3,336.3 853.1,333.0 853.7,332.8 869.8,325.1 870.4,324.8 872.1,324.1 876.7,322.8 880.8,322.5 881.4,322.5 897.5,324.7 899.2,325.1 904.4,326.1 915.9,329.0 918.2,329.7 932.1,334.3 939.0,337.0 940.7,337.6 955.1,343.5 968.9,349.7 973.6,351.8 988.0,358.6 1004.1,366.4 1008.1,368.4 1019.1,374.1 1042.7,387.4 1077.3,406.1 1095.7,416.3 1099.2,418.3 1111.9,425.9 1117.0,429.1 1129.1,436.8 1137.2,442.1 1146.4,448.4 1152.8,453.2 1156.2,456.0 1171.8,470.2 1181.0,479.1 1190.8,489.0 1194.3,492.9 1205.8,508.0 1215.6,522.5 1229.4,544.1 1230.6,545.6 1232.3,547.2 1234.6,548.4 1236.3,548.8 1240.9,548.9 1241.5,548.7 1245.5,546.2 1250.2,540.6 1253.2,576.3 1248.5,590.3 1244.5,598.8 1243.9,599.7 1239.3,604.8 1237.6,606.2 1235.3,607.0 1233.6,606.3 1232.4,605.0 1218.6,582.9 1208.8,567.4 1197.3,549.4 1193.8,544.5 1184.0,531.8 1174.8,519.2 1159.2,498.8 1155.8,494.8 1149.4,488.4 1140.2,480.0 1132.1,473.1 1120.0,463.3 1114.9,459.4 1102.2,450.1 1098.7,447.6 1080.3,435.5 1045.7,413.8 1022.1,397.9 1011.1,391.4 1007.1,389.2 991.0,380.7 976.6,373.3 972.0,371.1 958.1,364.6 943.7,358.5 942.0,357.8 935.1,355.2 921.2,350.9 918.9,350.4 907.4,348.6 902.2,348.2 900.5,348.2 884.4,348.8 883.8,348.8 879.8,350.5 875.1,354.4 873.4,356.3 872.8,356.9 856.7,376.4 856.1,376.9 838.3,389.4Z"/>
<path fill="url(#s25)" stroke="url(#s25)" d="M832.2,281.6 845.5,286.1 850.7,287.6 866.8,291.7 867.4,291.8 873.7,293.5 878.4,294.8 894.5,299.8 901.4,302.1 915.2,306.9 936.0,314.6 937.7,315.2 951.0,320.5 965.9,326.8 970.5,328.7 992.4,338.3 1001.1,342.1 1005.1,343.9 1039.7,359.5 1074.3,375.1 1088.7,381.7 1096.2,385.1 1108.8,390.9 1126.1,398.9 1143.4,407.0 1149.8,410.0 1167.6,419.0 1168.8,419.6 1178.0,425.0 1184.3,429.4 1191.3,435.1 1197.0,440.8 1202.8,447.6 1208.5,455.3 1212.6,461.2 1226.4,482.8 1229.3,487.1 1233.3,492.6 1238.5,498.6 1240.2,500.2 1242.5,502.1 1247.2,504.9 1250.2,540.6 1245.5,546.2 1243.2,547.9 1241.5,548.7 1236.3,548.8 1232.3,547.2 1229.4,544.1 1215.6,522.5 1211.5,516.4 1205.8,508.0 1200.0,500.1 1194.3,492.9 1187.3,485.4 1181.0,479.1 1171.8,470.2 1170.6,469.1 1152.8,453.2 1146.4,448.4 1129.1,436.8 1111.9,425.9 1099.2,418.3 1091.7,414.0 1077.3,406.1 1042.7,387.4 1008.1,368.4 1004.1,366.4 995.5,362.2 973.6,351.8 968.9,349.7 954.0,343.1 940.7,337.6 939.0,337.0 918.2,329.7 904.4,326.1 897.5,324.7 881.4,322.5 876.7,322.8 870.4,324.8 869.8,325.1 853.7,332.8 848.5,334.2 835.3,336.3Z"/>
<path fill="url(#s24)" stroke="url(#s24)" d="M829.2,278.6 842.5,282.9 863.8,288.1 884.6,294.2 891.5,296.6 898.4,299.0 933.0,312.0 947.4,317.7 948.0,317.9 967.5,326.2 989.4,335.7 990.0,336.0 1002.1,341.4 1036.7,356.9 1071.3,372.6 1085.7,379.1 1086.8,379.7 1105.8,388.4 1140.4,404.6 1163.5,416.1 1164.6,416.7 1175.0,422.8 1180.2,426.3 1183.2,428.6 1178.0,425.0 1167.6,419.0 1166.5,418.4 1143.4,407.0 1108.8,390.9 1089.8,382.2 1088.7,381.7 1074.3,375.1 1039.7,359.5 1005.1,343.9 993.0,338.5 992.4,338.3 970.5,328.7 951.0,320.5 950.4,320.3 936.0,314.6 901.4,302.1 894.5,299.8 887.6,297.6 866.8,291.7 845.5,286.1 832.2,281.6ZM1183.2,428.6 1184.3,429.4 1196.4,440.2 1197.0,440.8 1208.5,455.3 1212.6,461.2 1233.3,492.6 1230.3,489.3 1209.6,458.7 1205.5,452.9 1194.0,438.6 1193.4,438.0 1181.3,427.2 1180.2,426.3ZM1230.3,489.3 1237.2,496.7 1240.2,500.2ZM1233.3,492.6 1240.2,500.2 1230.3,489.3ZM1237.2,496.7 1244.1,501.3 1247.2,504.9 1240.2,500.2Z"/>
<path fill="url(#s23)" stroke="url(#s23)" d="M826.2,273.3 860.8,282.3 877.5,287.3 881.6,288.7 895.4,293.7 930.0,307.1 943.2,312.4 944.4,312.9 964.5,321.5 987.0,331.3 999.1,336.6 1033.7,352.2 1068.3,367.9 1083.8,374.9 1102.8,383.7 1137.4,399.9 1159.3,411.0 1160.5,411.6 1172.0,418.4 1176.6,421.6 1177.2,422.0 1189.9,433.3 1190.4,433.9 1202.0,448.3 1205.0,452.1 1193.4,438.0 1192.9,437.4 1180.2,426.3 1179.6,425.9 1175.0,422.8 1163.5,416.1 1162.3,415.5 1140.4,404.6 1105.8,388.4 1086.8,379.7 1071.3,372.6 1036.7,356.9 1002.1,341.4 990.0,336.0 967.5,326.2 947.4,317.7 946.2,317.2 933.0,312.0 898.4,299.0 884.6,294.2 880.5,292.9 863.8,288.1 829.2,278.6ZM1205.0,452.1 1205.5,452.9 1209.6,458.7 1229.7,488.6 1230.3,489.3 1227.3,485.8 1226.7,485.1 1206.6,455.0 1202.5,449.1 1202.0,448.3ZM1227.3,485.8 1234.2,493.2 1241.1,497.8 1244.1,501.3 1237.2,496.7 1230.3,489.3Z"/>
<path fill="url(#s22)" stroke="url(#s22)" d="M820.2,262.7 830.6,265.6 854.8,269.5 856.5,269.9 871.5,273.6 889.4,279.5 924.0,292.1 936.6,297.0 937.2,297.2 958.5,306.0 980.4,315.4 993.1,321.1 1027.7,336.5 1062.3,352.2 1076.1,358.5 1077.8,359.3 1096.8,368.1 1131.4,384.5 1151.0,394.6 1153.3,395.9 1166.0,403.7 1169.4,406.2 1170.6,407.1 1183.3,419.2 1183.8,419.8 1195.4,435.4 1195.9,436.3 1200.6,443.8 1206.6,455.0 1202.0,448.3 1201.4,447.5 1189.9,433.3 1189.3,432.7 1176.6,421.6 1175.4,420.8 1172.0,418.4 1159.3,411.0 1157.0,409.7 1137.4,399.9 1102.8,383.7 1083.8,374.9 1082.1,374.1 1068.3,367.9 1033.7,352.2 999.1,336.6 986.4,331.0 964.5,321.5 943.2,312.4 942.6,312.2 930.0,307.1 895.4,293.7 877.5,287.3 862.5,282.8 860.8,282.3 836.6,276.6 826.2,273.3ZM1226.7,485.1 1220.7,477.0 1200.6,443.8ZM1200.6,443.8 1226.7,485.1 1206.6,455.0ZM1220.7,477.0 1228.2,485.7 1235.1,490.4 1241.1,497.8 1234.2,493.2 1226.7,485.1Z"/>
<path fill="url(#s21)" stroke="url(#s21)" d="M814.2,248.8 824.6,251.3 848.8,253.5 850.5,253.7 865.5,256.6 883.4,262.0 887.4,263.3 917.9,273.9 930.6,278.5 952.5,287.3 974.4,296.6 987.1,302.2 1021.7,317.6 1056.2,333.3 1069.5,339.3 1070.1,339.6 1090.8,349.2 1117.9,362.1 1125.4,365.8 1143.8,375.5 1145.0,376.2 1160.0,385.7 1162.9,387.9 1163.4,388.4 1176.7,401.8 1177.3,402.5 1189.4,420.5 1194.5,429.7 1200.6,443.8 1195.4,435.4 1183.3,419.2 1182.7,418.5 1169.4,406.2 1168.9,405.7 1166.0,403.7 1151.0,394.6 1149.8,394.0 1131.4,384.5 1123.9,380.9 1096.8,368.1 1076.1,358.5 1075.5,358.2 1062.3,352.2 1027.7,336.5 993.1,321.1 980.4,315.4 958.5,306.0 936.6,297.0 924.0,292.1 893.4,280.9 889.4,279.5 871.5,273.6 856.5,269.9 854.8,269.5 830.6,265.6 820.2,262.7ZM1220.7,477.0 1214.7,466.4 1194.5,429.7ZM1194.5,429.7 1220.7,477.0 1200.6,443.8ZM1214.7,466.4 1222.2,475.8 1229.1,480.8 1235.1,490.4 1228.2,485.7 1220.7,477.0Z"/>
<path fill="url(#s20)" stroke="url(#s20)" d="M808.2,237.4 818.6,239.5 842.8,241.0 844.5,241.2 859.5,243.8 877.4,248.7 881.4,249.9 882.0,250.1 911.9,259.8 924.6,264.3 925.2,264.5 946.5,272.8 962.6,279.5 968.4,282.0 981.1,287.5 1015.1,302.7 1015.7,302.9 1050.2,318.6 1063.5,324.6 1083.7,334.0 1084.8,334.6 1111.9,347.6 1119.4,351.4 1133.8,359.0 1137.8,361.3 1154.0,371.7 1155.1,372.6 1156.8,374.0 1169.5,386.7 1170.7,388.1 1182.2,405.2 1183.3,407.1 1188.5,416.4 1208.7,452.9 1216.2,462.2 1223.1,467.1 1229.1,480.8 1222.2,475.8 1214.7,466.4 1194.5,429.7 1189.4,420.5 1188.2,418.5 1176.7,401.8 1175.5,400.4 1162.9,387.9 1161.1,386.6 1160.0,385.7 1143.8,375.5 1139.8,373.3 1125.4,365.8 1117.9,362.1 1090.8,349.2 1089.7,348.7 1069.5,339.3 1056.2,333.3 1021.7,317.6 1021.1,317.4 987.1,302.2 974.4,296.6 968.7,294.1 952.5,287.3 931.2,278.7 930.6,278.5 917.9,273.9 888.0,263.5 887.4,263.3 883.4,262.0 865.5,256.6 850.5,253.7 848.8,253.5 824.6,251.3 814.2,248.8Z"/>
<path fill="url(#s19)" stroke="url(#s19)" d="M802.2,231.1 812.6,233.0 836.8,233.8 838.5,233.9 853.5,236.1 871.4,240.6 876.0,241.9 876.5,242.1 905.9,251.0 919.2,255.4 940.5,263.6 955.5,269.7 956.6,270.1 975.1,278.1 1002.7,290.3 1009.1,293.2 1009.7,293.5 1044.2,309.1 1070.2,321.0 1077.6,324.6 1078.8,325.1 1113.4,342.1 1119.7,345.5 1127.8,349.9 1145.1,360.6 1148.0,362.7 1149.1,363.6 1160.6,374.3 1163.5,377.6 1174.5,392.6 1180.5,402.3 1169.5,386.7 1166.6,383.4 1155.1,372.6 1154.0,371.7 1151.1,369.6 1133.8,359.0 1125.7,354.6 1119.4,351.4 1084.8,334.6 1083.7,334.0 1076.2,330.5 1050.2,318.6 1015.7,302.9 1015.1,302.7 1008.7,299.8 981.1,287.5 962.6,279.5 961.5,279.0 946.5,272.8 925.2,264.5 911.9,259.8 882.5,250.3 882.0,250.1 877.4,248.7 859.5,243.8 844.5,241.2 842.8,241.0 818.6,239.5 808.2,237.4ZM1174.5,392.6 1176.2,395.3 1182.2,405.2ZM1180.5,402.3 1182.2,405.2 1174.5,392.6ZM1176.2,395.3 1182.5,405.9 1188.5,416.4ZM1182.2,405.2 1188.5,416.4 1176.2,395.3ZM1182.5,405.9 1202.1,438.8 1208.1,452.1ZM1188.5,416.4 1208.1,452.1 1182.5,405.9ZM1202.1,438.8 1202.7,439.6 1209.6,447.5 1210.2,448.0 1217.1,452.6 1223.1,467.1 1216.2,462.2 1215.6,461.6 1208.7,452.9 1208.1,452.1Z"/>
<path fill="url(#s18)" stroke="url(#s18)" d="M796.2,229.2 806.6,230.8 830.8,230.9 832.5,231.0 833.1,231.0 847.5,232.8 848.1,232.9 865.3,236.8 870.5,238.2 871.1,238.4 899.9,246.5 912.6,250.5 913.2,250.7 934.5,258.6 947.2,263.7 949.5,264.6 969.1,273.0 988.1,281.3 996.7,285.2 1003.6,288.3 1038.2,304.0 1057.8,312.9 1064.1,315.9 1072.8,320.0 1101.6,334.2 1107.4,337.2 1113.7,340.6 1132.7,351.7 1139.1,356.0 1141.9,358.1 1143.1,358.9 1149.1,363.6 1148.0,362.7 1145.1,360.6 1138.7,356.4 1119.7,345.5 1113.4,342.1 1107.6,339.2 1078.8,325.1 1070.2,321.0 1063.8,318.1 1044.2,309.1 1009.7,293.5 1002.7,290.3 994.1,286.5 975.1,278.1 955.5,269.7 953.2,268.7 940.5,263.6 919.2,255.4 918.6,255.2 905.9,251.0 877.1,242.3 876.5,242.1 871.4,240.6 854.1,236.2 853.5,236.1 839.1,234.0 838.5,233.9 836.8,233.8 812.6,233.0 802.2,231.1ZM1149.1,363.6 1157.7,371.3 1160.6,374.3 1172.7,389.9 1174.5,392.6 1182.5,405.9 1176.5,399.1 1168.4,386.8 1166.7,384.3 1154.6,369.4 1151.7,366.5 1143.1,358.9ZM1176.5,399.1 1195.5,427.9 1201.5,438.0ZM1182.5,405.9 1201.5,438.0 1176.5,399.1ZM1195.5,427.9 1196.1,428.6 1203.0,435.8 1203.6,436.3 1211.1,441.1 1217.1,452.6 1209.6,447.5 1209.0,446.9 1202.1,438.8 1201.5,438.0Z"/>
<path fill="url(#s17)" stroke="url(#s17)" d="M796.2,229.2 806.6,230.8 807.1,230.8 801.1,231.1 800.6,231.0 790.2,229.7ZM801.1,231.1 824.8,230.5 830.8,230.9ZM807.1,230.8 830.8,230.9 801.1,231.1ZM824.8,230.5 827.1,230.5 833.1,231.0 830.8,230.9ZM827.1,230.5 841.5,231.9 847.5,232.8ZM833.1,231.0 847.5,232.8 827.1,230.5ZM847.5,232.8 848.1,232.9 842.0,232.0 841.5,231.9ZM842.0,232.0 859.3,235.6 865.3,236.8ZM848.1,232.9 865.3,236.8 842.0,232.0ZM865.3,236.8 870.5,238.2 871.1,238.4 865.1,237.0 864.5,236.8 859.3,235.6ZM865.1,237.0 893.9,244.5 899.9,246.5ZM871.1,238.4 899.9,246.5 865.1,237.0ZM893.9,244.5 905.4,247.9 906.6,248.3 912.6,250.5 911.4,250.1 899.9,246.5ZM906.6,248.3 928.5,256.2 934.5,258.6ZM912.6,250.5 934.5,258.6 906.6,248.3ZM928.5,256.2 937.1,259.5 941.2,261.1 947.2,263.7 943.1,262.0 934.5,258.6ZM941.2,261.1 963.1,270.4 969.1,273.0ZM947.2,263.7 969.1,273.0 941.2,261.1ZM963.1,270.4 967.7,272.4 973.7,275.0ZM969.1,273.0 973.7,275.0 963.1,270.4ZM967.7,272.4 982.1,278.7 988.1,281.3ZM973.7,275.0 988.1,281.3 967.7,272.4ZM988.1,281.3 1003.6,288.3 1038.2,304.0 1057.8,312.9 1072.8,320.0 1082.0,324.5 1101.6,334.2 1107.4,337.2 1122.9,345.8 1132.7,351.7 1137.3,354.8 1141.9,358.1 1143.1,358.9 1147.7,362.7 1151.7,366.5 1156.3,371.3 1164.4,381.1 1166.7,384.3 1176.5,399.1 1195.0,427.1 1195.5,427.9 1189.5,422.5 1188.9,421.8 1170.5,395.8 1160.7,381.8 1158.4,378.7 1150.3,369.1 1145.7,364.3 1141.7,360.6 1137.1,356.8 1135.9,356.0 1131.3,352.6 1126.7,349.5 1116.9,343.5 1101.4,334.8 1095.6,331.7 1076.0,321.9 1066.8,317.4 1051.8,310.3 1032.2,301.3 997.6,285.6 982.1,278.7ZM1189.5,422.5 1197.0,429.7 1203.0,435.8ZM1195.5,427.9 1203.0,435.8 1189.5,422.5ZM1197.0,429.7 1205.1,434.6 1211.1,441.1 1203.0,435.8Z"/>
<path fill="url(#s16)" stroke="url(#s16)" d="M790.2,229.7 801.1,231.1 802.9,231.1 796.8,231.3 795.1,231.2 784.2,230.0ZM824.8,230.5 818.7,231.1 796.8,231.3ZM796.8,231.3 824.8,230.5 802.9,231.1ZM824.8,230.5 827.1,230.5 828.8,230.6 841.5,231.9 842.0,232.0 859.3,235.6 864.5,236.8 865.7,237.1 893.9,244.5 905.4,247.9 928.5,256.2 937.1,259.5 951.5,265.4 963.1,270.4 967.7,272.4 997.6,285.6 1032.2,301.3 1059.9,314.1 1066.8,317.4 1076.0,321.9 1101.4,334.8 1107.7,338.2 1116.9,343.5 1125.0,348.4 1131.3,352.6 1135.9,356.0 1138.2,357.7 1141.7,360.6 1147.5,366.1 1150.3,369.1 1156.1,375.8 1158.4,378.7 1170.5,395.8 1187.8,420.5 1188.9,421.8 1195.9,428.8 1189.8,424.2 1182.9,418.0 1181.8,416.8 1164.5,394.2 1152.4,377.9 1150.1,375.1 1144.3,368.5 1141.4,365.5 1135.7,360.1 1132.2,357.2 1129.9,355.4 1125.3,352.1 1119.0,347.8 1110.9,342.8 1101.7,337.4 1095.3,333.9 1070.0,321.0 1060.8,316.4 1053.9,313.0 1026.2,300.3 991.6,284.6 961.7,271.4 957.0,269.4 945.5,264.4 931.1,258.6 922.5,255.3 899.4,247.3 887.9,244.1 859.7,237.3 858.5,237.0 853.3,235.9 836.0,232.6 835.5,232.5 822.8,231.2 821.0,231.1 818.7,231.1ZM1189.8,424.2 1191.0,425.1 1197.0,429.7ZM1195.9,428.8 1197.0,429.7 1189.8,424.2ZM1191.0,425.1 1199.1,429.7 1205.1,434.6 1197.0,429.7Z"/>
<path fill="url(#s15)" stroke="url(#s15)" d="M784.2,230.0 796.8,231.3 798.0,231.3 818.7,231.1 822.8,231.2 823.4,231.2 836.0,232.6 837.2,232.8 853.3,235.9 859.7,237.3 861.4,237.7 887.9,244.1 899.4,247.3 900.0,247.5 922.5,255.3 944.9,264.2 945.5,264.4 957.0,269.4 991.6,284.6 1026.2,300.3 1045.8,309.2 1053.9,313.0 1060.8,316.4 1095.3,333.9 1097.1,334.9 1101.7,337.4 1115.5,345.6 1119.0,347.8 1129.9,355.4 1130.5,355.9 1132.2,357.2 1139.7,363.8 1141.4,365.5 1148.4,373.0 1150.1,375.1 1164.5,394.2 1180.6,415.5 1181.8,416.8 1189.3,423.8 1189.8,424.2 1183.8,421.2 1183.3,420.8 1175.8,414.6 1174.6,413.4 1158.5,393.8 1144.1,375.5 1142.3,373.5 1135.4,366.1 1133.7,364.4 1126.2,357.8 1124.5,356.5 1123.9,356.0 1113.0,348.4 1109.5,346.1 1095.7,337.8 1091.1,335.2 1089.3,334.2 1054.8,316.5 1047.8,313.1 1039.8,309.3 1020.2,300.3 985.6,284.6 951.0,269.5 939.5,264.6 938.9,264.3 916.5,255.6 894.0,248.0 893.4,247.8 881.9,244.8 855.4,239.0 853.6,238.6 847.3,237.3 831.2,234.4 830.0,234.3 817.3,232.9 816.8,232.9 812.7,232.7 792.0,232.5 790.8,232.4 778.2,231.1ZM1183.8,421.2 1193.1,426.3 1199.1,429.7ZM1189.8,424.2 1199.1,429.7 1183.8,421.2Z"/>
<path fill="url(#s14)" stroke="url(#s14)" d="M778.2,231.1 792.0,232.5 812.7,232.7 817.3,232.9 831.2,234.4 834.1,234.9 847.3,237.3 855.4,239.0 876.1,243.4 881.9,244.8 894.0,248.0 895.1,248.3 916.5,255.6 938.4,264.1 938.9,264.3 951.0,269.5 985.6,284.6 1020.2,300.3 1036.3,307.6 1039.8,309.3 1054.8,316.5 1088.2,333.6 1089.3,334.2 1091.1,335.2 1106.6,344.3 1109.5,346.1 1122.2,354.8 1123.9,356.0 1124.5,356.5 1133.7,364.4 1140.0,370.9 1142.3,373.5 1158.5,393.8 1173.5,412.2 1174.6,413.4 1182.7,420.4 1183.3,420.8 1193.1,426.3 1187.0,425.1 1177.3,420.0 1176.7,419.7 1168.6,413.3 1167.5,412.2 1152.5,394.8 1136.3,375.1 1134.0,372.5 1127.7,366.0 1118.5,358.0 1117.9,357.5 1116.2,356.2 1103.5,347.4 1100.6,345.6 1085.1,336.3 1083.3,335.3 1082.2,334.7 1048.8,317.4 1033.8,310.1 1030.3,308.5 1014.2,301.2 979.6,285.5 945.0,270.4 932.9,265.3 932.3,265.0 910.4,256.7 889.1,249.6 888.0,249.3 875.9,246.3 870.1,245.1 849.4,241.0 841.3,239.5 828.0,237.3 825.2,236.9 811.3,235.4 806.7,235.2 786.0,234.2 772.1,232.7Z"/>
<path fill="url(#s13)" stroke="url(#s13)" d="M806.7,235.2 800.7,236.7 766.1,231.4ZM766.1,231.4 806.7,235.2 772.1,232.7ZM806.7,235.2 828.0,237.3 841.3,239.5 845.9,240.4 870.1,245.1 875.9,246.3 889.1,249.6 891.4,250.3 910.4,256.7 922.6,261.1 932.3,265.0 945.0,270.4 955.4,274.8 979.6,285.5 1014.2,301.2 1030.3,308.5 1038.4,312.3 1048.8,317.4 1082.2,334.7 1083.3,335.3 1085.1,336.3 1100.6,345.6 1102.9,347.1 1116.2,356.2 1117.3,357.1 1117.9,357.5 1134.0,372.5 1152.5,394.8 1167.5,412.2 1176.1,419.3 1176.7,419.7 1187.0,425.1 1181.0,425.5 1170.7,420.1 1170.1,419.7 1161.4,412.8 1146.5,396.1 1128.0,374.3 1111.9,359.6 1111.3,359.2 1110.2,358.3 1096.9,349.3 1094.6,347.9 1079.0,338.6 1077.3,337.7 1076.2,337.0 1042.7,319.8 1032.4,314.8 1024.3,311.2 1008.2,304.0 973.6,288.0 949.4,277.5 939.0,273.1 926.3,267.8 916.5,263.9 904.4,259.4 885.4,252.9 883.1,252.2 869.9,248.9 864.1,247.7 839.9,242.9 835.3,242.2 822.0,240.1 800.7,236.7Z"/>
<path fill="url(#s12)" stroke="url(#s12)" d="M800.7,236.7 794.7,239.1 760.1,229.7ZM760.1,229.7 800.7,236.7 766.1,231.4ZM800.7,236.7 824.3,240.6 835.3,242.2 839.9,242.9 841.1,243.1 869.9,248.9 885.4,252.9 886.0,253.1 904.4,259.4 916.5,263.9 939.0,273.1 949.4,277.5 966.7,284.9 973.6,288.0 1008.2,304.0 1009.3,304.5 1032.4,314.8 1042.7,319.8 1043.3,320.1 1077.3,337.7 1079.0,338.6 1084.2,341.6 1096.9,349.3 1111.3,359.2 1111.9,359.6 1112.5,360.1 1128.0,374.3 1128.6,374.9 1146.5,396.1 1160.9,412.3 1161.4,412.8 1170.1,419.7 1181.0,425.5 1175.0,426.0 1164.1,420.4 1155.4,413.8 1154.9,413.3 1140.5,397.8 1122.6,377.6 1122.0,377.0 1106.5,363.1 1105.9,362.7 1105.3,362.3 1090.9,352.6 1078.2,345.1 1073.0,342.1 1071.3,341.2 1037.3,323.7 1036.7,323.4 1026.4,318.7 1003.3,309.2 1002.2,308.6 967.6,291.7 960.7,288.6 943.4,281.7 933.0,277.5 910.5,268.5 898.4,263.9 880.0,257.1 879.4,257.0 863.9,253.0 835.0,247.1 833.9,246.9 829.3,246.5 818.3,245.5 794.7,239.1Z"/>
<path fill="url(#s11)" stroke="url(#s11)" d="M760.1,229.7 769.3,231.8 794.7,239.1 818.3,245.5 829.3,246.5 834.5,247.0 835.0,247.1 863.9,253.0 880.0,257.1 898.4,263.9 933.0,277.5 960.7,288.6 961.8,289.1 967.6,291.7 1002.2,308.6 1003.3,309.2 1003.9,309.4 1036.7,323.4 1037.3,323.7 1039.0,324.5 1070.7,340.9 1071.3,341.2 1078.2,345.1 1095.5,355.5 1105.9,362.7 1106.5,363.1 1116.8,371.8 1122.6,377.6 1140.5,397.8 1153.7,412.2 1154.9,413.3 1163.5,420.0 1164.1,420.4 1175.0,426.0 1169.0,426.8 1158.1,421.3 1157.5,421.0 1148.9,415.0 1147.7,414.1 1134.4,402.1 1116.6,384.3 1110.8,379.1 1100.4,370.7 1099.9,370.3 1089.5,362.7 1072.2,351.4 1065.3,347.2 1064.7,346.9 1033.0,329.5 1031.3,328.7 1030.7,328.4 997.9,315.7 997.3,315.5 996.1,314.9 961.6,296.6 955.8,293.9 954.7,293.5 927.0,283.3 892.4,269.8 874.0,262.4 857.8,258.3 829.0,252.3 828.5,252.2 823.3,252.2 812.3,252.2 788.7,243.0 763.3,232.5 754.1,229.7Z"/>
<path fill="url(#s10)" stroke="url(#s10)" d="M754.1,229.7 763.3,232.5 764.5,233.0 788.7,243.0 812.3,252.2 815.8,252.6 823.3,252.2 828.5,252.2 857.8,258.3 869.9,261.2 874.0,262.4 892.4,269.8 912.6,277.8 927.0,283.3 955.8,293.9 957.0,294.4 961.6,296.6 996.1,314.9 997.9,315.7 1014.0,322.1 1019.8,323.7 1030.7,328.4 1033.0,329.5 1035.9,330.9 1064.7,346.9 1065.3,347.2 1089.5,362.7 1094.1,366.1 1099.9,370.3 1110.8,379.1 1121.8,389.4 1134.4,402.1 1147.7,414.1 1155.2,419.6 1157.5,421.0 1169.0,426.8 1163.0,427.8 1151.5,422.2 1149.2,421.0 1141.7,416.7 1128.4,408.9 1115.8,402.0 1104.8,396.5 1093.9,391.3 1088.1,388.6 1083.5,384.9 1059.3,366.0 1058.7,365.6 1029.9,344.4 1027.0,342.6 1024.7,341.2 1013.8,335.5 1008.0,333.8 991.9,326.5 990.1,325.5 955.6,303.5 950.9,301.0 949.8,300.5 921.0,290.7 906.6,285.4 886.4,277.1 868.0,268.9 863.9,267.6 851.8,264.9 822.4,258.5 817.3,259.3 809.8,260.8 806.3,260.5 782.7,247.6 758.5,234.3 757.3,233.7 748.1,230.1Z"/>
<path fill="url(#s9)" stroke="url(#s9)" d="M748.1,230.1 758.5,234.3 760.8,235.5 782.7,247.6 791.9,252.3 806.3,260.5 806.9,260.7 809.8,260.8 817.3,259.3 822.4,258.5 851.8,264.9 863.9,267.6 868.0,268.9 886.4,277.1 904.8,284.7 906.6,285.4 921.0,290.7 950.4,300.8 950.9,301.0 955.6,303.5 986.7,323.4 990.1,325.5 991.9,326.5 999.4,330.2 1008.0,333.8 1013.8,335.5 1019.5,338.3 1024.7,341.2 1029.9,344.4 1053.5,361.6 1059.3,366.0 1071.4,375.3 1088.1,388.6 1093.9,391.3 1103.7,395.9 1115.8,402.0 1116.9,402.6 1127.9,408.6 1128.4,408.9 1148.6,420.7 1149.2,421.0 1163.0,427.8 1157.0,429.1 1143.2,422.2 1142.6,421.9 1122.4,408.5 1121.8,408.2 1110.9,402.3 1109.7,401.8 1097.6,398.4 1087.8,397.6 1082.1,397.7 1065.4,391.6 1053.3,386.6 1047.5,383.8 1023.9,370.1 1018.7,367.4 1013.5,364.8 1007.8,362.2 1002.0,361.2 993.3,357.3 985.9,352.8 984.1,351.6 980.7,348.9 949.5,321.2 944.9,317.8 944.4,317.4 915.0,304.3 900.6,297.8 898.8,297.0 880.4,287.6 862.0,277.5 857.9,276.0 845.8,273.1 816.4,266.1 811.2,267.7 803.8,270.6 800.9,270.6 800.3,270.4 785.9,259.3 776.7,253.2 754.8,238.2 752.5,236.7 742.1,231.6Z"/>
<path fill="url(#s8)" stroke="url(#s8)" d="M742.1,231.6 754.2,237.8 754.8,238.2 776.7,253.2 777.3,253.6 785.9,259.3 800.9,270.6 803.8,270.6 811.2,267.7 813.6,266.6 816.4,266.1 845.8,273.1 853.3,274.8 862.0,277.5 862.5,277.8 867.1,280.5 875.2,285.0 878.1,286.5 880.4,287.6 882.7,288.8 885.0,290.0 893.1,294.1 898.8,297.0 902.3,298.6 915.0,304.3 918.4,305.8 944.4,317.4 945.5,318.1 949.5,321.2 969.1,338.9 980.7,348.9 984.1,351.6 985.3,352.4 993.3,357.3 995.1,358.2 1002.6,361.4 1007.8,362.2 1013.5,364.8 1018.7,367.4 1012.7,367.8 1007.5,367.7 1001.7,367.9 996.6,370.4 989.1,371.1 987.3,371.1 979.3,369.8 978.1,369.4 974.7,367.9 963.1,361.2 943.5,346.7 939.5,344.2 938.4,343.6 912.4,334.9 909.0,333.4 896.3,326.9 892.8,324.9 887.1,321.2 879.0,332.2 876.7,333.6 874.4,333.4 872.1,331.1 869.2,325.6 861.1,302.0 856.5,297.8 855.9,297.4 847.3,293.0 839.8,290.1 810.4,278.7 807.5,279.4 805.2,280.8 797.7,284.8 794.9,284.7 779.9,269.0 771.2,261.1 770.7,260.6 748.8,242.2 748.2,241.7 736.1,234.4ZM1012.7,367.8 1019.6,368.6 1025.6,371.1ZM1018.7,367.4 1025.6,371.1 1012.7,367.8ZM1019.6,368.6 1041.5,374.7 1047.5,383.8ZM1025.6,371.1 1047.5,383.8 1019.6,368.6ZM1041.5,374.7 1047.3,376.2 1059.4,379.1 1076.1,384.1 1081.8,385.8 1083.6,386.4 1091.6,389.8 1099.1,394.2 1105.1,400.2 1097.6,398.4 1089.6,397.7 1087.8,397.6 1082.1,397.7 1065.4,391.6 1053.3,386.6 1047.5,383.8ZM1110.9,402.3 1104.9,398.3 1099.1,394.2ZM1099.1,394.2 1110.9,402.3 1105.1,400.2ZM1121.8,408.2 1115.8,407.3 1104.9,398.3ZM1104.9,398.3 1121.8,408.2 1110.9,402.3ZM1121.8,408.2 1122.4,408.5 1138.0,419.1 1142.6,421.9 1157.0,429.1 1151.0,430.7 1136.6,423.5 1132.0,420.4 1116.4,407.8 1115.8,407.3Z"/>
<path fill="url(#s7)" stroke="url(#s7)" d="M736.1,234.4 745.9,240.0 748.2,241.7 760.9,252.3 770.7,260.6 771.2,261.1 775.3,264.6 794.9,284.7 797.7,284.8 803.5,281.8 805.2,280.8 807.5,279.4 810.4,278.7 812.7,279.6 815.6,280.9 818.5,282.1 823.1,284.0 839.8,290.1 847.3,293.0 850.8,294.6 856.5,297.8 858.8,299.7 861.1,302.0 862.3,305.6 869.2,325.6 872.1,331.1 872.7,331.9 874.4,333.4 875.0,333.6 876.7,333.6 877.3,333.4 879.0,332.2 881.3,329.5 887.1,321.2 892.3,324.6 896.3,326.9 903.8,330.8 909.0,333.4 912.4,334.9 914.2,335.7 939.5,344.2 943.5,346.7 940.5,347.5 936.5,345.9 911.1,344.4 909.4,344.1 906.0,343.4 900.8,342.1 893.3,339.8 889.2,338.2 884.1,349.2 878.3,362.7 876.0,365.7 874.3,366.0 873.7,365.6 872.0,363.2 871.4,362.0 869.7,357.3 869.1,355.4 866.2,345.2 859.3,319.6 858.1,317.6 855.8,315.5 853.5,313.5 847.8,310.2 844.3,308.6 836.8,305.4 820.1,298.0 815.5,301.9 812.6,302.9 809.7,301.9 807.4,299.7 804.5,297.4 802.2,295.7 800.5,294.3 794.7,297.4 791.9,297.1 772.3,272.2 768.2,267.6 767.7,266.9 757.9,256.6 745.2,244.3 742.9,242.4 733.1,236.3ZM940.5,347.5 960.1,358.9 963.1,361.2ZM943.5,346.7 963.1,361.2 940.5,347.5ZM960.1,358.9 964.7,361.2 975.1,365.5 976.3,365.8 977.4,366.0 983.2,366.4 986.1,366.1 990.1,365.4 993.6,364.7 994.1,364.4 998.2,361.7 998.7,361.6 1001.0,361.3 1009.7,361.2 1016.6,362.2 1017.8,362.4 1044.3,372.3 1066.2,379.8 1069.2,381.8 1047.3,376.2 1020.8,368.8 1019.6,368.6 1012.7,367.8 1004.0,367.8 1001.7,367.9 1001.2,368.0 997.1,370.2 996.6,370.4 993.1,370.8 989.1,371.1 986.2,371.1 980.4,370.1 979.3,369.8 978.1,369.4 967.7,364.0 963.1,361.2ZM1081.8,385.8 1078.8,385.1 1066.2,379.8ZM1066.2,379.8 1081.8,385.8 1069.2,381.8ZM1081.8,385.8 1083.6,386.4 1088.2,388.2 1099.1,394.2 1102.6,396.6 1116.4,407.8 1132.0,420.4 1151.0,430.7 1148.0,431.7 1129.0,421.5 1113.4,409.0 1099.6,397.5 1096.1,395.0 1085.2,388.2 1080.6,385.9 1078.8,385.1Z"/>
<path fill="url(#s6)" stroke="url(#s6)" d="M733.1,236.3 742.3,241.9 742.9,242.4 754.4,253.0 757.9,256.6 767.7,266.9 768.2,267.6 772.3,272.2 790.7,296.2 791.9,297.1 794.2,297.6 794.7,297.4 800.5,294.3 802.2,295.7 809.7,301.9 810.3,302.2 812.6,302.9 813.2,302.9 815.5,301.9 817.8,300.1 820.1,298.0 826.4,301.3 836.8,305.4 847.8,310.2 851.8,312.3 855.8,315.5 859.3,319.6 860.4,323.8 866.2,345.2 869.7,357.3 871.4,362.0 872.0,363.2 874.3,366.0 876.0,365.7 877.1,364.5 878.3,362.7 880.0,359.1 887.5,341.0 889.2,338.2 886.2,354.8 884.5,360.7 877.0,390.6 875.3,395.2 874.1,396.1 873.0,395.0 871.3,389.9 869.0,379.4 868.4,376.5 866.7,367.9 863.2,352.0 857.4,330.2 856.3,329.4 852.8,326.6 848.8,324.1 844.8,322.7 833.8,319.7 823.4,316.8 817.1,327.2 814.8,330.2 812.5,331.9 810.2,331.6 809.6,331.2 807.3,328.2 806.7,327.2 799.2,313.9 797.5,311.3 791.7,314.7 791.2,314.9 788.9,314.4 787.7,313.3 769.3,284.1 765.2,277.8 764.7,276.9 754.9,263.0 751.4,258.4 739.9,245.0 739.3,244.4 730.1,238.4ZM886.2,354.8 890.3,342.9 893.3,339.8ZM889.2,338.2 893.3,339.8 886.2,354.8ZM893.3,339.8 900.8,342.1 906.0,343.4 903.0,343.4 897.8,343.3 890.3,342.9ZM903.0,343.4 908.1,343.2 911.1,344.4ZM906.0,343.4 911.1,344.4 903.0,343.4ZM908.1,343.2 909.3,343.2 932.3,340.0 933.5,340.2 937.5,341.7 939.8,342.9 957.1,353.8 961.7,356.4 972.1,361.6 973.3,362.0 974.4,362.4 979.6,363.1 980.2,363.1 986.5,362.5 987.1,362.4 991.1,361.6 995.2,358.7 995.7,358.6 998.0,358.4 1006.7,358.9 1010.1,359.5 1014.7,360.8 1018.2,362.1 1021.2,363.4 1017.8,362.4 1013.1,361.6 1009.7,361.2 1001.0,361.3 998.7,361.6 998.2,361.7 994.1,364.4 990.1,365.4 989.5,365.6 983.2,366.4 982.6,366.4 977.4,366.0 976.3,365.8 975.1,365.5 964.7,361.2 960.1,358.9 942.8,348.7 940.5,347.5 936.5,345.9 935.3,345.6 912.3,344.6 911.1,344.4ZM1041.4,371.3 1038.4,372.0 1018.2,362.1ZM1018.2,362.1 1041.4,371.3 1021.2,363.4ZM1041.4,371.3 1044.3,372.3 1066.2,379.8 1070.2,381.4 1078.8,385.1 1085.2,388.2 1092.7,392.6 1099.6,397.5 1113.4,409.0 1128.4,421.1 1129.0,421.5 1148.0,431.7 1145.0,432.9 1126.0,422.7 1125.4,422.4 1110.4,410.6 1096.6,399.5 1089.7,394.8 1082.2,390.4 1075.8,387.2 1067.2,383.3 1063.2,381.6 1041.3,373.2 1038.4,372.0Z"/>
<path fill="url(#s5)" stroke="url(#s5)" d="M730.1,238.4 739.3,244.4 746.2,251.9 751.4,258.4 761.2,271.9 764.7,276.9 765.2,277.8 773.9,292.0 787.7,313.3 789.4,314.8 791.2,314.9 797.5,311.3 798.7,313.1 799.2,313.9 803.3,320.1 807.3,328.2 809.6,331.2 810.2,331.6 812.5,331.9 814.8,330.2 817.1,327.2 823.4,316.8 820.4,338.6 814.1,355.1 811.8,358.4 809.5,358.2 807.2,354.5 806.6,353.1 804.3,346.3 800.3,333.5 796.2,326.0 795.6,325.1 794.5,325.4 788.2,331.2 786.4,331.3 784.7,330.0 770.9,307.8 762.2,290.2 761.7,289.1 758.2,282.7 748.4,265.4 743.2,257.0 736.3,247.0 727.1,240.6ZM820.4,338.6 825.6,325.3 828.6,318.3ZM823.4,316.8 828.6,318.3 820.4,338.6ZM828.6,318.3 833.8,319.7 848.8,324.1 857.4,330.2 854.4,330.7 845.8,326.0 830.8,325.3 825.6,325.3ZM854.4,330.7 856.7,331.9 859.7,338.1ZM857.4,330.2 859.7,338.1 854.4,330.7ZM859.7,338.1 863.2,352.0 864.3,357.1 868.4,376.5 871.3,389.9 874.1,396.1 875.3,395.2 877.0,390.6 874.0,431.3 872.3,423.8 871.1,413.4 868.3,388.3 865.4,369.0 861.3,348.9 860.2,344.2 856.7,331.9ZM874.0,431.3 881.5,378.3 884.5,360.7ZM877.0,390.6 884.5,360.7 874.0,431.3ZM881.5,378.3 882.1,375.0 885.1,358.7ZM884.5,360.7 885.1,358.7 881.5,378.3ZM882.1,375.0 886.1,356.0 889.1,346.0ZM885.1,358.7 889.1,346.0 882.1,375.0ZM886.1,356.0 887.3,351.6 890.3,342.9ZM889.1,346.0 890.3,342.9 886.1,356.0ZM887.3,351.6 890.7,339.9 893.7,343.1ZM890.3,342.9 893.7,343.1 887.3,351.6ZM890.7,339.9 891.3,339.2 900.0,338.9 906.3,338.5 906.9,338.4 927.6,335.2 929.3,335.4 931.1,335.9 934.5,337.6 935.7,338.3 936.8,339.1 939.8,342.9 938.7,342.3 937.5,341.7 934.1,340.4 932.3,340.0 930.6,340.0 909.9,343.1 909.3,343.2 903.0,343.4 894.3,343.2 893.7,343.1ZM957.1,353.8 954.1,352.9 936.8,339.1ZM936.8,339.1 957.1,353.8 939.8,342.9ZM957.1,353.8 964.0,357.7 972.1,361.6 973.3,362.0 973.8,362.2 979.6,363.1 980.2,363.1 986.5,362.5 987.1,362.4 990.5,361.8 991.1,361.6 988.1,363.8 987.5,364.1 984.1,364.7 983.5,364.8 977.2,365.0 976.6,365.0 970.8,363.7 970.3,363.4 969.1,362.9 961.0,357.9 954.1,352.9ZM988.1,363.8 992.7,360.6 995.7,358.6ZM991.1,361.6 995.7,358.6 988.1,363.8ZM995.7,358.6 996.3,358.5 1006.7,358.9 1010.1,359.5 1010.7,359.7 1018.2,362.1 1018.8,362.3 1038.4,372.0 1040.1,372.7 1041.3,373.2 1067.2,383.3 1075.8,387.2 1078.1,388.3 1089.7,394.8 1096.0,399.1 1110.4,410.6 1125.4,422.4 1127.7,423.9 1145.0,432.9 1142.0,434.2 1124.7,425.2 1122.4,423.7 1107.4,412.5 1093.0,401.6 1086.7,397.6 1075.1,391.5 1072.8,390.5 1064.2,386.7 1038.2,376.8 1037.1,376.3 1035.4,375.6 1015.8,365.1 1015.2,364.8 1007.7,362.1 1007.1,361.9 1003.7,361.2 993.3,360.5 992.7,360.6Z"/>
<path fill="url(#s4)" stroke="url(#s4)" d="M727.1,240.6 736.3,247.0 743.2,257.0 749.5,267.4 758.2,282.7 761.7,289.1 770.9,307.8 784.7,330.0 786.4,331.3 788.2,331.2 788.7,330.9 785.7,338.4 785.2,339.0 783.4,339.7 781.7,338.6 767.9,317.2 758.6,297.9 755.2,291.0 746.5,274.0 740.2,262.0 733.3,249.9 724.1,242.8ZM785.7,338.4 792.6,328.8 795.6,325.1ZM788.7,330.9 795.6,325.1 785.7,338.4ZM792.6,328.8 793.2,327.9 796.2,326.0ZM795.6,325.1 796.2,326.0 792.6,328.8ZM793.2,327.9 793.8,327.0 796.8,326.8ZM796.2,326.0 796.8,326.8 793.2,327.9ZM796.8,326.8 798.5,329.8 800.3,333.5 802.0,338.6 806.6,353.1 809.5,358.2 810.1,358.6 811.8,358.4 812.9,357.1 814.1,355.1 815.8,351.2 824.5,327.4 821.5,340.2 812.8,376.5 811.1,380.5 809.9,380.8 808.8,379.1 807.0,373.4 806.5,371.1 803.6,357.7 799.0,337.8 797.3,332.4 795.5,328.9 793.8,327.0ZM821.5,340.2 822.6,335.9 825.6,325.3ZM824.5,327.4 825.6,325.3 821.5,340.2ZM822.6,335.9 826.6,322.6 829.6,325.2ZM825.6,325.3 829.6,325.2 822.6,335.9ZM826.6,322.6 827.8,322.5 842.8,321.8 843.4,321.9 853.7,328.0 856.7,331.9 846.4,326.1 845.8,326.0 830.8,325.3 829.6,325.2ZM853.7,328.0 856.6,329.2 859.6,341.9ZM856.7,331.9 859.6,341.9 853.7,328.0ZM856.6,329.2 858.3,335.4 861.3,348.9 859.6,341.9ZM858.3,335.4 861.8,349.9 864.8,365.8ZM861.3,348.9 864.8,365.8 858.3,335.4ZM861.8,349.9 862.4,352.6 865.4,369.0ZM864.8,365.8 865.4,369.0 861.8,349.9ZM862.4,352.6 865.8,372.6 868.8,392.9ZM865.4,369.0 868.8,392.9 862.4,352.6ZM868.8,392.9 871.7,418.8 872.3,423.8 869.3,403.3 868.7,396.9 865.8,372.6ZM874.0,431.3 871.0,428.5 869.3,403.3ZM869.3,403.3 874.0,431.3 872.3,423.8ZM876.9,412.7 873.9,641.5 871.0,428.5ZM871.0,428.5 876.9,412.7 874.0,431.3ZM873.9,641.5 876.8,429.9 879.8,389.3ZM876.9,412.7 879.8,389.3 873.9,641.5ZM876.8,429.9 879.1,399.7 882.1,375.0ZM879.8,389.3 882.1,375.0 876.8,429.9ZM879.1,399.7 882.0,377.1 885.0,360.9ZM882.1,375.0 885.0,360.9 879.1,399.7ZM882.0,377.1 883.1,370.2 886.1,356.0ZM885.0,360.9 886.1,356.0 882.0,377.1ZM883.1,370.2 886.0,356.2 889.0,345.4ZM886.1,356.0 889.0,345.4 883.1,370.2ZM886.0,356.2 887.7,349.2 890.7,339.9ZM889.0,345.4 890.7,339.9 886.0,356.2ZM887.7,349.2 888.3,347.1 891.3,339.2ZM890.7,339.9 891.3,339.2 887.7,349.2ZM888.3,347.1 891.2,337.6 894.2,339.1ZM891.3,339.2 894.2,339.1 888.3,347.1ZM891.2,337.6 896.9,337.9 903.9,337.8 904.4,337.8 907.4,338.3 906.9,338.4 900.0,338.9 894.2,339.1ZM926.5,335.3 923.5,335.7 904.4,337.8ZM904.4,337.8 926.5,335.3 907.4,338.3ZM926.5,335.3 927.6,335.2 930.5,335.7 931.1,335.9 934.5,337.6 935.7,338.3 941.4,342.3 961.0,357.9 963.3,359.5 969.1,362.9 970.8,363.7 973.7,364.6 977.2,365.0 979.5,365.1 984.1,364.7 987.0,364.2 987.5,364.1 992.2,360.7 993.3,360.5 994.5,360.5 1003.7,361.2 1007.7,362.1 1012.3,363.6 1015.8,365.1 1036.5,376.1 1037.1,376.3 1038.2,376.8 1064.8,387.0 1072.8,390.5 1075.1,391.5 1085.5,396.9 1093.0,401.6 1096.5,404.1 1107.4,412.5 1124.1,424.9 1124.7,425.2 1142.0,434.2 1139.0,435.6 1121.7,426.7 1121.1,426.4 1104.4,414.6 1093.4,406.7 1090.0,404.4 1082.5,400.1 1072.1,395.3 1069.8,394.4 1061.8,391.2 1035.2,381.8 1034.1,381.3 1033.5,381.0 1012.8,369.7 1009.3,368.2 1004.7,366.7 1000.7,365.9 991.4,365.5 990.3,365.6 989.1,365.8 984.5,369.8 984.0,370.0 981.1,370.6 976.5,371.2 974.2,371.1 970.7,370.6 967.8,369.6 966.1,368.8 960.3,364.8 958.0,363.0 938.4,344.6 932.7,339.7 931.5,338.8 928.1,336.7 927.5,336.4 924.6,335.7 923.5,335.7Z"/>
<path fill="url(#s3)" stroke="url(#s3)" d="M724.1,242.8 733.3,249.9 746.5,274.0 758.6,297.9 767.9,317.2 781.7,338.6 783.4,339.7 780.4,340.5 778.7,339.5 764.9,317.2 755.6,299.7 743.5,277.2 730.3,252.8 721.1,245.1ZM780.4,340.5 782.7,338.8 790.2,326.0 790.8,324.9 793.8,327.0 793.2,327.9 785.7,338.4 783.4,339.7ZM790.8,324.9 792.5,321.6 795.5,328.9ZM793.8,327.0 795.5,328.9 790.8,324.9ZM792.5,321.6 793.1,320.7 793.7,321.2 796.0,327.3 799.0,337.8 796.7,331.1 796.1,329.9 795.5,328.9ZM799.0,337.8 800.1,342.4 804.7,363.2 807.0,373.4 809.9,380.8 811.1,380.5 811.7,379.6 812.8,376.5 813.4,374.5 810.4,414.3 809.8,413.6 808.7,407.0 808.1,402.1 806.9,391.6 804.0,368.2 801.7,353.6 797.1,331.6 796.0,327.3ZM810.4,414.3 817.9,360.2 820.9,342.5ZM813.4,374.5 820.9,342.5 810.4,414.3ZM817.9,360.2 818.5,356.7 821.5,340.2ZM820.9,342.5 821.5,340.2 817.9,360.2ZM818.5,356.7 823.6,332.2 826.6,322.6ZM821.5,340.2 826.6,322.6 818.5,356.7ZM823.6,332.2 824.2,330.0 827.2,322.6ZM826.6,322.6 827.2,322.6 823.6,332.2ZM824.2,330.0 824.8,327.9 827.8,322.5ZM827.2,322.6 827.8,322.5 824.2,330.0ZM824.8,327.9 827.7,319.7 830.7,322.2ZM827.8,322.5 830.7,322.2 824.8,327.9ZM827.7,319.7 835.7,319.6 840.3,320.4 843.4,321.9 838.7,321.6 830.7,322.2ZM845.1,322.6 842.1,321.2 840.3,320.4ZM840.3,320.4 845.1,322.6 843.4,321.9ZM845.1,322.6 856.6,329.2 853.6,329.9 842.1,321.2ZM853.6,329.9 857.1,332.4 860.1,342.2ZM856.6,329.2 860.1,342.2 853.6,329.9ZM860.1,342.2 861.8,349.9 862.4,352.6 859.4,341.0 858.8,338.8 857.1,332.4ZM859.4,341.0 862.8,356.4 865.8,372.6ZM862.4,352.6 865.8,372.6 859.4,341.0ZM862.8,356.4 865.1,368.9 868.1,391.1ZM865.8,372.6 868.1,391.1 862.8,356.4ZM865.1,368.9 865.7,372.4 868.7,396.9ZM868.1,391.1 868.7,396.9 865.1,368.9ZM865.7,372.4 868.0,388.3 871.0,428.5ZM868.7,396.9 871.0,428.5 865.7,372.4ZM868.0,388.3 870.9,413.1 873.9,641.5ZM871.0,428.5 873.9,641.5 868.0,388.3ZM876.8,429.9 873.8,433.3 870.9,413.1ZM870.9,413.1 876.8,429.9 873.9,641.5ZM878.5,405.7 875.5,426.8 873.8,433.3ZM873.8,433.3 878.5,405.7 876.8,429.9ZM875.5,426.8 876.1,422.2 879.0,398.1 882.0,377.1 879.1,399.7 878.5,405.7ZM879.0,398.1 883.0,372.8 886.0,356.2ZM882.0,377.1 886.0,356.2 879.0,398.1ZM886.0,356.2 890.0,341.2 891.2,337.6 888.2,351.1 887.0,355.2 883.0,372.8ZM888.2,351.1 891.1,342.5 894.1,337.8ZM891.2,337.6 894.1,337.8 888.2,351.1ZM894.1,337.8 896.9,337.9 904.4,337.8 905.6,337.7 923.5,335.7 924.0,335.7 927.5,336.4 931.5,338.8 932.1,339.3 938.4,344.6 951.1,357.1 960.3,364.8 961.5,365.7 966.1,368.8 967.8,369.6 970.7,370.6 973.6,371.1 976.5,371.2 980.5,370.7 984.0,370.0 985.1,369.5 989.1,365.8 991.4,365.5 992.0,365.5 1000.1,365.8 1000.7,365.9 1008.2,367.8 1009.3,368.2 1033.5,381.0 1034.1,381.3 1035.2,381.8 1061.8,391.2 1069.8,394.4 1082.5,400.1 1084.8,401.4 1093.4,406.7 1095.2,407.9 1104.4,414.6 1121.1,426.4 1122.3,427.1 1139.0,435.6 1136.0,437.1 1119.3,428.6 1118.1,428.0 1101.4,416.9 1092.2,410.7 1090.4,409.6 1081.8,404.9 1079.5,403.8 1066.8,398.9 1058.7,396.0 1032.2,387.7 1031.1,387.2 1030.5,387.0 1006.3,374.1 1005.2,373.7 997.7,372.0 997.1,372.0 989.0,372.2 988.4,372.2 986.1,372.7 982.1,377.3 981.0,377.9 977.5,378.9 973.5,379.7 970.6,379.8 967.7,379.3 964.8,378.3 963.1,377.4 958.5,374.2 957.3,373.2 948.1,364.7 935.4,350.7 929.1,344.7 928.5,344.2 924.5,341.5 921.0,340.7 920.4,340.7 902.6,342.8 901.4,342.9 893.9,342.7 891.1,342.5Z"/>
<path fill="url(#s2)" stroke="url(#s2)" d="M721.1,245.1 730.3,252.8 755.6,299.7 760.2,308.3 764.9,317.2 778.7,339.5 779.3,340.1 780.4,340.5 781.0,340.4 778.0,342.9 777.4,343.0 776.3,342.4 775.7,341.7 761.9,315.0 757.2,306.5 752.6,298.6 727.3,256.1 718.1,247.5ZM778.0,342.9 779.7,341.2 787.2,326.8 790.1,320.9 793.1,320.7 790.2,326.0 782.7,338.8 781.0,340.4ZM790.1,320.9 790.7,320.0 793.7,321.2ZM793.1,320.7 793.7,321.2 790.1,320.9ZM790.7,320.0 791.2,319.3 794.2,322.3ZM793.7,321.2 794.2,322.3 790.7,320.0ZM791.2,319.3 793.0,318.4 796.0,327.3ZM794.2,322.3 796.0,327.3 791.2,319.3ZM796.0,327.3 797.1,331.6 801.7,353.6 805.2,376.8 808.7,407.0 809.8,413.6 806.8,406.7 805.6,391.3 802.2,361.1 798.7,341.6 794.1,322.4 793.0,318.4ZM810.4,414.3 807.4,416.4 806.8,406.7ZM806.8,406.7 810.4,414.3 809.8,413.6ZM811.0,413.0 808.0,428.3 807.4,416.4ZM807.4,416.4 811.0,413.0 810.4,414.3ZM813.3,395.5 810.3,570.1 808.0,428.3ZM808.0,428.3 813.3,395.5 811.0,413.0ZM810.3,570.1 812.6,429.2 815.6,376.0ZM813.3,395.5 815.6,376.0 810.3,570.1ZM812.6,429.2 813.7,408.0 816.7,367.7ZM815.6,376.0 816.7,367.7 812.6,429.2ZM813.7,408.0 814.9,392.9 817.9,360.2ZM816.7,367.7 817.9,360.2 813.7,408.0ZM814.9,392.9 818.9,359.7 821.9,339.3ZM817.9,360.2 821.9,339.3 814.9,392.9ZM821.9,339.3 824.2,330.0 824.8,327.9 825.9,324.0 827.7,319.7 824.7,333.0 822.9,339.7 821.8,344.6 821.2,347.3 818.9,359.7ZM824.7,333.0 827.5,323.6 830.6,319.5ZM827.7,319.7 830.6,319.5 824.7,333.0ZM830.6,319.5 835.7,319.6 840.9,320.6 842.1,321.2 850.1,327.9 857.1,332.4 859.4,341.0 856.4,341.0 854.1,339.5 847.1,334.8 839.1,326.5 837.9,325.7 832.7,324.1 827.5,323.6ZM856.4,341.0 857.5,341.7 860.5,345.8ZM859.4,341.0 860.5,345.8 856.4,341.0ZM860.5,345.8 865.1,368.9 865.7,372.4 862.7,361.6 862.1,359.2 857.5,341.7ZM862.7,361.6 870.8,399.7 873.8,433.3ZM865.7,372.4 873.8,433.3 862.7,361.6ZM870.8,399.7 872.5,405.6 873.6,407.5 874.8,407.4 877.8,407.3 876.7,417.3 875.5,426.8 873.8,433.3ZM879.5,393.8 876.5,403.5 874.8,407.4ZM874.8,407.4 879.5,393.8 877.8,407.3ZM883.0,372.8 880.0,389.3 876.5,403.5ZM876.5,403.5 883.0,372.8 879.5,393.8ZM883.0,372.8 887.0,355.2 887.6,353.1 891.1,342.5 893.4,342.7 893.9,342.7 902.6,342.8 903.2,342.8 921.0,340.7 922.2,340.7 924.5,341.5 925.1,341.8 928.5,344.2 929.1,344.7 948.1,364.7 953.9,370.1 958.5,374.2 960.2,375.5 963.1,377.4 964.8,378.3 965.4,378.6 970.6,379.8 971.2,379.8 977.5,378.9 978.1,378.8 981.5,377.7 982.1,377.3 985.6,373.2 986.1,372.7 988.4,372.2 989.0,372.2 996.5,371.9 997.1,372.0 997.7,372.0 1004.6,373.5 1005.2,373.7 1031.1,387.2 1032.2,387.7 1058.7,396.0 1066.8,398.9 1070.8,400.3 1081.8,404.9 1084.7,406.4 1092.2,410.7 1101.4,416.9 1119.3,428.6 1121.0,429.6 1136.0,437.1 1133.0,438.6 1118.0,431.3 1116.2,430.4 1098.4,419.6 1089.2,414.1 1081.7,410.5 1078.8,409.3 1067.8,405.6 1063.8,404.4 1055.7,402.1 1029.2,395.1 1028.1,394.7 1002.2,381.1 1001.6,380.9 994.7,379.8 994.1,379.8 993.5,379.8 986.0,380.6 985.4,380.8 983.1,381.5 982.6,382.1 979.1,387.2 978.5,387.7 975.1,389.3 974.5,389.5 968.2,390.9 967.6,391.0 962.4,390.0 961.8,389.8 960.1,388.8 957.2,386.8 955.5,385.3 950.9,380.9 945.1,374.9 926.1,352.9 925.5,352.3 922.1,349.7 921.5,349.4 919.2,348.7 918.0,348.7 900.2,352.0 899.6,352.1 890.9,352.3 890.4,352.3 888.1,358.5 884.6,370.2 884.0,372.4 880.0,389.3Z"/>
<path fill="url(#s1)" stroke="url(#s1)" d="M718.1,247.5 727.3,256.1 730.2,260.8 752.6,298.6 757.2,306.5 763.0,316.9 776.3,342.4 776.8,342.8 778.0,342.9 778.6,342.5 779.7,341.2 780.3,340.3 787.2,326.8 791.2,319.3 793.0,318.4 794.1,322.4 791.1,326.7 790.0,326.2 788.2,327.1 784.2,335.7 777.3,351.1 776.7,352.1 775.6,353.6 775.0,354.0 773.8,353.7 773.3,353.1 760.0,320.8 754.2,309.0 749.6,300.6 727.2,264.1 724.3,260.0 715.1,250.0ZM791.1,326.7 793.4,328.5 796.4,331.2ZM794.1,322.4 796.4,331.2 791.1,326.7ZM796.4,331.2 798.7,341.6 802.2,361.1 799.2,352.0 795.7,337.1 793.4,328.5ZM799.2,352.0 802.1,367.5 805.1,385.0ZM802.2,361.1 805.1,385.0 799.2,352.0ZM802.1,367.5 803.8,378.9 806.8,406.7ZM805.1,385.0 806.8,406.7 802.1,367.5ZM803.8,378.9 805.0,387.6 808.0,428.3ZM806.8,406.7 808.0,428.3 803.8,378.9ZM805.0,387.6 807.3,408.0 810.3,570.1ZM808.0,428.3 810.3,570.1 805.0,387.6ZM812.6,429.2 809.6,426.4 807.3,408.0ZM807.3,408.0 812.6,429.2 810.3,570.1ZM813.1,417.6 810.1,427.9 809.6,426.4ZM809.6,426.4 813.1,417.6 812.6,429.2ZM813.7,408.0 810.7,427.3 810.1,427.9ZM810.1,427.9 813.7,408.0 813.1,417.6ZM814.9,392.9 811.9,420.8 810.7,427.3ZM810.7,427.3 814.9,392.9 813.7,408.0ZM814.9,392.9 818.9,359.7 821.8,344.6 822.9,339.7 825.8,329.0 827.5,323.6 830.4,323.8 837.9,325.7 847.1,334.8 856.4,341.0 857.5,341.7 861.5,356.8 862.7,361.6 870.8,399.7 867.8,389.4 859.7,361.6 858.5,358.6 854.5,355.8 853.4,354.9 844.1,347.8 834.9,337.0 827.4,334.8 824.5,343.4 822.8,349.8 819.9,362.3 818.8,368.2 815.9,386.5 811.9,420.8ZM867.8,389.4 869.5,394.7 872.5,405.6ZM870.8,399.7 872.5,405.6 867.8,389.4ZM869.5,394.7 870.6,397.8 871.8,400.2 874.8,407.4 873.6,407.5 872.5,405.6ZM876.5,403.5 873.5,402.1 871.8,400.2ZM871.8,400.2 876.5,403.5 874.8,407.4ZM878.8,394.4 875.8,401.2 873.5,402.1ZM873.5,402.1 878.8,394.4 876.5,403.5ZM881.1,384.2 878.1,396.9 875.8,401.2ZM875.8,401.2 881.1,384.2 878.8,394.4ZM881.1,384.2 884.6,370.2 890.4,352.3 890.9,352.3 892.1,352.3 900.2,352.0 919.2,348.7 919.7,348.8 922.1,349.7 923.2,350.4 925.5,352.3 926.1,352.9 927.8,354.6 944.0,373.7 950.9,380.9 953.2,383.2 957.2,386.8 958.4,387.7 960.1,388.8 962.4,390.0 968.2,390.9 975.1,389.3 978.5,387.7 982.6,382.1 985.4,380.8 993.5,379.8 994.7,379.8 1001.0,380.7 1001.6,380.9 1007.3,383.2 1021.7,391.8 1029.2,395.1 1029.8,395.3 1063.8,404.4 1067.8,405.6 1073.0,407.2 1081.7,410.5 1085.7,412.3 1098.4,419.6 1118.0,431.3 1133.0,438.6 1130.0,440.3 1115.0,433.1 1095.4,422.9 1082.7,417.1 1078.7,415.8 1070.0,413.5 1064.8,412.5 1060.8,411.8 1026.8,405.2 1026.2,405.0 1018.7,401.9 1004.3,393.1 998.6,390.9 998.0,390.8 991.7,390.3 990.5,390.4 982.4,392.3 979.6,394.2 975.5,401.3 972.1,403.5 965.1,406.2 959.4,405.6 957.1,404.4 955.4,403.1 954.2,402.2 950.2,398.2 947.9,395.6 940.9,387.6 924.8,366.2 923.1,364.2 922.5,363.6 920.2,361.6 919.0,360.8 916.7,359.9 916.2,359.8 897.2,365.4 889.1,366.4 887.9,368.9 887.4,370.5 881.6,387.3 878.1,396.9Z"/>
<path fill="url(#s0)" stroke="url(#s0)" d="M715.1,250.0 727.2,264.1 732.3,271.9 749.6,300.6 759.4,319.5 760.0,320.8 773.8,353.7 775.6,353.6 777.3,351.1 784.2,335.7 788.2,327.1 790.0,326.2 793.4,328.5 796.9,341.7 802.1,367.5 802.6,371.1 799.6,368.6 799.1,366.2 793.9,347.1 790.4,345.1 787.0,343.1 785.2,344.1 781.2,354.9 774.3,374.0 772.6,377.1 770.8,377.1 757.0,335.1 756.4,333.5 746.6,310.4 729.3,277.4 724.2,269.2 712.0,252.9ZM799.6,368.6 807.1,403.5 810.1,427.9ZM802.6,371.1 810.1,427.9 799.6,368.6ZM807.1,403.5 808.9,408.9 811.9,420.8 810.1,427.9ZM813.0,410.9 810.0,410.3 808.9,408.9ZM808.9,408.9 813.0,410.9 811.9,420.8ZM814.2,400.5 811.2,409.6 810.0,410.3ZM810.0,410.3 814.2,400.5 813.0,410.9ZM815.9,386.5 812.9,405.1 811.2,409.6ZM811.2,409.6 815.9,386.5 814.2,400.5ZM818.8,368.2 815.8,393.0 812.9,405.1ZM812.9,405.1 818.8,368.2 815.9,386.5ZM818.8,368.2 822.8,349.8 824.0,345.4 827.4,334.8 829.7,335.2 834.9,337.0 844.1,347.8 844.7,348.3 853.4,354.9 858.5,358.6 863.7,375.5 869.5,394.7 871.8,400.2 873.5,402.1 875.8,401.2 878.1,396.9 878.7,395.5 881.6,387.3 887.9,368.9 889.1,366.4 889.7,366.4 897.2,365.4 897.7,365.3 913.9,360.1 916.7,359.9 920.2,361.6 922.5,363.6 924.8,366.2 931.1,373.7 940.9,387.6 950.2,398.2 950.7,398.8 955.4,403.1 955.9,403.6 957.1,404.4 959.4,405.6 960.0,405.8 965.1,406.2 965.7,406.1 972.1,403.5 973.2,402.8 975.5,401.3 976.1,400.7 979.6,394.2 981.3,392.8 982.4,392.3 989.4,390.5 990.5,390.4 991.7,390.3 996.8,390.5 998.0,390.8 1003.8,392.8 1004.3,393.1 1018.2,401.6 1018.7,401.9 1025.7,404.8 1026.2,405.0 1026.8,405.2 1035.5,407.3 1060.8,411.8 1070.0,413.5 1074.6,414.6 1082.7,417.1 1085.0,418.0 1095.4,422.9 1104.0,427.4 1130.0,440.3 1127.0,442.1 1101.0,430.4 1092.4,427.3 1082.0,424.3 1079.7,423.9 1071.6,422.9 1067.0,422.7 1057.8,422.4 1032.4,421.0 1023.8,419.7 1023.2,419.5 1022.6,419.4 1015.7,416.6 1015.2,416.3 1001.3,407.5 1000.8,407.2 995.0,405.4 993.8,405.3 988.6,405.6 987.5,405.8 986.3,406.2 979.4,409.3 978.3,410.0 976.5,412.0 973.1,420.5 972.5,421.4 970.2,423.5 969.1,424.5 962.7,428.5 962.1,428.7 957.0,428.8 956.4,428.6 954.1,427.3 952.9,426.4 952.3,426.0 947.7,421.1 947.2,420.4 937.9,408.2 928.1,391.9 921.8,383.2 919.5,380.3 917.2,377.9 913.7,376.2 910.9,376.9 894.7,385.1 894.1,385.3 886.7,387.6 886.1,389.0 884.9,391.8 878.6,405.3 875.7,408.9 875.1,409.3 872.8,409.5 870.5,407.4 868.8,404.5 866.5,399.2 860.7,384.3 855.5,380.7 850.3,376.5 841.7,368.9 841.1,368.3 831.9,355.5 826.7,353.5 824.4,359.5 821.0,371.2 819.8,375.7 815.8,393.0Z"/>
</g>
<polygon points="1210.9,427.2 1232.7,435.4 1254.5,454.5 1276.2,481.7 1281.7,508.9 1268.0,536.0 1264.0,574.0 1263.2,617.8 1258.5,585.0 1249.0,541.6 1238.0,489.8 1224.5,454.5" fill="url(#hat)"/>
<polygon points="1344.3,427.2 1374.2,432.7 1401.5,454.5 1409.6,481.7 1401.5,514.3 1393.3,547.0 1387.9,519.8 1374.2,487.1 1357.9,454.5" fill="url(#hat)"/>
<polygon points="1390.8,404.5 1431.6,402.4 1472.4,420.8 1505.1,441.2 1492.9,445.3 1452.0,435.1 1411.2,420.8" fill="url(#hat2)"/>
<polygon points="1464.3,482.0 1501.0,478.0 1501.0,494.3 1476.5,500.4" fill="url(#hat2)"/>
<g stroke="#000" stroke-width="5" fill="none" stroke-linejoin="miter" stroke-linecap="butt">
<polyline points="689.0,653.0 689.0,197.0 1290.0,37.0 1751.0,246.0 1751.0,702.0 1150.0,862.0 689.0,653.0 689.0,197.0"/>
<line x1="689.0" y1="653.0" x2="708.3" y2="647.9"/>
<line x1="689.0" y1="561.8" x2="708.3" y2="556.7"/>
<line x1="689.0" y1="470.6" x2="708.3" y2="465.5"/>
<line x1="689.0" y1="379.4" x2="708.3" y2="374.3"/>
<line x1="689.0" y1="288.2" x2="708.3" y2="283.1"/>
<line x1="804.2" y1="705.2" x2="823.6" y2="700.1"/>
<line x1="919.5" y1="757.5" x2="938.8" y2="752.4"/>
<line x1="1034.8" y1="809.8" x2="1054.1" y2="804.6"/>
<line x1="1270.2" y1="830.0" x2="1252.0" y2="821.7"/>
<line x1="1390.4" y1="798.0" x2="1372.2" y2="789.7"/>
<line x1="1510.6" y1="766.0" x2="1492.4" y2="757.7"/>
<line x1="1630.8" y1="734.0" x2="1612.6" y2="725.7"/>
<line x1="1751.0" y1="702.0" x2="1732.8" y2="693.7"/>
</g>
<text x="638.0" y="234.0" font-size="66" text-anchor="end" >0</text>
<text x="638.0" y="324.7" font-size="66" text-anchor="end" >−20</text>
<text x="638.0" y="415.0" font-size="66" text-anchor="end" >−40</text>
<text x="638.0" y="507.5" font-size="66" text-anchor="end" >−60</text>
<text x="638.0" y="599.0" font-size="66" text-anchor="end" >−80</text>
<text x="638.0" y="663.0" font-size="66" text-anchor="end" >−100</text>
<text x="475.0" y="668.0" font-size="61.8" text-anchor="start" transform="rotate(-90.00 475.0 668.0)" >归一化幅度</text>
<text x="469.0" y="309.0" font-size="70" text-anchor="start" transform="rotate(-90.00 469.0 309.0)" textLength="128.0" lengthAdjust="spacingAndGlyphs" >(dB)</text>
<text x="633.4" y="709.0" font-size="66" text-anchor="middle" transform="rotate(24.39 633.4 709.0)" dominant-baseline="central">200</text>
<text x="753.6" y="762.4" font-size="66" text-anchor="middle" transform="rotate(24.39 753.6 762.4)" dominant-baseline="central">100</text>
<text x="875.0" y="816.0" font-size="66" text-anchor="middle" transform="rotate(24.39 875.0 816.0)" dominant-baseline="central">0</text>
<text x="989.8" y="870.3" font-size="66" text-anchor="middle" transform="rotate(24.39 989.8 870.3)" dominant-baseline="central">−100</text>
<text x="1115.4" y="923.4" font-size="66" text-anchor="middle" transform="rotate(24.39 1115.4 923.4)" dominant-baseline="central">−200</text>
<text x="777.4" y="892" font-size="66" text-anchor="middle" dominant-baseline="central" transform="rotate(24.39 777.4 892)"><tspan font-style="italic">η</tspan> (°)</text>
<text x="1197.0" y="921.0" font-size="66" text-anchor="middle" transform="rotate(-14.91 1197.0 921.0)" dominant-baseline="central">0</text>
<text x="1319.0" y="890.0" font-size="66" text-anchor="middle" transform="rotate(-14.91 1319.0 890.0)" dominant-baseline="central">20</text>
<text x="1440.0" y="856.5" font-size="66" text-anchor="middle" transform="rotate(-14.91 1440.0 856.5)" dominant-baseline="central">40</text>
<text x="1560.5" y="824.0" font-size="66" text-anchor="middle" transform="rotate(-14.91 1560.5 824.0)" dominant-baseline="central">60</text>
<text x="1681.6" y="793.0" font-size="66" text-anchor="middle" transform="rotate(-14.91 1681.6 793.0)" dominant-baseline="central">80</text>
<text x="1803.0" y="759.5" font-size="66" text-anchor="middle" transform="rotate(-14.91 1803.0 759.5)" dominant-baseline="central">100</text>
<text x="1561" y="921" font-size="66" text-anchor="middle" dominant-baseline="central" transform="rotate(-14.91 1561 921)"><tspan font-style="italic">θ</tspan> (°)</text>
<rect x="880" y="662.4" width="279" height="78" fill="#fff"/>
<rect x="922" y="159" width="250" height="75.5" fill="#fff"/>
<text x="927.5" y="214.6" font-size="68" text-anchor="start" textLength="233.0" lengthAdjust="spacingAndGlyphs" >(2°, 50°)</text>
<text x="882.8" y="723.0" font-size="68" text-anchor="start" textLength="270.0" lengthAdjust="spacingAndGlyphs" >(1°, 100°)</text>
<line x1="949.0" y1="243.0" x2="880.9" y2="591.7" stroke="#000" stroke-width="4.5"/><polygon points="874.0,627.0 861.3,587.8 900.5,595.5" fill="#000"/>
<line x1="882.0" y1="681.6" x2="827.4" y2="599.4" stroke="#000" stroke-width="4.5"/><polygon points="807.5,569.4 844.1,588.3 810.8,610.5" fill="#000"/>
<g shape-rendering="crispEdges">
<rect x="2274.50" y="78.15" width="6.51" height="744.30" fill="url(#h0)"/>
<rect x="2280.41" y="78.15" width="6.51" height="744.30" fill="url(#h1)"/>
<rect x="2286.31" y="78.15" width="6.51" height="744.30" fill="url(#h2)"/>
<rect x="2292.22" y="78.15" width="6.51" height="744.30" fill="url(#h3)"/>
<rect x="2298.12" y="78.15" width="6.51" height="744.30" fill="url(#h4)"/>
<rect x="2304.03" y="78.15" width="6.51" height="744.30" fill="url(#h5)"/>
<rect x="2309.93" y="78.15" width="6.51" height="744.30" fill="url(#h6)"/>
<rect x="2315.84" y="78.15" width="6.51" height="744.30" fill="url(#h7)"/>
<rect x="2321.74" y="78.15" width="12.41" height="744.30" fill="url(#h8)"/>
<rect x="2333.55" y="78.15" width="12.41" height="744.30" fill="url(#h9)"/>
<rect x="2345.37" y="78.15" width="12.41" height="744.30" fill="url(#h10)"/>
<rect x="2357.18" y="78.15" width="12.41" height="744.30" fill="url(#h11)"/>
<rect x="2368.99" y="78.15" width="12.41" height="744.30" fill="url(#h12)"/>
<rect x="2380.80" y="78.15" width="12.41" height="744.30" fill="url(#h13)"/>
<rect x="2392.61" y="78.15" width="12.41" height="744.30" fill="url(#h14)"/>
<rect x="2404.42" y="78.15" width="12.41" height="744.30" fill="url(#h15)"/>
<rect x="2416.23" y="78.15" width="12.41" height="744.30" fill="url(#h16)"/>
<rect x="2428.04" y="78.15" width="12.41" height="744.30" fill="url(#h17)"/>
<rect x="2439.85" y="78.15" width="12.41" height="744.30" fill="url(#h18)"/>
<rect x="2451.66" y="78.15" width="12.41" height="744.30" fill="url(#h19)"/>
<rect x="2463.48" y="78.15" width="12.41" height="744.30" fill="url(#h20)"/>
<rect x="2475.29" y="78.15" width="12.41" height="744.30" fill="url(#h21)"/>
<rect x="2487.10" y="78.15" width="12.41" height="744.30" fill="url(#h22)"/>
<rect x="2498.91" y="78.15" width="12.41" height="744.30" fill="url(#h23)"/>
<rect x="2510.72" y="78.15" width="6.51" height="744.30" fill="url(#h24)"/>
<rect x="2516.63" y="78.15" width="6.51" height="744.30" fill="url(#h25)"/>
<rect x="2522.53" y="78.15" width="6.51" height="744.30" fill="url(#h26)"/>
<rect x="2528.44" y="78.15" width="6.51" height="744.30" fill="url(#h27)"/>
<rect x="2534.34" y="78.15" width="12.41" height="744.30" fill="url(#h28)"/>
<rect x="2546.15" y="78.15" width="12.41" height="744.30" fill="url(#h29)"/>
<rect x="2557.96" y="78.15" width="12.41" height="744.30" fill="url(#h30)"/>
<rect x="2569.78" y="78.15" width="12.41" height="744.30" fill="url(#h31)"/>
<rect x="2581.59" y="78.15" width="12.41" height="744.30" fill="url(#h32)"/>
<rect x="2593.40" y="78.15" width="12.41" height="744.30" fill="url(#h33)"/>
<rect x="2605.21" y="78.15" width="12.41" height="744.30" fill="url(#h34)"/>
<rect x="2617.02" y="78.15" width="12.41" height="744.30" fill="url(#h35)"/>
<rect x="2628.83" y="78.15" width="12.41" height="744.30" fill="url(#h36)"/>
<rect x="2640.64" y="78.15" width="12.41" height="744.30" fill="url(#h37)"/>
<rect x="2652.45" y="78.15" width="12.41" height="744.30" fill="url(#h38)"/>
<rect x="2664.26" y="78.15" width="6.51" height="744.30" fill="url(#h39)"/>
<rect x="2670.17" y="78.15" width="6.51" height="744.30" fill="url(#h40)"/>
<rect x="2676.07" y="78.15" width="6.51" height="744.30" fill="url(#h41)"/>
<rect x="2681.98" y="78.15" width="6.51" height="744.30" fill="url(#h42)"/>
<rect x="2687.89" y="78.15" width="12.41" height="744.30" fill="url(#h43)"/>
<rect x="2699.70" y="78.15" width="12.41" height="744.30" fill="url(#h44)"/>
<rect x="2711.51" y="78.15" width="12.41" height="744.30" fill="url(#h45)"/>
<rect x="2723.32" y="78.15" width="12.41" height="744.30" fill="url(#h46)"/>
<rect x="2735.13" y="78.15" width="12.41" height="744.30" fill="url(#h47)"/>
<rect x="2746.94" y="78.15" width="12.41" height="744.30" fill="url(#h48)"/>
<rect x="2758.75" y="78.15" width="12.41" height="744.30" fill="url(#h49)"/>
<rect x="2770.56" y="78.15" width="12.41" height="744.30" fill="url(#h50)"/>
<rect x="2782.37" y="78.15" width="12.41" height="744.30" fill="url(#h51)"/>
<rect x="2794.18" y="78.15" width="3.55" height="744.30" fill="url(#h52)"/>
<rect x="2797.14" y="78.15" width="3.55" height="744.30" fill="url(#h53)"/>
<rect x="2800.09" y="78.15" width="3.55" height="744.30" fill="url(#h54)"/>
<rect x="2803.04" y="78.15" width="3.55" height="744.30" fill="url(#h55)"/>
<rect x="2805.99" y="78.15" width="3.55" height="744.30" fill="url(#h56)"/>
<rect x="2808.95" y="78.15" width="3.55" height="744.30" fill="url(#h57)"/>
<rect x="2811.90" y="78.15" width="3.55" height="744.30" fill="url(#h58)"/>
<rect x="2814.85" y="78.15" width="3.55" height="744.30" fill="url(#h59)"/>
<rect x="2817.81" y="78.15" width="6.51" height="744.30" fill="url(#h60)"/>
<rect x="2823.71" y="78.15" width="6.51" height="744.30" fill="url(#h61)"/>
<rect x="2829.62" y="78.15" width="12.41" height="744.30" fill="url(#h62)"/>
<rect x="2841.43" y="78.15" width="12.41" height="744.30" fill="url(#h63)"/>
<rect x="2853.24" y="78.15" width="12.41" height="744.30" fill="url(#h64)"/>
<rect x="2865.05" y="78.15" width="12.41" height="744.30" fill="url(#h65)"/>
<rect x="2876.86" y="78.15" width="12.41" height="744.30" fill="url(#h66)"/>
<rect x="2888.67" y="78.15" width="12.41" height="744.30" fill="url(#h67)"/>
<rect x="2900.48" y="78.15" width="12.41" height="744.30" fill="url(#h68)"/>
<rect x="2912.29" y="78.15" width="12.41" height="744.30" fill="url(#h69)"/>
<rect x="2924.11" y="78.15" width="12.41" height="744.30" fill="url(#h70)"/>
<rect x="2935.92" y="78.15" width="12.41" height="744.30" fill="url(#h71)"/>
<rect x="2947.73" y="78.15" width="12.41" height="744.30" fill="url(#h72)"/>
<rect x="2959.54" y="78.15" width="12.41" height="744.30" fill="url(#h73)"/>
<rect x="2971.35" y="78.15" width="12.41" height="744.30" fill="url(#h74)"/>
<rect x="2983.16" y="78.15" width="12.41" height="744.30" fill="url(#h75)"/>
<rect x="2994.97" y="78.15" width="12.41" height="744.30" fill="url(#h76)"/>
<rect x="3006.78" y="78.15" width="12.41" height="744.30" fill="url(#h77)"/>
<rect x="3018.59" y="78.15" width="12.41" height="744.30" fill="url(#h78)"/>
<rect x="3030.40" y="78.15" width="12.41" height="744.30" fill="url(#h79)"/>
<rect x="3042.22" y="78.15" width="12.41" height="744.30" fill="url(#h80)"/>
<rect x="3054.03" y="78.15" width="12.41" height="744.30" fill="url(#h81)"/>
<rect x="3065.84" y="78.15" width="12.41" height="744.30" fill="url(#h82)"/>
<rect x="3077.65" y="78.15" width="12.41" height="744.30" fill="url(#h83)"/>
<rect x="3089.46" y="78.15" width="12.41" height="744.30" fill="url(#h84)"/>
<rect x="3101.27" y="78.15" width="12.41" height="744.30" fill="url(#h85)"/>
<rect x="3113.08" y="78.15" width="12.41" height="744.30" fill="url(#h86)"/>
<rect x="3124.89" y="78.15" width="12.41" height="744.30" fill="url(#h87)"/>
<rect x="3136.70" y="78.15" width="12.41" height="744.30" fill="url(#h88)"/>
<rect x="3148.51" y="78.15" width="12.41" height="744.30" fill="url(#h89)"/>
<rect x="3160.32" y="78.15" width="12.41" height="744.30" fill="url(#h90)"/>
<rect x="3172.14" y="78.15" width="12.41" height="744.30" fill="url(#h91)"/>
<rect x="3183.95" y="78.15" width="12.41" height="744.30" fill="url(#h92)"/>
<rect x="3195.76" y="78.15" width="12.41" height="744.30" fill="url(#h93)"/>
<rect x="3207.57" y="78.15" width="12.41" height="744.30" fill="url(#h94)"/>
<rect x="3219.38" y="78.15" width="12.41" height="744.30" fill="url(#h95)"/>
<rect x="3231.19" y="78.15" width="12.41" height="744.30" fill="url(#h96)"/>
<rect x="3243.00" y="78.15" width="12.41" height="744.30" fill="url(#h97)"/>
<rect x="3254.81" y="78.15" width="12.41" height="744.30" fill="url(#h98)"/>
<rect x="3266.62" y="78.15" width="24.22" height="744.30" fill="url(#h99)"/>
<rect x="3290.25" y="78.15" width="24.22" height="744.30" fill="url(#h100)"/>
<rect x="3313.87" y="78.15" width="24.22" height="744.30" fill="url(#h101)"/>
</g>
<rect x="2274.50" y="78.15" width="1062.99" height="744.30" fill="url(#tex)"/>
<g stroke="#000" stroke-width="4" fill="none">
<line x1="2392.6" y1="864.0" x2="2392.6" y2="851.0"/>
<line x1="2510.7" y1="864.0" x2="2510.7" y2="851.0"/>
<line x1="2628.8" y1="864.0" x2="2628.8" y2="851.0"/>
<line x1="2746.9" y1="864.0" x2="2746.9" y2="851.0"/>
<line x1="2865.1" y1="864.0" x2="2865.1" y2="851.0"/>
<line x1="2983.2" y1="864.0" x2="2983.2" y2="851.0"/>
<line x1="3101.3" y1="864.0" x2="3101.3" y2="851.0"/>
<line x1="3219.4" y1="864.0" x2="3219.4" y2="851.0"/>
<line x1="2274.5" y1="760.4" x2="2287.5" y2="760.4"/>
<line x1="2274.5" y1="657.0" x2="2287.5" y2="657.0"/>
<line x1="2274.5" y1="553.7" x2="2287.5" y2="553.7"/>
<line x1="2274.5" y1="450.3" x2="2287.5" y2="450.3"/>
<line x1="2274.5" y1="346.9" x2="2287.5" y2="346.9"/>
<line x1="2274.5" y1="243.6" x2="2287.5" y2="243.6"/>
<line x1="2274.5" y1="140.2" x2="2287.5" y2="140.2"/>
</g>
<rect x="2274.5" y="37.0" width="1063.0" height="827.0" fill="none" stroke="#000" stroke-width="5"/>
<text x="2274.5" y="958.0" font-size="66" text-anchor="middle" >0</text>
<text x="2392.6" y="958.0" font-size="66" text-anchor="middle" >10</text>
<text x="2510.7" y="958.0" font-size="66" text-anchor="middle" >20</text>
<text x="2628.8" y="958.0" font-size="66" text-anchor="middle" >30</text>
<text x="2746.9" y="958.0" font-size="66" text-anchor="middle" >40</text>
<text x="2865.1" y="958.0" font-size="66" text-anchor="middle" >50</text>
<text x="2983.2" y="958.0" font-size="66" text-anchor="middle" >60</text>
<text x="3101.3" y="958.0" font-size="66" text-anchor="middle" >70</text>
<text x="3219.4" y="958.0" font-size="66" text-anchor="middle" >80</text>
<text x="3337.5" y="958.0" font-size="66" text-anchor="middle" >90</text>
<text x="2226.0" y="882.3" font-size="66" text-anchor="end" >−200</text>
<text x="2226.0" y="778.9" font-size="66" text-anchor="end" >−150</text>
<text x="2226.0" y="675.5" font-size="66" text-anchor="end" >−100</text>
<text x="2226.0" y="572.2" font-size="66" text-anchor="end" >−50</text>
<text x="2226.0" y="468.8" font-size="66" text-anchor="end" >0</text>
<text x="2226.0" y="365.4" font-size="66" text-anchor="end" >50</text>
<text x="2226.0" y="262.1" font-size="66" text-anchor="end" >100</text>
<text x="2226.0" y="158.7" font-size="66" text-anchor="end" >150</text>
<text x="2226.0" y="55.3" font-size="66" text-anchor="end" >200</text>
<text x="2024" y="453" font-size="72" text-anchor="middle" transform="rotate(-90 2024 453)"><tspan font-style="italic">η</tspan> (°)</text>
<text x="2804.6" y="1074" font-size="70" text-anchor="middle"><tspan font-style="italic">θ</tspan> (°)</text>
<line x1="2431.0" y1="243.3" x2="2343.0" y2="243.3" stroke="#000" stroke-width="4.5"/><polygon points="2307.0,243.3 2343.0,221.8 2343.0,264.8" fill="#000"/>
<line x1="2426.0" y1="341.2" x2="2370.0" y2="341.2" stroke="#000" stroke-width="4.5"/><polygon points="2334.0,341.2 2370.0,319.7 2370.0,362.7" fill="#000"/>
<text x="2442.9" y="265.7" font-size="68" text-anchor="start" textLength="269.0" lengthAdjust="spacingAndGlyphs" >(1°, 100°)</text>
<text x="2446.4" y="367.8" font-size="68" text-anchor="start" textLength="237.3" lengthAdjust="spacingAndGlyphs" >(2°, 50°)</text>
<text x="1144.0" y="1197.0" font-size="67" text-anchor="middle" textLength="297.0" lengthAdjust="spacingAndGlyphs" >(a) 三维图</text>
<text x="1146.0" y="1277.0" font-size="67" text-anchor="middle" textLength="829.0" lengthAdjust="spacingAndGlyphs" >(a) 3D view of beam pattern</text>
<text x="2804.7" y="1197.0" font-size="67" text-anchor="middle" textLength="303.0" lengthAdjust="spacingAndGlyphs" >(b) 俯视图</text>
<text x="2807.6" y="1277.0" font-size="67" text-anchor="middle" textLength="867.6" lengthAdjust="spacingAndGlyphs" >(b) Top view of beam pattern</text>
</svg></body></html>
